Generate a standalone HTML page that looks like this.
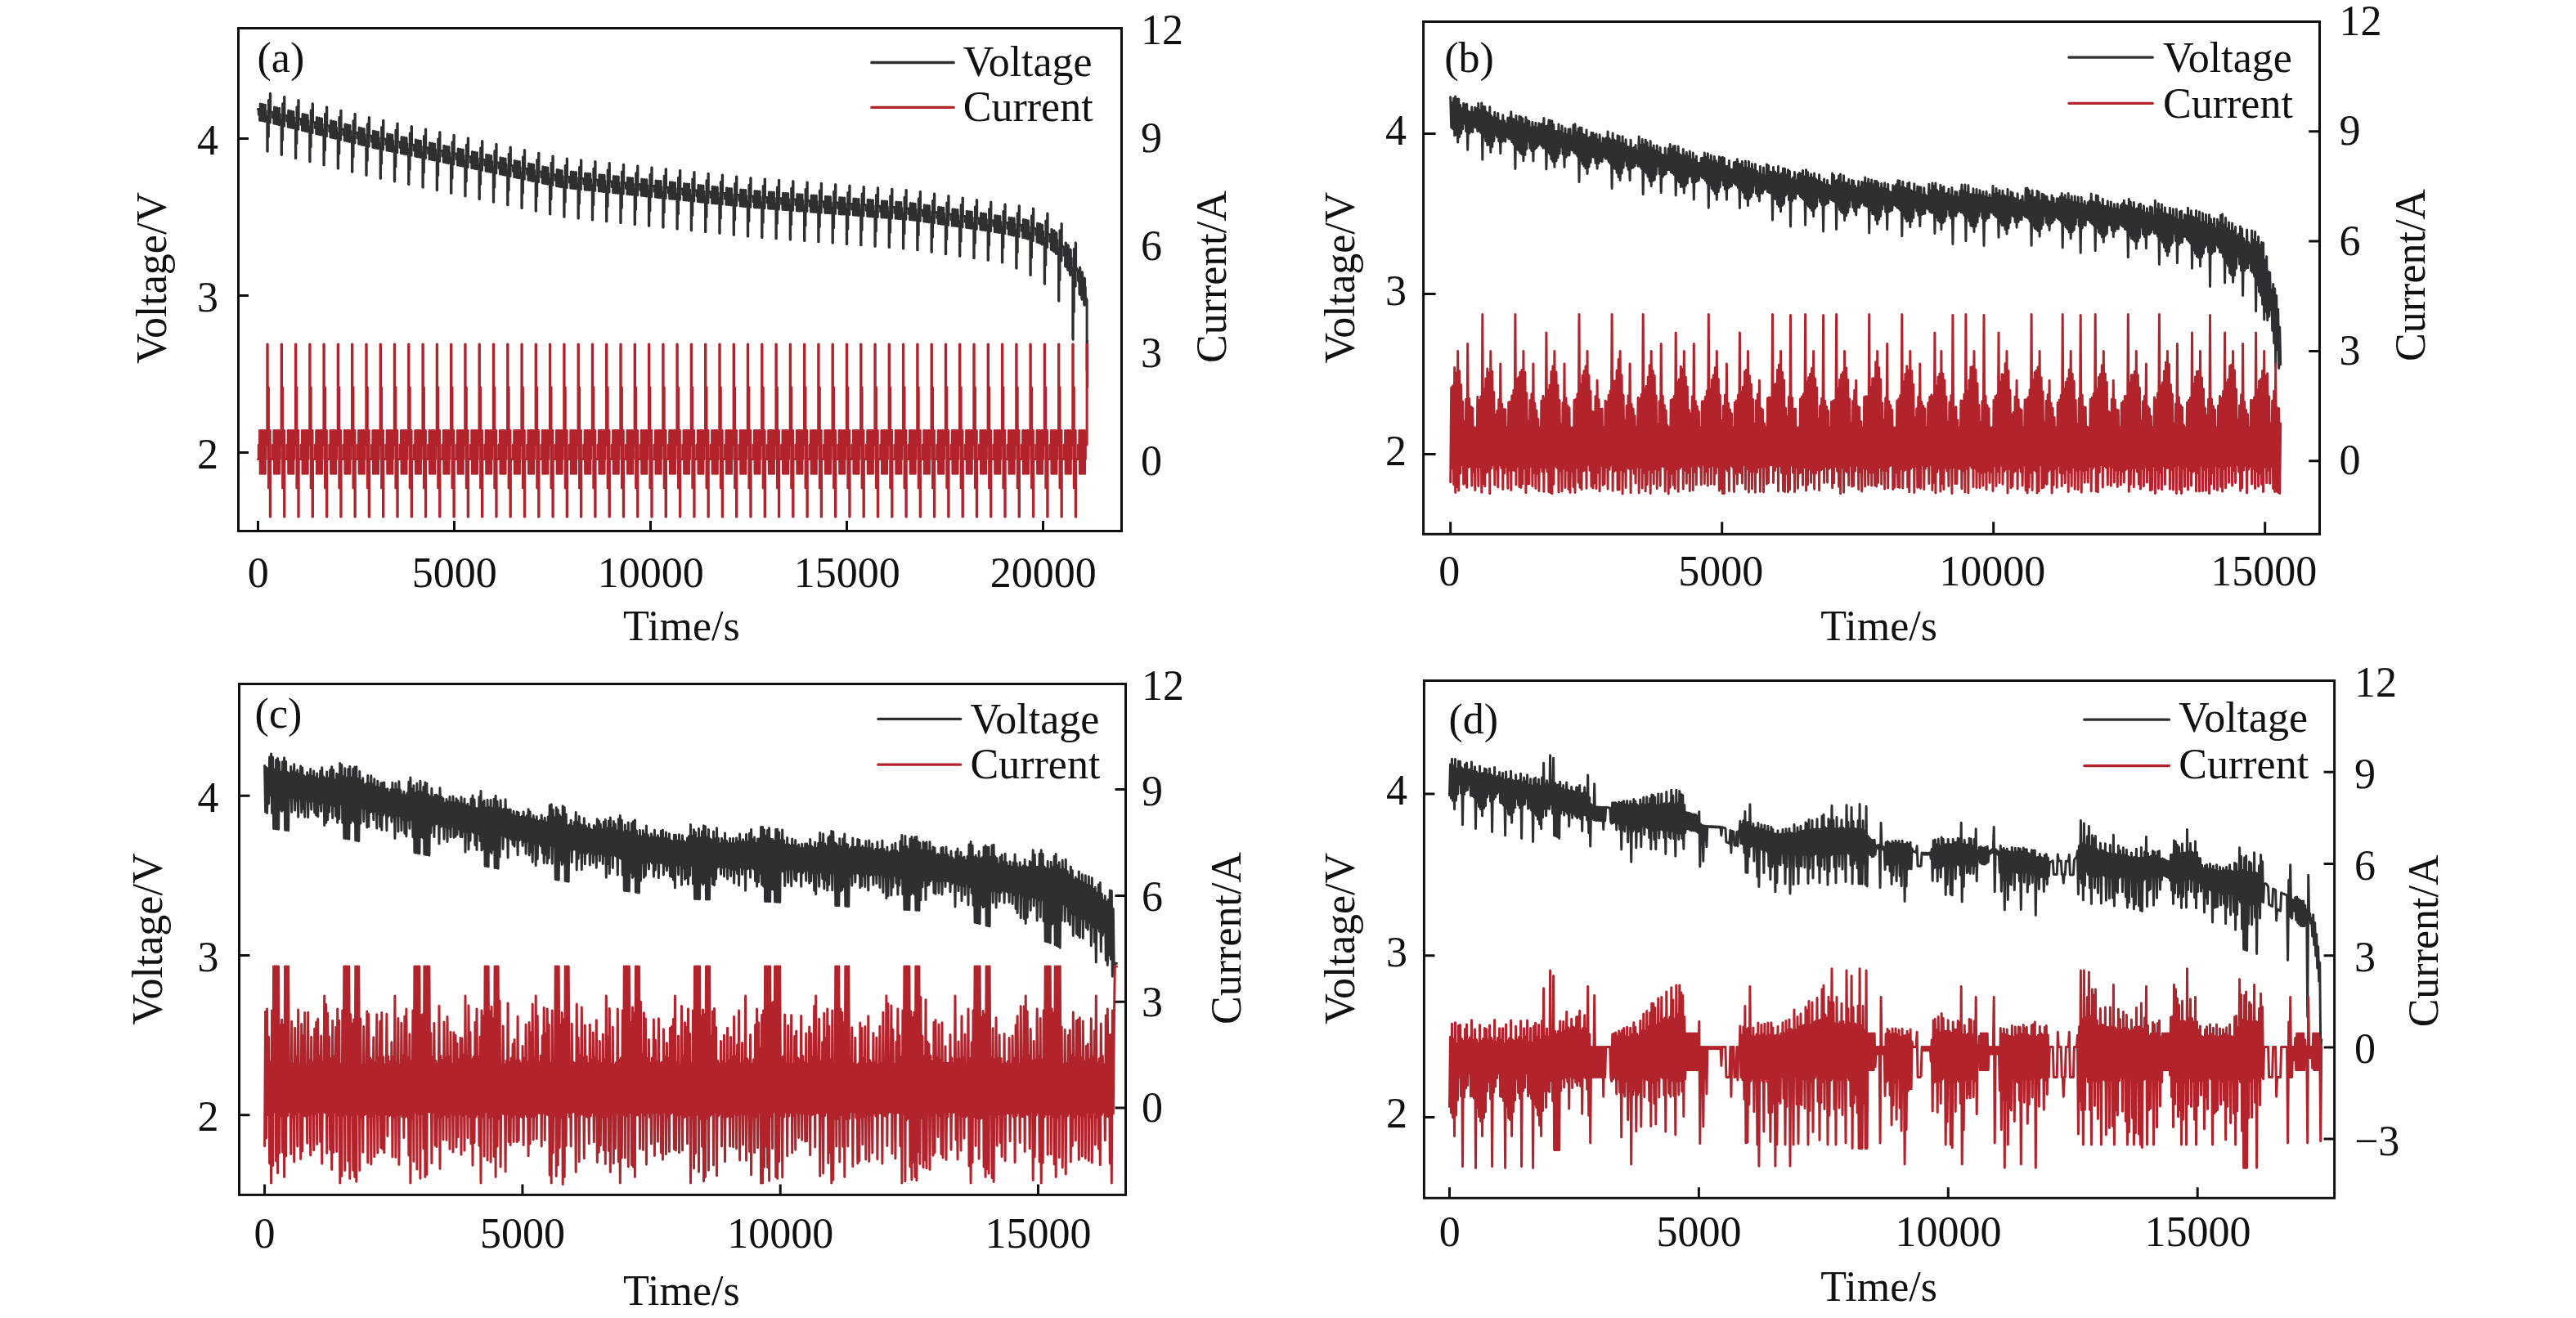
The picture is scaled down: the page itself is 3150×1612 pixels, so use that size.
<!DOCTYPE html>
<html><head><meta charset="utf-8"><title>Voltage and current profiles</title>
<style>html,body{margin:0;padding:0;background:#fff}svg{display:block}text{font-family:"Liberation Serif","Times New Roman",serif;font-size:52px;fill:#111}</style></head><body>
<svg width="3150" height="1612" viewBox="0 0 3150 1612">
<rect width="3150" height="1612" fill="#fff"/>
<g id="panel-a">
<path d="M315.5 133.5L316.3 133.6L316.3 140.3L317.6 140.5L317.6 147.2L318.2 147.3L318.2 127.1L318.6 127.1L318.6 133.9L319.3 134L319.3 140.7L320.5 140.8L320.5 147.6L321.1 147.7L321.1 127.5L321.5 127.6L321.5 134.4L322.2 134.5L322.2 141.3L323.4 141.5L323.4 148.3L323.9 148.4L323.9 128.2L324.3 128.3L324.3 135.1L325.1 135.2L325.1 142L326.8 142.4L326.8 185.1L327.2 185.2L327.2 166.8L328.4 167L328.4 122.6L328.7 122.7L328.7 149.6L330.3 149.9L330.3 114.3L330.7 114.4L330.7 136.6L332.8 137.1L332.8 137.1L333.5 137.3L333.5 144L334.9 144.3L334.9 151L335.5 151.2L335.5 131L335.9 131.1L335.9 137.8L336.6 138L336.6 144.7L337.8 145L337.8 151.7L338.3 151.9L338.3 131.7L338.7 131.8L338.7 138.5L339.5 138.7L339.5 145.4L340.7 145.7L340.7 152.4L341.2 152.6L341.2 132.4L341.6 132.5L341.6 139.2L342.4 139.4L342.4 146.1L344.1 146.6L344.1 189.3L344.5 189.4L344.5 170.9L345.6 171.2L345.6 126.8L346 126.9L346 153.7L347.6 154.1L347.6 118.5L347.9 118.5L347.9 140.8L350.1 141.3L350.1 141.3L350.8 141.5L350.8 148.2L352.2 148.5L352.2 155.2L352.7 155.4L352.7 135.2L353.1 135.3L353.1 142L353.9 142.2L353.9 148.9L355.1 149.2L355.1 155.9L355.6 156.1L355.6 135.9L356 136L356 142.7L356.8 142.9L356.8 149.6L357.9 149.9L357.9 156.6L358.5 156.8L358.5 136.6L358.9 136.7L358.9 143.4L359.7 143.6L359.7 150.3L361.4 150.7L361.4 193.5L361.8 193.5L361.8 175.1L362.9 175.4L362.9 130.9L363.3 131L363.3 157.9L364.8 158.3L364.8 122.6L365.2 122.7L365.2 144.9L367.3 145.5L367.3 145.5L368.1 145.6L368.1 152.4L369.5 152.7L369.5 159.4L370 159.5L370 139.4L370.4 139.5L370.4 146.2L371.2 146.4L371.2 153.1L372.3 153.4L372.3 160.1L372.9 160.2L372.9 140.1L373.3 140.2L373.3 146.9L374.1 147.1L374.1 153.8L375.2 154.1L375.2 160.8L375.8 160.9L375.8 140.8L376.2 140.9L376.2 147.6L376.9 147.8L376.9 154.5L378.7 154.9L378.7 197.6L379.1 197.7L379.1 179.3L380.2 179.6L380.2 135.1L380.6 135.2L380.6 162.1L382.1 162.5L382.1 126.8L382.5 126.9L382.5 149.1L384.6 149.6L384.6 149.6L385.4 149.8L385.4 156.5L386.7 156.9L386.7 163.6L387.3 163.7L387.3 143.6L387.7 143.7L387.7 150.4L388.5 150.6L388.5 157.3L389.6 157.6L389.6 164.3L390.2 164.4L390.2 144.3L390.6 144.3L390.6 151.1L391.3 151.3L391.3 158L392.5 158.3L392.5 165L393.1 165.1L393.1 145L393.5 145L393.5 151.8L394.2 152L394.2 158.7L395.9 159.1L395.9 201.8L396.3 201.9L396.3 183.5L397.5 183.7L397.5 139.3L397.9 139.4L397.9 166.3L399.4 166.6L399.4 131L399.8 131.1L399.8 153.3L401.9 153.8L401.9 153.8L402.7 154L402.7 160.7L404 161L404 167.8L404.6 167.9L404.6 147.7L405 147.8L405 154.6L405.7 154.7L405.7 161.5L406.9 161.7L406.9 168.5L407.5 168.6L407.5 148.4L407.9 148.5L407.9 155.2L408.6 155.4L408.6 162.2L409.8 162.4L409.8 169.2L410.3 169.3L410.3 149.1L410.7 149.2L410.7 155.9L411.5 156.1L411.5 162.9L413.2 163.3L413.2 206L413.6 206.1L413.6 187.6L414.8 187.9L414.8 143.5L415.1 143.6L415.1 170.5L416.7 170.8L416.7 135.2L417.1 135.3L417.1 157.5L419.2 158L419.2 158L419.9 158.2L419.9 164.9L421.3 165.2L421.3 171.9L421.9 172.1L421.9 151.9L422.3 152L422.3 158.7L423 158.9L423 165.6L424.2 165.9L424.2 172.6L424.7 172.8L424.7 152.6L425.1 152.7L425.1 159.4L425.9 159.6L425.9 166.3L427.1 166.6L427.1 173.3L427.6 173.5L427.6 153.3L428 153.4L428 160.1L428.8 160.3L428.8 167L430.5 167.4L430.5 210.2L430.9 210.3L430.9 191.8L432 192.1L432 147.7L432.4 147.8L432.4 174.6L434 175L434 139.3L434.3 139.4L434.3 161.7L436.5 162.2L436.5 162.2L437.2 162.4L437.2 169.1L438.6 169.4L438.6 176.1L439.1 176.3L439.1 156.1L439.5 156.2L439.5 162.9L440.3 163.1L440.3 169.8L441.5 170.1L441.5 176.8L442 177L442 156.8L442.4 156.9L442.4 163.6L443.2 163.8L443.2 170.5L444.3 170.8L444.3 177.5L444.9 177.6L444.9 157.5L445.3 157.6L445.3 164.3L446.1 164.5L446.1 171.2L447.8 171.6L447.8 214.3L448.2 214.4L448.2 196L449.3 196.3L449.3 151.8L449.7 151.9L449.7 178.8L451.2 179.2L451.2 143.5L451.6 143.6L451.6 165.8L453.7 166.3L453.7 166.3L454.5 166.5L454.5 173.3L455.9 173.6L455.9 180.3L456.4 180.4L456.4 160.2L456.8 160.3L456.8 167L457.6 167.2L457.6 173.9L458.7 174.2L458.7 180.9L459.3 181L459.3 160.8L459.7 160.9L459.7 167.6L460.5 167.8L460.5 174.5L461.6 174.8L461.6 181.5L462.2 181.6L462.2 161.4L462.6 161.5L462.6 168.2L463.3 168.4L463.3 175.1L465.1 175.5L465.1 218.2L465.5 218.3L465.5 199.8L466.6 200.1L466.6 155.6L467 155.7L467 182.6L468.5 182.9L468.5 147.3L468.9 147.3L468.9 169.6L471 170L471 170L471.8 170.2L471.8 176.9L473.1 177.2L473.1 183.9L473.7 184L473.7 163.8L474.1 163.9L474.1 170.6L474.9 170.8L474.9 177.5L476 177.8L476 184.5L476.6 184.6L476.6 164.4L477 164.5L477 171.2L477.7 171.4L477.7 178.1L478.9 178.4L478.9 185.1L479.5 185.2L479.5 165L479.9 165.1L479.9 171.8L480.6 172L480.6 178.7L482.3 179.1L482.3 221.8L482.7 221.9L482.7 203.5L483.9 203.7L483.9 159.2L484.3 159.3L484.3 186.2L485.8 186.5L485.8 150.9L486.2 151L486.2 173.2L488.3 173.6L488.3 173.6L489.1 173.8L489.1 180.5L490.4 180.8L490.4 187.5L491 187.6L491 167.4L491.4 167.5L491.4 174.2L492.1 174.4L492.1 181.1L493.3 181.4L493.3 188.1L493.9 188.2L493.9 168L494.3 168.1L494.3 174.8L495 175L495 181.7L496.2 182L496.2 188.7L496.7 188.8L496.7 168.6L497.1 168.7L497.1 175.4L497.9 175.6L497.9 182.3L499.6 182.7L499.6 225.4L500 225.5L500 207.1L501.2 207.3L501.2 162.9L501.5 162.9L501.5 189.8L503.1 190.1L503.1 154.5L503.5 154.6L503.5 176.8L505.6 177.2L505.6 177.2L506.3 177.4L506.3 184.1L507.7 184.4L507.7 191.1L508.3 191.2L508.3 171.1L508.7 171.1L508.7 177.9L509.4 178L509.4 184.7L510.6 185L510.6 191.7L511.1 191.8L511.1 171.7L511.5 171.7L511.5 178.5L512.3 178.6L512.3 185.3L513.5 185.6L513.5 192.3L514 192.4L514 172.3L514.4 172.3L514.4 179.1L515.2 179.2L515.2 185.9L516.9 186.3L516.9 229L517.3 229.1L517.3 210.7L518.4 210.9L518.4 166.5L518.8 166.5L518.8 193.4L520.4 193.7L520.4 158.1L520.7 158.2L520.7 180.4L522.9 180.8L522.9 180.8L523.6 181L523.6 187.7L525 188L525 194.7L525.5 194.8L525.5 174.7L525.9 174.7L525.9 181.5L526.7 181.6L526.7 188.3L527.9 188.6L527.9 195.3L528.4 195.4L528.4 175.3L528.8 175.3L528.8 182.1L529.6 182.2L529.6 188.9L530.7 189.2L530.7 195.9L531.3 196L531.3 175.9L531.7 175.9L531.7 182.7L532.5 182.8L532.5 189.5L534.2 189.9L534.2 232.6L534.6 232.7L534.6 214.3L535.7 214.5L535.7 170.1L536.1 170.1L536.1 197L537.6 197.3L537.6 161.7L538 161.8L538 184L540.1 184.4L540.1 184.4L540.9 184.6L540.9 191.3L542.3 191.6L542.3 198.3L542.8 198.4L542.8 178.3L543.2 178.3L543.2 185.1L544 185.2L544 191.9L545.1 192.2L545.1 198.9L545.7 199L545.7 178.9L546.1 178.9L546.1 185.7L546.9 185.8L546.9 192.5L548 192.8L548 199.5L548.6 199.6L548.6 179.5L549 179.5L549 186.3L549.7 186.4L549.7 193.1L551.5 193.5L551.5 236.2L551.9 236.3L551.9 217.9L553 218.1L553 173.7L553.4 173.7L553.4 200.6L554.9 200.9L554.9 165.3L555.3 165.4L555.3 187.6L557.4 188L557.4 188L558.2 188.2L558.2 194.9L559.5 195.2L559.5 201.9L560.1 202L560.1 181.9L560.5 181.9L560.5 188.7L561.3 188.8L561.3 195.6L562.4 195.8L562.4 202.5L563 202.6L563 182.5L563.4 182.6L563.4 189.3L564.1 189.4L564.1 196.2L565.3 196.4L565.3 203.1L565.9 203.2L565.9 183.1L566.3 183.2L566.3 189.9L567 190L567 196.8L568.7 197.1L568.7 239.8L569.1 239.9L569.1 221.5L570.3 221.7L570.3 177.3L570.7 177.4L570.7 204.2L572.2 204.6L572.2 168.9L572.6 169L572.6 191.2L574.7 191.6L574.7 191.6L575.5 191.8L575.5 198.5L576.8 198.8L576.8 205.5L577.4 205.6L577.4 185.5L577.8 185.6L577.8 192.3L578.5 192.4L578.5 199.2L579.7 199.4L579.7 206.1L580.3 206.2L580.3 186.1L580.7 186.2L580.7 192.9L581.4 193L581.4 199.8L582.6 200L582.6 206.7L583.1 206.8L583.1 186.7L583.5 186.8L583.5 193.5L584.3 193.7L584.3 200.4L586 200.7L586 243.5L586.4 243.5L586.4 225.1L587.6 225.4L587.6 180.9L587.9 181L587.9 207.9L589.5 208.2L589.5 172.5L589.9 172.6L589.9 194.8L592 195.3L592 195.3L592.7 195.4L592.7 202.2L594.1 202.4L594.1 209.2L594.7 209.3L594.7 189.1L595.1 189.2L595.1 195.9L595.8 196.1L595.8 202.8L597 203.1L597 209.8L597.5 209.9L597.5 189.7L597.9 189.8L597.9 196.5L598.7 196.7L598.7 203.4L599.9 203.7L599.9 210.4L600.4 210.5L600.4 190.4L600.8 190.4L600.8 197.2L601.6 197.3L601.6 204L603.3 204.4L603.3 247.1L603.7 247.2L603.7 228.8L604.8 229L604.8 184.6L605.2 184.7L605.2 211.5L606.8 211.9L606.8 176.2L607.1 176.3L607.1 198.5L609.3 198.9L609.3 198.9L610 199.1L610 205.8L611.4 206.1L611.4 212.8L611.9 213L611.9 192.8L612.3 192.9L612.3 199.6L613.1 199.8L613.1 206.5L614.3 206.7L614.3 213.4L614.8 213.6L614.8 193.4L615.2 193.5L615.2 200.2L616 200.4L616 207.1L617.1 207.3L617.1 214.1L617.7 214.2L617.7 194L618.1 194.1L618.1 200.8L618.9 201L618.9 207.7L620.6 208.1L620.6 250.8L621 250.9L621 232.4L622.1 232.7L622.1 188.2L622.5 188.3L622.5 215.2L624 215.5L624 179.9L624.4 179.9L624.4 202.2L626.5 202.6L626.5 202.6L627.3 202.8L627.3 209.5L628.7 209.8L628.7 216.5L629.2 216.6L629.2 196.5L629.6 196.5L629.6 203.3L630.4 203.4L630.4 210.1L631.5 210.4L631.5 217.1L632.1 217.2L632.1 197.1L632.5 197.2L632.5 203.9L633.3 204L633.3 210.8L634.4 211L634.4 217.7L635 217.8L635 197.7L635.4 197.8L635.4 204.5L636.1 204.6L636.1 211.4L637.9 211.7L637.9 254.5L638.3 254.5L638.3 236.1L639.4 236.3L639.4 191.9L639.8 192L639.8 218.9L641.3 219.2L641.3 183.5L641.7 183.6L641.7 205.8L643.8 206.3L643.8 206.3L644.6 206.4L644.6 213.2L645.9 213.4L645.9 220.2L646.5 220.3L646.5 200.1L646.9 200.2L646.9 206.9L647.7 207.1L647.7 213.8L648.8 214.1L648.8 220.8L649.4 220.9L649.4 200.7L649.8 200.8L649.8 207.5L650.5 207.7L650.5 214.4L651.7 214.7L651.7 221.4L652.3 221.5L652.3 201.3L652.7 201.4L652.7 208.1L653.4 208.3L653.4 215L655.1 215.4L655.1 258.1L655.5 258.2L655.5 239.8L656.7 240L656.7 195.6L657.1 195.6L657.1 222.5L658.6 222.8L658.6 187.2L659 187.3L659 209.5L661.1 209.9L661.1 209.9L661.9 210.1L661.9 216.8L663.2 217.1L663.2 223.8L663.8 223.9L663.8 203.8L664.2 203.9L664.2 210.6L664.9 210.8L664.9 217.5L666.1 217.7L666.1 224.4L666.7 224.6L666.7 204.4L667.1 204.5L667.1 211.2L667.8 211.4L667.8 218.1L669 218.3L669 225L669.5 225.2L669.5 205L669.9 205.1L669.9 211.8L670.7 212L670.7 218.7L672.4 219.1L672.4 261.8L672.8 261.9L672.8 243.4L674 243.7L674 199.2L674.3 199.3L674.3 226.2L675.9 226.5L675.9 190.9L676.3 190.9L676.3 213.2L678.4 213.6L678.4 213.6L679.1 213.8L679.1 220.5L680.5 220.8L680.5 227.5L681.1 227.6L681.1 207.4L681.5 207.5L681.5 214.3L682.2 214.4L682.2 221.1L683.4 221.4L683.4 228.1L683.9 228.2L683.9 208.1L684.3 208.1L684.3 214.9L685.1 215L685.1 221.7L686.3 222L686.3 228.7L686.8 228.8L686.8 208.7L687.2 208.8L687.2 215.5L688 215.6L688 222.4L689.7 222.6L689.7 265.3L690.1 265.3L690.1 246.9L691.2 247L691.2 202.6L691.6 202.6L691.6 229.5L693.2 229.6L693.2 194L693.5 194L693.5 216.2L695.7 216.5L695.7 216.5L696.4 216.5L696.4 223.3L697.8 223.4L697.8 230.1L698.3 230.2L698.3 210L698.7 210.1L698.7 216.8L699.5 216.9L699.5 223.6L700.7 223.7L700.7 230.4L701.2 230.5L701.2 210.3L701.6 210.4L701.6 217.1L702.4 217.2L702.4 223.9L703.5 224L703.5 230.7L704.1 230.8L704.1 210.6L704.5 210.7L704.5 217.4L705.3 217.5L705.3 224.2L707 224.4L707 267.1L707.4 267.1L707.4 248.7L708.5 248.8L708.5 204.4L708.9 204.4L708.9 231.3L710.4 231.5L710.4 195.8L710.8 195.9L710.8 218.1L712.9 218.3L712.9 218.3L713.7 218.4L713.7 225.1L715.1 225.2L715.1 232L715.6 232L715.6 211.9L716 211.9L716 218.6L716.8 218.7L716.8 225.4L717.9 225.5L717.9 232.3L718.5 232.3L718.5 212.2L718.9 212.2L718.9 218.9L719.7 219L719.7 225.7L720.8 225.8L720.8 232.6L721.4 232.6L721.4 212.5L721.8 212.5L721.8 219.2L722.5 219.3L722.5 226L724.3 226.2L724.3 268.9L724.7 269L724.7 250.5L725.8 250.7L725.8 206.2L726.2 206.2L726.2 233.1L727.7 233.3L727.7 197.6L728.1 197.7L728.1 219.9L730.2 220.1L730.2 220.1L731 220.2L731 226.9L732.3 227.1L732.3 233.8L732.9 233.8L732.9 213.7L733.3 213.7L733.3 220.4L734.1 220.5L734.1 227.2L735.2 227.4L735.2 234.1L735.8 234.1L735.8 214L736.2 214L736.2 220.7L736.9 220.8L736.9 227.5L738.1 227.7L738.1 234.4L738.7 234.4L738.7 214.3L739.1 214.3L739.1 221L739.8 221.1L739.8 227.8L741.5 228L741.5 270.7L741.9 270.8L741.9 252.4L743.1 252.5L743.1 208L743.5 208.1L743.5 235L745 235.1L745 199.5L745.4 199.5L745.4 221.7L747.5 221.9L747.5 221.9L748.3 222L748.3 228.7L749.6 228.9L749.6 235.6L750.2 235.7L750.2 215.5L750.6 215.5L750.6 222.3L751.3 222.3L751.3 229.1L752.5 229.2L752.5 235.9L753.1 236L753.1 215.8L753.5 215.8L753.5 222.6L754.2 222.6L754.2 229.4L755.4 229.5L755.4 236.2L755.9 236.3L755.9 216.1L756.3 216.1L756.3 222.9L757.1 223L757.1 229.7L758.8 229.9L758.8 272.6L759.2 272.6L759.2 254.2L760.4 254.3L760.4 209.9L760.7 209.9L760.7 236.8L762.3 236.9L762.3 201.3L762.7 201.3L762.7 223.5L764.8 223.8L764.8 223.8L765.5 223.8L765.5 230.6L766.9 230.7L766.9 237.4L767.5 237.5L767.5 217.3L767.9 217.4L767.9 224.1L768.6 224.2L768.6 230.9L769.8 231L769.8 237.7L770.3 237.8L770.3 217.6L770.7 217.7L770.7 224.4L771.5 224.5L771.5 231.2L772.7 231.3L772.7 238L773.2 238.1L773.2 217.9L773.6 218L773.6 224.7L774.4 224.8L774.4 231.5L776.1 231.7L776.1 274.4L776.5 274.4L776.5 256L777.6 256.1L777.6 211.7L778 211.7L778 238.6L779.6 238.8L779.6 203.1L779.9 203.1L779.9 225.4L782.1 225.6L782.1 225.6L782.8 225.7L782.8 232.4L784.2 232.5L784.2 239.2L784.7 239.3L784.7 219.1L785.1 219.2L785.1 225.9L785.9 226L785.9 232.7L787.1 232.8L787.1 239.6L787.6 239.6L787.6 219.5L788 219.5L788 226.2L788.8 226.3L788.8 233L789.9 233.1L789.9 239.9L790.5 239.9L790.5 219.8L790.9 219.8L790.9 226.5L791.7 226.6L791.7 233.3L793.4 233.5L793.4 276.2L793.8 276.3L793.8 257.8L794.9 258L794.9 213.5L795.3 213.5L795.3 240.4L796.8 240.6L796.8 204.9L797.2 205L797.2 227.2L799.3 227.4L799.3 227.4L800.1 227.5L800.1 234.2L801.5 234.4L801.5 241.1L802 241.1L802 221L802.4 221L802.4 227.7L803.2 227.8L803.2 234.5L804.3 234.7L804.3 241.4L804.9 241.4L804.9 221.3L805.3 221.3L805.3 228L806.1 228.1L806.1 234.8L807.2 235L807.2 241.7L807.8 241.7L807.8 221.6L808.2 221.6L808.2 228.3L808.9 228.4L808.9 235.1L810.7 235.3L810.7 278L811.1 278.1L811.1 259.7L812.2 259.8L812.2 215.3L812.6 215.4L812.6 242.2L814.1 242.4L814.1 206.8L814.5 206.8L814.5 229L816.6 229.2L816.6 229.2L817.4 229.3L817.4 236L818.7 236.2L818.7 242.9L819.3 243L819.3 222.8L819.7 222.8L819.7 229.6L820.5 229.6L820.5 236.4L821.6 236.5L821.6 243.2L822.2 243.3L822.2 223.1L822.6 223.1L822.6 229.9L823.3 229.9L823.3 236.7L824.5 236.8L824.5 243.5L825.1 243.6L825.1 223.4L825.5 223.4L825.5 230.2L826.2 230.2L826.2 237L827.9 237.2L827.9 279.9L828.3 279.9L828.3 261.5L829.5 261.6L829.5 217.2L829.9 217.2L829.9 244.1L831.4 244.2L831.4 208.6L831.8 208.6L831.8 230.8L833.9 231.1L833.9 231.1L834.7 231.1L834.7 237.9L836 238L836 244.7L836.6 244.8L836.6 224.6L837 224.7L837 231.4L837.7 231.5L837.7 238.2L838.9 238.3L838.9 245L839.5 245.1L839.5 224.9L839.9 225L839.9 231.7L840.6 231.8L840.6 238.5L841.8 238.6L841.8 245.3L842.3 245.4L842.3 225.2L842.7 225.3L842.7 232L843.5 232.1L843.5 238.8L845.2 239L845.2 281.7L845.6 281.7L845.6 263.3L846.8 263.4L846.8 219L847.1 219L847.1 245.9L848.7 246.1L848.7 210.4L849.1 210.4L849.1 232.7L851.2 232.9L851.2 232.9L851.9 233L851.9 239.7L853.3 239.8L853.3 246.5L853.9 246.6L853.9 226.4L854.3 226.5L854.3 233.2L855 233.3L855 240L856.2 240.1L856.2 246.9L856.7 246.9L856.7 226.8L857.1 226.8L857.1 233.5L857.9 233.6L857.9 240.3L859.1 240.4L859.1 247.2L859.6 247.2L859.6 227.1L860 227.1L860 233.8L860.8 233.9L860.8 240.6L862.5 240.8L862.5 283.5L862.9 283.6L862.9 265.1L864 265.3L864 220.8L864.4 220.8L864.4 247.7L866 247.9L866 212.2L866.3 212.3L866.3 234.5L868.5 234.7L868.5 234.7L869.2 234.8L869.2 241.5L870.6 241.7L870.6 248.4L871.1 248.4L871.1 228.3L871.5 228.3L871.5 235L872.3 235.1L872.3 241.8L873.5 242L873.5 248.7L874 248.7L874 228.6L874.4 228.6L874.4 235.3L875.2 235.4L875.2 242.1L876.3 242.3L876.3 249L876.9 249L876.9 228.9L877.3 228.9L877.3 235.6L878.1 235.7L878.1 242.4L879.8 242.6L879.8 285.3L880.2 285.4L880.2 267L881.3 267.1L881.3 222.6L881.7 222.7L881.7 249.5L883.2 249.7L883.2 214.1L883.6 214.1L883.6 236.3L885.7 236.5L885.7 236.5L886.5 236.6L886.5 243.3L887.9 243.5L887.9 250.2L888.4 250.3L888.4 230.1L888.8 230.1L888.8 236.9L889.6 236.9L889.6 243.7L890.7 243.8L890.7 250.5L891.3 250.6L891.3 230.4L891.7 230.4L891.7 237.2L892.5 237.2L892.5 244L893.6 244.1L893.6 250.8L894.2 250.9L894.2 230.7L894.6 230.7L894.6 237.5L895.3 237.5L895.3 244.3L897.1 244.4L897.1 287.2L897.5 287.2L897.5 268.8L898.6 268.9L898.6 224.5L899 224.5L899 251.4L900.5 251.5L900.5 215.9L900.9 215.9L900.9 238.1L903 238.4L903 238.4L903.8 238.4L903.8 245.2L905.1 245.3L905.1 252L905.7 252.1L905.7 231.9L906.1 232L906.1 238.7L906.9 238.8L906.9 245.5L908 245.6L908 252.3L908.6 252.4L908.6 232.2L909 232.3L909 239L909.7 239.1L909.7 245.8L910.9 245.9L910.9 252.6L911.5 252.7L911.5 232.5L911.9 232.6L911.9 239.3L912.6 239.4L912.6 246.1L914.3 246.3L914.3 289L914.7 289L914.7 270.6L915.9 270.7L915.9 226.3L916.3 226.3L916.3 253.2L917.8 253.3L917.8 217.6L918.2 217.7L918.2 239.9L920.3 240L920.3 240L921.1 240.1L921.1 246.8L922.4 246.9L922.4 253.6L923 253.7L923 233.5L923.4 233.6L923.4 240.3L924.1 240.3L924.1 247.1L925.3 247.2L925.3 253.9L925.9 253.9L925.9 233.8L926.3 233.8L926.3 240.5L927 240.6L927 247.3L928.2 247.4L928.2 254.1L928.7 254.1L928.7 234L929.1 234L929.1 240.7L929.9 240.8L929.9 247.5L931.6 247.6L931.6 290.4L932 290.4L932 272L933.2 272L933.2 227.6L933.5 227.6L933.5 254.5L935.1 254.6L935.1 219L935.5 219L935.5 241.2L937.6 241.4L937.6 241.4L938.3 241.4L938.3 248.2L939.7 248.3L939.7 255L940.3 255L940.3 234.9L940.7 234.9L940.7 241.6L941.4 241.7L941.4 248.4L942.6 248.5L942.6 255.2L943.1 255.3L943.1 235.1L943.5 235.1L943.5 241.8L944.3 241.9L944.3 248.6L945.5 248.7L945.5 255.4L946 255.5L946 235.3L946.4 235.3L946.4 242.1L947.2 242.1L947.2 248.8L948.9 249L948.9 291.7L949.3 291.7L949.3 273.3L950.4 273.4L950.4 228.9L950.8 229L950.8 255.8L952.4 256L952.4 220.3L952.7 220.3L952.7 242.6L954.9 242.7L954.9 242.7L955.6 242.8L955.6 249.5L957 249.6L957 256.3L957.5 256.4L957.5 236.2L957.9 236.2L957.9 243L958.7 243L958.7 249.7L959.9 249.8L959.9 256.5L960.4 256.6L960.4 236.4L960.8 236.5L960.8 243.2L961.6 243.2L961.6 250L962.7 250L962.7 256.8L963.3 256.8L963.3 236.6L963.7 236.7L963.7 243.4L964.5 243.5L964.5 250.2L966.2 250.3L966.2 293L966.6 293.1L966.6 274.6L967.7 274.7L967.7 230.3L968.1 230.3L968.1 257.2L969.6 257.3L969.6 221.6L970 221.7L970 243.9L972.1 244L972.1 244L972.9 244.1L972.9 250.8L974.3 250.9L974.3 257.7L974.8 257.7L974.8 237.5L975.2 237.6L975.2 244.3L976 244.3L976 251.1L977.1 251.2L977.1 257.9L977.7 257.9L977.7 237.8L978.1 237.8L978.1 244.5L978.9 244.6L978.9 251.3L980 251.4L980 258.1L980.6 258.1L980.6 238L981 238L981 244.7L981.7 244.8L981.7 251.5L983.5 251.6L983.5 294.4L983.9 294.4L983.9 276L985 276.1L985 231.6L985.4 231.6L985.4 258.5L986.9 258.6L986.9 223L987.3 223L987.3 245.2L989.4 245.4L989.4 245.4L990.2 245.4L990.2 252.2L991.5 252.3L991.5 259L992.1 259L992.1 238.9L992.5 238.9L992.5 245.6L993.3 245.7L993.3 252.4L994.4 252.5L994.4 259.2L995 259.3L995 239.1L995.4 239.1L995.4 245.8L996.1 245.9L996.1 252.6L997.3 252.7L997.3 259.4L997.9 259.5L997.9 239.3L998.3 239.3L998.3 246.1L999 246.1L999 252.8L1000.7 253L1000.7 295.7L1001.1 295.7L1001.1 277.3L1002.3 277.4L1002.3 232.9L1002.7 233L1002.7 259.8L1004.2 260L1004.2 224.3L1004.6 224.3L1004.6 246.6L1006.7 246.7L1006.7 246.7L1007.5 246.8L1007.5 253.5L1008.8 253.6L1008.8 260.3L1009.4 260.4L1009.4 240.2L1009.8 240.2L1009.8 247L1010.5 247L1010.5 253.7L1011.7 253.8L1011.7 260.5L1012.3 260.6L1012.3 240.4L1012.7 240.5L1012.7 247.2L1013.4 247.2L1013.4 254L1014.6 254L1014.6 260.8L1015.1 260.8L1015.1 240.7L1015.5 240.7L1015.5 247.4L1016.3 247.5L1016.3 254.2L1018 254.3L1018 297L1018.4 297.1L1018.4 278.6L1019.6 278.7L1019.6 234.3L1019.9 234.3L1019.9 261.2L1021.5 261.3L1021.5 225.6L1021.9 225.7L1021.9 247.9L1024 248.1L1024 248.1L1024.7 248.1L1024.7 254.8L1026.1 254.9L1026.1 261.7L1026.7 261.7L1026.7 241.5L1027.1 241.6L1027.1 248.3L1027.8 248.3L1027.8 255.1L1029 255.2L1029 261.9L1029.5 261.9L1029.5 241.8L1029.9 241.8L1029.9 248.5L1030.7 248.6L1030.7 255.3L1031.9 255.4L1031.9 262.1L1032.4 262.1L1032.4 242L1032.8 242L1032.8 248.7L1033.6 248.8L1033.6 255.5L1035.3 255.6L1035.3 298.4L1035.7 298.4L1035.7 280L1036.8 280.1L1036.8 235.6L1037.2 235.6L1037.2 262.5L1038.8 262.6L1038.8 227L1039.1 227L1039.1 249.2L1041.3 249.4L1041.3 249.4L1042 249.5L1042 256.2L1043.4 256.3L1043.4 263L1043.9 263.1L1043.9 242.9L1044.3 242.9L1044.3 249.6L1045.1 249.7L1045.1 256.4L1046.3 256.5L1046.3 263.2L1046.8 263.3L1046.8 243.1L1047.2 243.2L1047.2 249.9L1048 249.9L1048 256.7L1049.1 256.8L1049.1 263.5L1049.7 263.5L1049.7 243.4L1050.1 243.4L1050.1 250.1L1050.9 250.2L1050.9 256.9L1052.6 257L1052.6 299.8L1053 299.8L1053 281.3L1054.1 281.4L1054.1 237L1054.5 237L1054.5 263.9L1056 264L1056 228.4L1056.4 228.4L1056.4 250.6L1058.5 250.8L1058.5 250.8L1059.3 250.9L1059.3 257.6L1060.7 257.7L1060.7 264.4L1061.2 264.5L1061.2 244.3L1061.6 244.3L1061.6 251L1062.4 251.1L1062.4 257.8L1063.5 257.9L1063.5 264.6L1064.1 264.7L1064.1 244.5L1064.5 244.6L1064.5 251.3L1065.3 251.3L1065.3 258.1L1066.4 258.2L1066.4 264.9L1067 264.9L1067 244.8L1067.4 244.8L1067.4 251.5L1068.1 251.6L1068.1 258.3L1069.9 258.4L1069.9 301.2L1070.3 301.2L1070.3 282.7L1071.4 282.8L1071.4 238.4L1071.8 238.4L1071.8 265.3L1073.3 265.4L1073.3 229.8L1073.7 229.8L1073.7 252L1075.8 252.2L1075.8 252.2L1076.6 252.3L1076.6 259L1077.9 259.1L1077.9 265.8L1078.5 265.9L1078.5 245.7L1078.9 245.7L1078.9 252.4L1079.7 252.5L1079.7 259.2L1080.8 259.3L1080.8 266L1081.4 266.1L1081.4 245.9L1081.8 246L1081.8 252.7L1082.5 252.7L1082.5 259.5L1083.7 259.6L1083.7 266.3L1084.3 266.3L1084.3 246.2L1084.7 246.2L1084.7 252.9L1085.4 253L1085.4 259.7L1087.1 259.8L1087.1 302.6L1087.5 302.6L1087.5 284.1L1088.7 284.2L1088.7 239.8L1089.1 239.8L1089.1 266.7L1090.6 266.8L1090.6 231.2L1091 231.2L1091 253.4L1093.1 253.6L1093.1 253.6L1093.9 253.7L1093.9 260.4L1095.2 260.5L1095.2 267.2L1095.8 267.3L1095.8 247.1L1096.2 247.1L1096.2 253.8L1096.9 253.9L1096.9 260.6L1098.1 260.7L1098.1 267.4L1098.7 267.5L1098.7 247.3L1099.1 247.4L1099.1 254.1L1099.8 254.1L1099.8 260.9L1101 261L1101 267.7L1101.5 267.7L1101.5 247.6L1101.9 247.6L1101.9 254.3L1102.7 254.4L1102.7 261.1L1104.4 261.2L1104.4 304L1104.8 304L1104.8 285.5L1106 285.6L1106 241.2L1106.3 241.2L1106.3 268.1L1107.9 268.2L1107.9 232.6L1108.3 232.6L1108.3 254.8L1110.4 255L1110.4 255L1111.1 255.1L1111.1 261.8L1112.5 261.9L1112.5 268.6L1113.1 268.7L1113.1 248.5L1113.5 248.5L1113.5 255.2L1114.2 255.3L1114.2 262L1115.4 262.1L1115.4 268.8L1115.9 268.9L1115.9 248.7L1116.3 248.8L1116.3 255.5L1117.1 255.6L1117.1 262.3L1118.3 262.5L1118.3 269.2L1118.8 269.3L1118.8 249.2L1119.2 249.2L1119.2 255.9L1120 256L1120 262.8L1121.7 263L1121.7 305.7L1122.1 305.8L1122.1 287.4L1123.2 287.5L1123.2 243.1L1123.6 243.1L1123.6 270L1125.2 270.2L1125.2 234.6L1125.5 234.6L1125.5 256.8L1127.7 257.1L1127.7 257.1L1128.4 257.3L1128.4 264L1129.8 264.2L1129.8 270.9L1130.3 271L1130.3 250.8L1130.7 250.9L1130.7 257.6L1131.5 257.7L1131.5 264.4L1132.7 264.6L1132.7 271.3L1133.2 271.4L1133.2 251.2L1133.6 251.3L1133.6 258L1134.4 258.1L1134.4 264.8L1135.5 265L1135.5 271.7L1136.1 271.8L1136.1 251.6L1136.5 251.7L1136.5 258.4L1137.3 258.5L1137.3 265.2L1139 265.5L1139 308.2L1139.4 308.3L1139.4 289.8L1140.5 290L1140.5 245.6L1140.9 245.6L1140.9 272.5L1142.4 272.7L1142.4 237.1L1142.8 237.1L1142.8 259.3L1144.9 259.6L1144.9 259.6L1145.7 259.7L1145.7 266.5L1147.1 266.6L1147.1 273.4L1147.6 273.5L1147.6 253.3L1148 253.3L1148 260.1L1148.8 260.2L1148.8 266.9L1149.9 267.1L1149.9 273.8L1150.5 273.9L1150.5 253.7L1150.9 253.8L1150.9 260.5L1151.7 260.6L1151.7 267.3L1152.8 267.5L1152.8 274.2L1153.4 274.3L1153.4 254.1L1153.8 254.2L1153.8 260.9L1154.5 261L1154.5 267.7L1156.3 268L1156.3 310.7L1156.7 310.7L1156.7 292.3L1157.8 292.5L1157.8 248L1158.2 248.1L1158.2 275L1159.7 275.2L1159.7 239.5L1160.1 239.6L1160.1 261.8L1162.2 262.1L1162.2 262.1L1163 262.2L1163 268.9L1164.3 269.1L1164.3 275.9L1164.9 275.9L1164.9 255.8L1165.3 255.8L1165.3 262.5L1166.1 262.7L1166.1 269.4L1167.2 269.5L1167.2 276.3L1167.8 276.3L1167.8 256.2L1168.2 256.2L1168.2 263L1168.9 263.1L1168.9 269.8L1170.1 270L1170.1 276.7L1170.7 276.8L1170.7 256.6L1171.1 256.7L1171.1 263.4L1171.8 263.5L1171.8 270.2L1173.5 270.5L1173.5 313.2L1173.9 313.2L1173.9 294.8L1175.1 295L1175.1 250.5L1175.5 250.6L1175.5 277.5L1177 277.7L1177 242L1177.4 242.1L1177.4 264.3L1179.5 264.6L1179.5 264.6L1180.3 264.7L1180.3 271.4L1181.6 271.6L1181.6 278.3L1182.2 278.4L1182.2 258.3L1182.6 258.3L1182.6 265L1183.3 265.1L1183.3 271.9L1184.5 272L1184.5 278.7L1185.1 278.8L1185.1 258.7L1185.5 258.7L1185.5 265.4L1186.2 265.6L1186.2 272.3L1187.4 272.4L1187.4 279.2L1187.9 279.2L1187.9 259.1L1188.3 259.1L1188.3 265.9L1189.1 266L1189.1 272.7L1190.8 272.9L1190.8 315.7L1191.2 315.7L1191.2 297.3L1192.4 297.4L1192.4 253L1192.7 253.1L1192.7 279.9L1194.3 280.2L1194.3 244.5L1194.7 244.6L1194.7 266.8L1196.8 267.1L1196.8 267.1L1197.5 267.2L1197.5 273.9L1198.9 274.1L1198.9 280.8L1199.5 280.9L1199.5 260.7L1199.9 260.8L1199.9 267.5L1200.6 267.6L1200.6 274.3L1201.8 274.5L1201.8 281.2L1202.3 281.3L1202.3 261.2L1202.7 261.2L1202.7 267.9L1203.5 268.1L1203.5 274.8L1204.7 275L1204.7 281.7L1205.2 281.8L1205.2 261.6L1205.6 261.7L1205.6 268.4L1206.4 268.5L1206.4 275.2L1208.1 275.5L1208.1 318.2L1208.5 318.3L1208.5 299.9L1209.6 300L1209.6 255.6L1210 255.7L1210 282.5L1211.6 282.8L1211.6 247.1L1211.9 247.2L1211.9 269.4L1214.1 269.8L1214.1 269.8L1214.8 269.9L1214.8 276.6L1216.2 276.8L1216.2 283.5L1216.7 283.6L1216.7 263.5L1217.1 263.5L1217.1 270.2L1217.9 270.4L1217.9 277.1L1219.1 277.3L1219.1 284L1219.6 284.1L1219.6 263.9L1220 264L1220 270.7L1220.8 270.8L1220.8 277.6L1221.9 277.7L1221.9 284.5L1222.5 284.5L1222.5 264.4L1222.9 264.5L1222.9 271.2L1223.7 271.3L1223.7 278L1225.4 278.3L1225.4 321L1225.8 321.1L1225.8 302.6L1226.9 302.8L1226.9 258.4L1227.3 258.4L1227.3 285.3L1228.8 285.6L1228.8 249.9L1229.2 249.9L1229.2 272.2L1231.3 272.5L1231.3 272.5L1232.1 272.6L1232.1 279.5L1233.5 279.7L1233.5 286.7L1234 286.8L1234 266.1L1234.4 266.2L1234.4 273L1235.2 273.1L1235.2 280L1236.3 280.2L1236.3 287.3L1236.9 287.4L1236.9 266.5L1237.3 266.6L1237.3 273.4L1238.1 273.5L1238.1 280.5L1239.2 280.7L1239.2 287.9L1239.8 288.1L1239.8 266.9L1240.2 267L1240.2 273.9L1240.9 274L1240.9 281.1L1242.7 281.4L1242.7 328L1243.1 328.1L1243.1 308L1244.2 308.4L1244.2 260.7L1244.6 260.7L1244.6 289.1L1246.1 289.5L1246.1 251.8L1246.5 251.9L1246.5 274.9L1248.6 275.2L1248.6 275.2L1249.4 275.3L1249.4 282.6L1250.7 282.8L1250.7 290.5L1251.3 290.6L1251.3 268.6L1251.7 268.6L1251.7 275.7L1252.5 275.8L1252.5 283.1L1253.6 283.4L1253.6 291.1L1254.2 291.3L1254.2 269L1254.6 269.1L1254.6 276.2L1255.3 276.4L1255.3 283.9L1256.5 284.2L1256.5 292.1L1257.1 292.3L1257.1 269.8L1257.5 269.9L1257.5 277L1258.2 277.2L1258.2 284.8L1259.9 285.3L1259.9 336.3L1260.3 336.5L1260.3 314.4L1261.5 315L1261.5 263.9L1261.9 264L1261.9 294L1263.4 294.5L1263.4 255.1L1263.8 255.2L1263.8 278.8L1265.9 279.4L1265.9 279.4L1266.7 279.6L1266.7 287.4L1268 287.8L1268 296.1L1268.6 296.3L1268.6 273L1269 273.1L1269 280.3L1269.7 280.5L1269.7 288.3L1270.9 288.7L1270.9 297.1L1271.5 297.3L1271.5 273.8L1271.9 273.9L1271.9 281.2L1272.6 281.6L1272.6 289.4L1273.8 290L1273.8 298.6L1274.3 298.9L1274.3 275.1L1274.7 275.3L1274.7 282.6L1275.5 283L1275.5 290.9L1277.2 291.8L1277.2 346.9L1277.6 347.2L1277.6 323.4L1278.8 324.2L1278.8 269.9L1279.1 270.1L1279.1 301.6L1280.7 302.5L1280.7 261.1L1281.1 261.3L1281.1 285.7L1283.2 286.7L1283.2 286.7L1283.9 287.1L1283.9 295.4L1285.3 296.1L1285.3 305.3L1285.9 305.7L1285.9 280.5L1286.3 280.7L1286.3 288.2L1287 288.6L1287 297L1288.2 297.6L1288.2 307.1L1288.7 307.5L1288.7 281.9L1289.1 282L1289.1 289.6L1289.9 290.3L1289.9 298.9L1291.1 300.2L1291.1 309.9L1291.6 310.6L1291.6 284.6L1292 285L1292 292.6L1292.8 293.5L1292.8 302.2L1294.5 304.3L1294.5 367.5L1294.9 368.2L1294.9 340.8L1296 342.5L1296 281.7L1296.4 282.1L1296.4 316.7L1298 318.9L1298 273.4L1298.3 273.7L1298.3 299.7L1300.5 302L1300.5 302L1301.2 302.9L1301.2 312.4L1302.6 314.1L1302.6 325.5L1303.1 326.3L1303.1 296.8L1303.5 297.2L1303.5 305.4L1304.3 306.3L1304.3 316.2L1305.5 317.6L1305.5 329.6L1306 330.4L1306 299.8L1306.4 300.4L1306.4 308.7L1307.2 310.2L1307.2 320.5L1308.3 322.9L1308.3 335.4L1308.9 336.7L1308.9 305L1309.3 305.7L1309.3 314.2L1310.1 315.7L1310.1 326.4L1311.8 330L1311.8 413.9L1312.2 415.2L1312.2 378.8L1313.3 381.6L1313.3 304.5L1313.7 305.2L1313.7 347.2L1315.2 350.2L1315.2 296.8L1315.6 297.6L1315.6 326.5L1317.7 330.6L1317.7 330.6L1318.5 332L1318.5 343.1L1319.9 345.7L1319.9 359.2L1320.4 360.3L1320.4 327L1320.8 327.8L1320.8 336.5L1321.6 338L1321.6 349.1L1322.7 351.3L1322.7 364.8L1323.3 366.1L1323.3 332.8L1323.7 333.8L1323.7 342.5L1324.5 344.4L1324.5 355.5L1325.6 358.4L1325.6 371.9L1326.2 373.3L1326.2 340.1L1326.6 341L1326.6 349.8L1327.3 351.7L1327.3 362.8L1329.1 367.1L1329.1 452.6L1329.5 453.5L1329.5 416.7L1329.5 419.1" fill="none" stroke="#2f2f33" stroke-width="3" stroke-linejoin="round" stroke-linecap="round"/>
<path d="M315.5 561.6L316.3 561.6L316.3 544L317.6 544L317.6 526.5L318.2 526.5L318.2 579.2L318.6 579.2L318.6 561.6L319.3 561.6L319.3 544L320.5 544L320.5 526.5L321.1 526.5L321.1 579.2L321.5 579.2L321.5 561.6L322.2 561.6L322.2 544L323.4 544L323.4 526.5L323.9 526.5L323.9 579.2L324.3 579.2L324.3 561.6L325.1 561.6L325.1 544L326.8 544L326.8 421L327.2 421L327.2 473.7L328.4 473.7L328.4 596.7L328.7 596.7L328.7 526.5L330.3 526.5L330.3 631.9L330.7 631.9L330.7 561.6L332.8 561.6L332.8 561.6L333.5 561.6L333.5 544L334.9 544L334.9 526.5L335.5 526.5L335.5 579.2L335.9 579.2L335.9 561.6L336.6 561.6L336.6 544L337.8 544L337.8 526.5L338.3 526.5L338.3 579.2L338.7 579.2L338.7 561.6L339.5 561.6L339.5 544L340.7 544L340.7 526.5L341.2 526.5L341.2 579.2L341.6 579.2L341.6 561.6L342.4 561.6L342.4 544L344.1 544L344.1 421L344.5 421L344.5 473.7L345.6 473.7L345.6 596.7L346 596.7L346 526.5L347.6 526.5L347.6 631.9L347.9 631.9L347.9 561.6L350.1 561.6L350.1 561.6L350.8 561.6L350.8 544L352.2 544L352.2 526.5L352.7 526.5L352.7 579.2L353.1 579.2L353.1 561.6L353.9 561.6L353.9 544L355.1 544L355.1 526.5L355.6 526.5L355.6 579.2L356 579.2L356 561.6L356.8 561.6L356.8 544L357.9 544L357.9 526.5L358.5 526.5L358.5 579.2L358.9 579.2L358.9 561.6L359.7 561.6L359.7 544L361.4 544L361.4 421L361.8 421L361.8 473.7L362.9 473.7L362.9 596.7L363.3 596.7L363.3 526.5L364.8 526.5L364.8 631.9L365.2 631.9L365.2 561.6L367.3 561.6L367.3 561.6L368.1 561.6L368.1 544L369.5 544L369.5 526.5L370 526.5L370 579.2L370.4 579.2L370.4 561.6L371.2 561.6L371.2 544L372.3 544L372.3 526.5L372.9 526.5L372.9 579.2L373.3 579.2L373.3 561.6L374.1 561.6L374.1 544L375.2 544L375.2 526.5L375.8 526.5L375.8 579.2L376.2 579.2L376.2 561.6L376.9 561.6L376.9 544L378.7 544L378.7 421L379.1 421L379.1 473.7L380.2 473.7L380.2 596.7L380.6 596.7L380.6 526.5L382.1 526.5L382.1 631.9L382.5 631.9L382.5 561.6L384.6 561.6L384.6 561.6L385.4 561.6L385.4 544L386.7 544L386.7 526.5L387.3 526.5L387.3 579.2L387.7 579.2L387.7 561.6L388.5 561.6L388.5 544L389.6 544L389.6 526.5L390.2 526.5L390.2 579.2L390.6 579.2L390.6 561.6L391.3 561.6L391.3 544L392.5 544L392.5 526.5L393.1 526.5L393.1 579.2L393.5 579.2L393.5 561.6L394.2 561.6L394.2 544L395.9 544L395.9 421L396.3 421L396.3 473.7L397.5 473.7L397.5 596.7L397.9 596.7L397.9 526.5L399.4 526.5L399.4 631.9L399.8 631.9L399.8 561.6L401.9 561.6L401.9 561.6L402.7 561.6L402.7 544L404 544L404 526.5L404.6 526.5L404.6 579.2L405 579.2L405 561.6L405.7 561.6L405.7 544L406.9 544L406.9 526.5L407.5 526.5L407.5 579.2L407.9 579.2L407.9 561.6L408.6 561.6L408.6 544L409.8 544L409.8 526.5L410.3 526.5L410.3 579.2L410.7 579.2L410.7 561.6L411.5 561.6L411.5 544L413.2 544L413.2 421L413.6 421L413.6 473.7L414.8 473.7L414.8 596.7L415.1 596.7L415.1 526.5L416.7 526.5L416.7 631.9L417.1 631.9L417.1 561.6L419.2 561.6L419.2 561.6L419.9 561.6L419.9 544L421.3 544L421.3 526.5L421.9 526.5L421.9 579.2L422.3 579.2L422.3 561.6L423 561.6L423 544L424.2 544L424.2 526.5L424.7 526.5L424.7 579.2L425.1 579.2L425.1 561.6L425.9 561.6L425.9 544L427.1 544L427.1 526.5L427.6 526.5L427.6 579.2L428 579.2L428 561.6L428.8 561.6L428.8 544L430.5 544L430.5 421L430.9 421L430.9 473.7L432 473.7L432 596.7L432.4 596.7L432.4 526.5L434 526.5L434 631.9L434.3 631.9L434.3 561.6L436.5 561.6L436.5 561.6L437.2 561.6L437.2 544L438.6 544L438.6 526.5L439.1 526.5L439.1 579.2L439.5 579.2L439.5 561.6L440.3 561.6L440.3 544L441.5 544L441.5 526.5L442 526.5L442 579.2L442.4 579.2L442.4 561.6L443.2 561.6L443.2 544L444.3 544L444.3 526.5L444.9 526.5L444.9 579.2L445.3 579.2L445.3 561.6L446.1 561.6L446.1 544L447.8 544L447.8 421L448.2 421L448.2 473.7L449.3 473.7L449.3 596.7L449.7 596.7L449.7 526.5L451.2 526.5L451.2 631.9L451.6 631.9L451.6 561.6L453.7 561.6L453.7 561.6L454.5 561.6L454.5 544L455.9 544L455.9 526.5L456.4 526.5L456.4 579.2L456.8 579.2L456.8 561.6L457.6 561.6L457.6 544L458.7 544L458.7 526.5L459.3 526.5L459.3 579.2L459.7 579.2L459.7 561.6L460.5 561.6L460.5 544L461.6 544L461.6 526.5L462.2 526.5L462.2 579.2L462.6 579.2L462.6 561.6L463.3 561.6L463.3 544L465.1 544L465.1 421L465.5 421L465.5 473.7L466.6 473.7L466.6 596.7L467 596.7L467 526.5L468.5 526.5L468.5 631.9L468.9 631.9L468.9 561.6L471 561.6L471 561.6L471.8 561.6L471.8 544L473.1 544L473.1 526.5L473.7 526.5L473.7 579.2L474.1 579.2L474.1 561.6L474.9 561.6L474.9 544L476 544L476 526.5L476.6 526.5L476.6 579.2L477 579.2L477 561.6L477.7 561.6L477.7 544L478.9 544L478.9 526.5L479.5 526.5L479.5 579.2L479.9 579.2L479.9 561.6L480.6 561.6L480.6 544L482.3 544L482.3 421L482.7 421L482.7 473.7L483.9 473.7L483.9 596.7L484.3 596.7L484.3 526.5L485.8 526.5L485.8 631.9L486.2 631.9L486.2 561.6L488.3 561.6L488.3 561.6L489.1 561.6L489.1 544L490.4 544L490.4 526.5L491 526.5L491 579.2L491.4 579.2L491.4 561.6L492.1 561.6L492.1 544L493.3 544L493.3 526.5L493.9 526.5L493.9 579.2L494.3 579.2L494.3 561.6L495 561.6L495 544L496.2 544L496.2 526.5L496.7 526.5L496.7 579.2L497.1 579.2L497.1 561.6L497.9 561.6L497.9 544L499.6 544L499.6 421L500 421L500 473.7L501.2 473.7L501.2 596.7L501.5 596.7L501.5 526.5L503.1 526.5L503.1 631.9L503.5 631.9L503.5 561.6L505.6 561.6L505.6 561.6L506.3 561.6L506.3 544L507.7 544L507.7 526.5L508.3 526.5L508.3 579.2L508.7 579.2L508.7 561.6L509.4 561.6L509.4 544L510.6 544L510.6 526.5L511.1 526.5L511.1 579.2L511.5 579.2L511.5 561.6L512.3 561.6L512.3 544L513.5 544L513.5 526.5L514 526.5L514 579.2L514.4 579.2L514.4 561.6L515.2 561.6L515.2 544L516.9 544L516.9 421L517.3 421L517.3 473.7L518.4 473.7L518.4 596.7L518.8 596.7L518.8 526.5L520.4 526.5L520.4 631.9L520.7 631.9L520.7 561.6L522.9 561.6L522.9 561.6L523.6 561.6L523.6 544L525 544L525 526.5L525.5 526.5L525.5 579.2L525.9 579.2L525.9 561.6L526.7 561.6L526.7 544L527.9 544L527.9 526.5L528.4 526.5L528.4 579.2L528.8 579.2L528.8 561.6L529.6 561.6L529.6 544L530.7 544L530.7 526.5L531.3 526.5L531.3 579.2L531.7 579.2L531.7 561.6L532.5 561.6L532.5 544L534.2 544L534.2 421L534.6 421L534.6 473.7L535.7 473.7L535.7 596.7L536.1 596.7L536.1 526.5L537.6 526.5L537.6 631.9L538 631.9L538 561.6L540.1 561.6L540.1 561.6L540.9 561.6L540.9 544L542.3 544L542.3 526.5L542.8 526.5L542.8 579.2L543.2 579.2L543.2 561.6L544 561.6L544 544L545.1 544L545.1 526.5L545.7 526.5L545.7 579.2L546.1 579.2L546.1 561.6L546.9 561.6L546.9 544L548 544L548 526.5L548.6 526.5L548.6 579.2L549 579.2L549 561.6L549.7 561.6L549.7 544L551.5 544L551.5 421L551.9 421L551.9 473.7L553 473.7L553 596.7L553.4 596.7L553.4 526.5L554.9 526.5L554.9 631.9L555.3 631.9L555.3 561.6L557.4 561.6L557.4 561.6L558.2 561.6L558.2 544L559.5 544L559.5 526.5L560.1 526.5L560.1 579.2L560.5 579.2L560.5 561.6L561.3 561.6L561.3 544L562.4 544L562.4 526.5L563 526.5L563 579.2L563.4 579.2L563.4 561.6L564.1 561.6L564.1 544L565.3 544L565.3 526.5L565.9 526.5L565.9 579.2L566.3 579.2L566.3 561.6L567 561.6L567 544L568.7 544L568.7 421L569.1 421L569.1 473.7L570.3 473.7L570.3 596.7L570.7 596.7L570.7 526.5L572.2 526.5L572.2 631.9L572.6 631.9L572.6 561.6L574.7 561.6L574.7 561.6L575.5 561.6L575.5 544L576.8 544L576.8 526.5L577.4 526.5L577.4 579.2L577.8 579.2L577.8 561.6L578.5 561.6L578.5 544L579.7 544L579.7 526.5L580.3 526.5L580.3 579.2L580.7 579.2L580.7 561.6L581.4 561.6L581.4 544L582.6 544L582.6 526.5L583.1 526.5L583.1 579.2L583.5 579.2L583.5 561.6L584.3 561.6L584.3 544L586 544L586 421L586.4 421L586.4 473.7L587.6 473.7L587.6 596.7L587.9 596.7L587.9 526.5L589.5 526.5L589.5 631.9L589.9 631.9L589.9 561.6L592 561.6L592 561.6L592.7 561.6L592.7 544L594.1 544L594.1 526.5L594.7 526.5L594.7 579.2L595.1 579.2L595.1 561.6L595.8 561.6L595.8 544L597 544L597 526.5L597.5 526.5L597.5 579.2L597.9 579.2L597.9 561.6L598.7 561.6L598.7 544L599.9 544L599.9 526.5L600.4 526.5L600.4 579.2L600.8 579.2L600.8 561.6L601.6 561.6L601.6 544L603.3 544L603.3 421L603.7 421L603.7 473.7L604.8 473.7L604.8 596.7L605.2 596.7L605.2 526.5L606.8 526.5L606.8 631.9L607.1 631.9L607.1 561.6L609.3 561.6L609.3 561.6L610 561.6L610 544L611.4 544L611.4 526.5L611.9 526.5L611.9 579.2L612.3 579.2L612.3 561.6L613.1 561.6L613.1 544L614.3 544L614.3 526.5L614.8 526.5L614.8 579.2L615.2 579.2L615.2 561.6L616 561.6L616 544L617.1 544L617.1 526.5L617.7 526.5L617.7 579.2L618.1 579.2L618.1 561.6L618.9 561.6L618.9 544L620.6 544L620.6 421L621 421L621 473.7L622.1 473.7L622.1 596.7L622.5 596.7L622.5 526.5L624 526.5L624 631.9L624.4 631.9L624.4 561.6L626.5 561.6L626.5 561.6L627.3 561.6L627.3 544L628.7 544L628.7 526.5L629.2 526.5L629.2 579.2L629.6 579.2L629.6 561.6L630.4 561.6L630.4 544L631.5 544L631.5 526.5L632.1 526.5L632.1 579.2L632.5 579.2L632.5 561.6L633.3 561.6L633.3 544L634.4 544L634.4 526.5L635 526.5L635 579.2L635.4 579.2L635.4 561.6L636.1 561.6L636.1 544L637.9 544L637.9 421L638.3 421L638.3 473.7L639.4 473.7L639.4 596.7L639.8 596.7L639.8 526.5L641.3 526.5L641.3 631.9L641.7 631.9L641.7 561.6L643.8 561.6L643.8 561.6L644.6 561.6L644.6 544L645.9 544L645.9 526.5L646.5 526.5L646.5 579.2L646.9 579.2L646.9 561.6L647.7 561.6L647.7 544L648.8 544L648.8 526.5L649.4 526.5L649.4 579.2L649.8 579.2L649.8 561.6L650.5 561.6L650.5 544L651.7 544L651.7 526.5L652.3 526.5L652.3 579.2L652.7 579.2L652.7 561.6L653.4 561.6L653.4 544L655.1 544L655.1 421L655.5 421L655.5 473.7L656.7 473.7L656.7 596.7L657.1 596.7L657.1 526.5L658.6 526.5L658.6 631.9L659 631.9L659 561.6L661.1 561.6L661.1 561.6L661.9 561.6L661.9 544L663.2 544L663.2 526.5L663.8 526.5L663.8 579.2L664.2 579.2L664.2 561.6L664.9 561.6L664.9 544L666.1 544L666.1 526.5L666.7 526.5L666.7 579.2L667.1 579.2L667.1 561.6L667.8 561.6L667.8 544L669 544L669 526.5L669.5 526.5L669.5 579.2L669.9 579.2L669.9 561.6L670.7 561.6L670.7 544L672.4 544L672.4 421L672.8 421L672.8 473.7L674 473.7L674 596.7L674.3 596.7L674.3 526.5L675.9 526.5L675.9 631.9L676.3 631.9L676.3 561.6L678.4 561.6L678.4 561.6L679.1 561.6L679.1 544L680.5 544L680.5 526.5L681.1 526.5L681.1 579.2L681.5 579.2L681.5 561.6L682.2 561.6L682.2 544L683.4 544L683.4 526.5L683.9 526.5L683.9 579.2L684.3 579.2L684.3 561.6L685.1 561.6L685.1 544L686.3 544L686.3 526.5L686.8 526.5L686.8 579.2L687.2 579.2L687.2 561.6L688 561.6L688 544L689.7 544L689.7 421L690.1 421L690.1 473.7L691.2 473.7L691.2 596.7L691.6 596.7L691.6 526.5L693.2 526.5L693.2 631.9L693.5 631.9L693.5 561.6L695.7 561.6L695.7 561.6L696.4 561.6L696.4 544L697.8 544L697.8 526.5L698.3 526.5L698.3 579.2L698.7 579.2L698.7 561.6L699.5 561.6L699.5 544L700.7 544L700.7 526.5L701.2 526.5L701.2 579.2L701.6 579.2L701.6 561.6L702.4 561.6L702.4 544L703.5 544L703.5 526.5L704.1 526.5L704.1 579.2L704.5 579.2L704.5 561.6L705.3 561.6L705.3 544L707 544L707 421L707.4 421L707.4 473.7L708.5 473.7L708.5 596.7L708.9 596.7L708.9 526.5L710.4 526.5L710.4 631.9L710.8 631.9L710.8 561.6L712.9 561.6L712.9 561.6L713.7 561.6L713.7 544L715.1 544L715.1 526.5L715.6 526.5L715.6 579.2L716 579.2L716 561.6L716.8 561.6L716.8 544L717.9 544L717.9 526.5L718.5 526.5L718.5 579.2L718.9 579.2L718.9 561.6L719.7 561.6L719.7 544L720.8 544L720.8 526.5L721.4 526.5L721.4 579.2L721.8 579.2L721.8 561.6L722.5 561.6L722.5 544L724.3 544L724.3 421L724.7 421L724.7 473.7L725.8 473.7L725.8 596.7L726.2 596.7L726.2 526.5L727.7 526.5L727.7 631.9L728.1 631.9L728.1 561.6L730.2 561.6L730.2 561.6L731 561.6L731 544L732.3 544L732.3 526.5L732.9 526.5L732.9 579.2L733.3 579.2L733.3 561.6L734.1 561.6L734.1 544L735.2 544L735.2 526.5L735.8 526.5L735.8 579.2L736.2 579.2L736.2 561.6L736.9 561.6L736.9 544L738.1 544L738.1 526.5L738.7 526.5L738.7 579.2L739.1 579.2L739.1 561.6L739.8 561.6L739.8 544L741.5 544L741.5 421L741.9 421L741.9 473.7L743.1 473.7L743.1 596.7L743.5 596.7L743.5 526.5L745 526.5L745 631.9L745.4 631.9L745.4 561.6L747.5 561.6L747.5 561.6L748.3 561.6L748.3 544L749.6 544L749.6 526.5L750.2 526.5L750.2 579.2L750.6 579.2L750.6 561.6L751.3 561.6L751.3 544L752.5 544L752.5 526.5L753.1 526.5L753.1 579.2L753.5 579.2L753.5 561.6L754.2 561.6L754.2 544L755.4 544L755.4 526.5L755.9 526.5L755.9 579.2L756.3 579.2L756.3 561.6L757.1 561.6L757.1 544L758.8 544L758.8 421L759.2 421L759.2 473.7L760.4 473.7L760.4 596.7L760.7 596.7L760.7 526.5L762.3 526.5L762.3 631.9L762.7 631.9L762.7 561.6L764.8 561.6L764.8 561.6L765.5 561.6L765.5 544L766.9 544L766.9 526.5L767.5 526.5L767.5 579.2L767.9 579.2L767.9 561.6L768.6 561.6L768.6 544L769.8 544L769.8 526.5L770.3 526.5L770.3 579.2L770.7 579.2L770.7 561.6L771.5 561.6L771.5 544L772.7 544L772.7 526.5L773.2 526.5L773.2 579.2L773.6 579.2L773.6 561.6L774.4 561.6L774.4 544L776.1 544L776.1 421L776.5 421L776.5 473.7L777.6 473.7L777.6 596.7L778 596.7L778 526.5L779.6 526.5L779.6 631.9L779.9 631.9L779.9 561.6L782.1 561.6L782.1 561.6L782.8 561.6L782.8 544L784.2 544L784.2 526.5L784.7 526.5L784.7 579.2L785.1 579.2L785.1 561.6L785.9 561.6L785.9 544L787.1 544L787.1 526.5L787.6 526.5L787.6 579.2L788 579.2L788 561.6L788.8 561.6L788.8 544L789.9 544L789.9 526.5L790.5 526.5L790.5 579.2L790.9 579.2L790.9 561.6L791.7 561.6L791.7 544L793.4 544L793.4 421L793.8 421L793.8 473.7L794.9 473.7L794.9 596.7L795.3 596.7L795.3 526.5L796.8 526.5L796.8 631.9L797.2 631.9L797.2 561.6L799.3 561.6L799.3 561.6L800.1 561.6L800.1 544L801.5 544L801.5 526.5L802 526.5L802 579.2L802.4 579.2L802.4 561.6L803.2 561.6L803.2 544L804.3 544L804.3 526.5L804.9 526.5L804.9 579.2L805.3 579.2L805.3 561.6L806.1 561.6L806.1 544L807.2 544L807.2 526.5L807.8 526.5L807.8 579.2L808.2 579.2L808.2 561.6L808.9 561.6L808.9 544L810.7 544L810.7 421L811.1 421L811.1 473.7L812.2 473.7L812.2 596.7L812.6 596.7L812.6 526.5L814.1 526.5L814.1 631.9L814.5 631.9L814.5 561.6L816.6 561.6L816.6 561.6L817.4 561.6L817.4 544L818.7 544L818.7 526.5L819.3 526.5L819.3 579.2L819.7 579.2L819.7 561.6L820.5 561.6L820.5 544L821.6 544L821.6 526.5L822.2 526.5L822.2 579.2L822.6 579.2L822.6 561.6L823.3 561.6L823.3 544L824.5 544L824.5 526.5L825.1 526.5L825.1 579.2L825.5 579.2L825.5 561.6L826.2 561.6L826.2 544L827.9 544L827.9 421L828.3 421L828.3 473.7L829.5 473.7L829.5 596.7L829.9 596.7L829.9 526.5L831.4 526.5L831.4 631.9L831.8 631.9L831.8 561.6L833.9 561.6L833.9 561.6L834.7 561.6L834.7 544L836 544L836 526.5L836.6 526.5L836.6 579.2L837 579.2L837 561.6L837.7 561.6L837.7 544L838.9 544L838.9 526.5L839.5 526.5L839.5 579.2L839.9 579.2L839.9 561.6L840.6 561.6L840.6 544L841.8 544L841.8 526.5L842.3 526.5L842.3 579.2L842.7 579.2L842.7 561.6L843.5 561.6L843.5 544L845.2 544L845.2 421L845.6 421L845.6 473.7L846.8 473.7L846.8 596.7L847.1 596.7L847.1 526.5L848.7 526.5L848.7 631.9L849.1 631.9L849.1 561.6L851.2 561.6L851.2 561.6L851.9 561.6L851.9 544L853.3 544L853.3 526.5L853.9 526.5L853.9 579.2L854.3 579.2L854.3 561.6L855 561.6L855 544L856.2 544L856.2 526.5L856.7 526.5L856.7 579.2L857.1 579.2L857.1 561.6L857.9 561.6L857.9 544L859.1 544L859.1 526.5L859.6 526.5L859.6 579.2L860 579.2L860 561.6L860.8 561.6L860.8 544L862.5 544L862.5 421L862.9 421L862.9 473.7L864 473.7L864 596.7L864.4 596.7L864.4 526.5L866 526.5L866 631.9L866.3 631.9L866.3 561.6L868.5 561.6L868.5 561.6L869.2 561.6L869.2 544L870.6 544L870.6 526.5L871.1 526.5L871.1 579.2L871.5 579.2L871.5 561.6L872.3 561.6L872.3 544L873.5 544L873.5 526.5L874 526.5L874 579.2L874.4 579.2L874.4 561.6L875.2 561.6L875.2 544L876.3 544L876.3 526.5L876.9 526.5L876.9 579.2L877.3 579.2L877.3 561.6L878.1 561.6L878.1 544L879.8 544L879.8 421L880.2 421L880.2 473.7L881.3 473.7L881.3 596.7L881.7 596.7L881.7 526.5L883.2 526.5L883.2 631.9L883.6 631.9L883.6 561.6L885.7 561.6L885.7 561.6L886.5 561.6L886.5 544L887.9 544L887.9 526.5L888.4 526.5L888.4 579.2L888.8 579.2L888.8 561.6L889.6 561.6L889.6 544L890.7 544L890.7 526.5L891.3 526.5L891.3 579.2L891.7 579.2L891.7 561.6L892.5 561.6L892.5 544L893.6 544L893.6 526.5L894.2 526.5L894.2 579.2L894.6 579.2L894.6 561.6L895.3 561.6L895.3 544L897.1 544L897.1 421L897.5 421L897.5 473.7L898.6 473.7L898.6 596.7L899 596.7L899 526.5L900.5 526.5L900.5 631.9L900.9 631.9L900.9 561.6L903 561.6L903 561.6L903.8 561.6L903.8 544L905.1 544L905.1 526.5L905.7 526.5L905.7 579.2L906.1 579.2L906.1 561.6L906.9 561.6L906.9 544L908 544L908 526.5L908.6 526.5L908.6 579.2L909 579.2L909 561.6L909.7 561.6L909.7 544L910.9 544L910.9 526.5L911.5 526.5L911.5 579.2L911.9 579.2L911.9 561.6L912.6 561.6L912.6 544L914.3 544L914.3 421L914.7 421L914.7 473.7L915.9 473.7L915.9 596.7L916.3 596.7L916.3 526.5L917.8 526.5L917.8 631.9L918.2 631.9L918.2 561.6L920.3 561.6L920.3 561.6L921.1 561.6L921.1 544L922.4 544L922.4 526.5L923 526.5L923 579.2L923.4 579.2L923.4 561.6L924.1 561.6L924.1 544L925.3 544L925.3 526.5L925.9 526.5L925.9 579.2L926.3 579.2L926.3 561.6L927 561.6L927 544L928.2 544L928.2 526.5L928.7 526.5L928.7 579.2L929.1 579.2L929.1 561.6L929.9 561.6L929.9 544L931.6 544L931.6 421L932 421L932 473.7L933.2 473.7L933.2 596.7L933.5 596.7L933.5 526.5L935.1 526.5L935.1 631.9L935.5 631.9L935.5 561.6L937.6 561.6L937.6 561.6L938.3 561.6L938.3 544L939.7 544L939.7 526.5L940.3 526.5L940.3 579.2L940.7 579.2L940.7 561.6L941.4 561.6L941.4 544L942.6 544L942.6 526.5L943.1 526.5L943.1 579.2L943.5 579.2L943.5 561.6L944.3 561.6L944.3 544L945.5 544L945.5 526.5L946 526.5L946 579.2L946.4 579.2L946.4 561.6L947.2 561.6L947.2 544L948.9 544L948.9 421L949.3 421L949.3 473.7L950.4 473.7L950.4 596.7L950.8 596.7L950.8 526.5L952.4 526.5L952.4 631.9L952.7 631.9L952.7 561.6L954.9 561.6L954.9 561.6L955.6 561.6L955.6 544L957 544L957 526.5L957.5 526.5L957.5 579.2L957.9 579.2L957.9 561.6L958.7 561.6L958.7 544L959.9 544L959.9 526.5L960.4 526.5L960.4 579.2L960.8 579.2L960.8 561.6L961.6 561.6L961.6 544L962.7 544L962.7 526.5L963.3 526.5L963.3 579.2L963.7 579.2L963.7 561.6L964.5 561.6L964.5 544L966.2 544L966.2 421L966.6 421L966.6 473.7L967.7 473.7L967.7 596.7L968.1 596.7L968.1 526.5L969.6 526.5L969.6 631.9L970 631.9L970 561.6L972.1 561.6L972.1 561.6L972.9 561.6L972.9 544L974.3 544L974.3 526.5L974.8 526.5L974.8 579.2L975.2 579.2L975.2 561.6L976 561.6L976 544L977.1 544L977.1 526.5L977.7 526.5L977.7 579.2L978.1 579.2L978.1 561.6L978.9 561.6L978.9 544L980 544L980 526.5L980.6 526.5L980.6 579.2L981 579.2L981 561.6L981.7 561.6L981.7 544L983.5 544L983.5 421L983.9 421L983.9 473.7L985 473.7L985 596.7L985.4 596.7L985.4 526.5L986.9 526.5L986.9 631.9L987.3 631.9L987.3 561.6L989.4 561.6L989.4 561.6L990.2 561.6L990.2 544L991.5 544L991.5 526.5L992.1 526.5L992.1 579.2L992.5 579.2L992.5 561.6L993.3 561.6L993.3 544L994.4 544L994.4 526.5L995 526.5L995 579.2L995.4 579.2L995.4 561.6L996.1 561.6L996.1 544L997.3 544L997.3 526.5L997.9 526.5L997.9 579.2L998.3 579.2L998.3 561.6L999 561.6L999 544L1000.7 544L1000.7 421L1001.1 421L1001.1 473.7L1002.3 473.7L1002.3 596.7L1002.7 596.7L1002.7 526.5L1004.2 526.5L1004.2 631.9L1004.6 631.9L1004.6 561.6L1006.7 561.6L1006.7 561.6L1007.5 561.6L1007.5 544L1008.8 544L1008.8 526.5L1009.4 526.5L1009.4 579.2L1009.8 579.2L1009.8 561.6L1010.5 561.6L1010.5 544L1011.7 544L1011.7 526.5L1012.3 526.5L1012.3 579.2L1012.7 579.2L1012.7 561.6L1013.4 561.6L1013.4 544L1014.6 544L1014.6 526.5L1015.1 526.5L1015.1 579.2L1015.5 579.2L1015.5 561.6L1016.3 561.6L1016.3 544L1018 544L1018 421L1018.4 421L1018.4 473.7L1019.6 473.7L1019.6 596.7L1019.9 596.7L1019.9 526.5L1021.5 526.5L1021.5 631.9L1021.9 631.9L1021.9 561.6L1024 561.6L1024 561.6L1024.7 561.6L1024.7 544L1026.1 544L1026.1 526.5L1026.7 526.5L1026.7 579.2L1027.1 579.2L1027.1 561.6L1027.8 561.6L1027.8 544L1029 544L1029 526.5L1029.5 526.5L1029.5 579.2L1029.9 579.2L1029.9 561.6L1030.7 561.6L1030.7 544L1031.9 544L1031.9 526.5L1032.4 526.5L1032.4 579.2L1032.8 579.2L1032.8 561.6L1033.6 561.6L1033.6 544L1035.3 544L1035.3 421L1035.7 421L1035.7 473.7L1036.8 473.7L1036.8 596.7L1037.2 596.7L1037.2 526.5L1038.8 526.5L1038.8 631.9L1039.1 631.9L1039.1 561.6L1041.3 561.6L1041.3 561.6L1042 561.6L1042 544L1043.4 544L1043.4 526.5L1043.9 526.5L1043.9 579.2L1044.3 579.2L1044.3 561.6L1045.1 561.6L1045.1 544L1046.3 544L1046.3 526.5L1046.8 526.5L1046.8 579.2L1047.2 579.2L1047.2 561.6L1048 561.6L1048 544L1049.1 544L1049.1 526.5L1049.7 526.5L1049.7 579.2L1050.1 579.2L1050.1 561.6L1050.9 561.6L1050.9 544L1052.6 544L1052.6 421L1053 421L1053 473.7L1054.1 473.7L1054.1 596.7L1054.5 596.7L1054.5 526.5L1056 526.5L1056 631.9L1056.4 631.9L1056.4 561.6L1058.5 561.6L1058.5 561.6L1059.3 561.6L1059.3 544L1060.7 544L1060.7 526.5L1061.2 526.5L1061.2 579.2L1061.6 579.2L1061.6 561.6L1062.4 561.6L1062.4 544L1063.5 544L1063.5 526.5L1064.1 526.5L1064.1 579.2L1064.5 579.2L1064.5 561.6L1065.3 561.6L1065.3 544L1066.4 544L1066.4 526.5L1067 526.5L1067 579.2L1067.4 579.2L1067.4 561.6L1068.1 561.6L1068.1 544L1069.9 544L1069.9 421L1070.3 421L1070.3 473.7L1071.4 473.7L1071.4 596.7L1071.8 596.7L1071.8 526.5L1073.3 526.5L1073.3 631.9L1073.7 631.9L1073.7 561.6L1075.8 561.6L1075.8 561.6L1076.6 561.6L1076.6 544L1077.9 544L1077.9 526.5L1078.5 526.5L1078.5 579.2L1078.9 579.2L1078.9 561.6L1079.7 561.6L1079.7 544L1080.8 544L1080.8 526.5L1081.4 526.5L1081.4 579.2L1081.8 579.2L1081.8 561.6L1082.5 561.6L1082.5 544L1083.7 544L1083.7 526.5L1084.3 526.5L1084.3 579.2L1084.7 579.2L1084.7 561.6L1085.4 561.6L1085.4 544L1087.1 544L1087.1 421L1087.5 421L1087.5 473.7L1088.7 473.7L1088.7 596.7L1089.1 596.7L1089.1 526.5L1090.6 526.5L1090.6 631.9L1091 631.9L1091 561.6L1093.1 561.6L1093.1 561.6L1093.9 561.6L1093.9 544L1095.2 544L1095.2 526.5L1095.8 526.5L1095.8 579.2L1096.2 579.2L1096.2 561.6L1096.9 561.6L1096.9 544L1098.1 544L1098.1 526.5L1098.7 526.5L1098.7 579.2L1099.1 579.2L1099.1 561.6L1099.8 561.6L1099.8 544L1101 544L1101 526.5L1101.5 526.5L1101.5 579.2L1101.9 579.2L1101.9 561.6L1102.7 561.6L1102.7 544L1104.4 544L1104.4 421L1104.8 421L1104.8 473.7L1106 473.7L1106 596.7L1106.3 596.7L1106.3 526.5L1107.9 526.5L1107.9 631.9L1108.3 631.9L1108.3 561.6L1110.4 561.6L1110.4 561.6L1111.1 561.6L1111.1 544L1112.5 544L1112.5 526.5L1113.1 526.5L1113.1 579.2L1113.5 579.2L1113.5 561.6L1114.2 561.6L1114.2 544L1115.4 544L1115.4 526.5L1115.9 526.5L1115.9 579.2L1116.3 579.2L1116.3 561.6L1117.1 561.6L1117.1 544L1118.3 544L1118.3 526.5L1118.8 526.5L1118.8 579.2L1119.2 579.2L1119.2 561.6L1120 561.6L1120 544L1121.7 544L1121.7 421L1122.1 421L1122.1 473.7L1123.2 473.7L1123.2 596.7L1123.6 596.7L1123.6 526.5L1125.2 526.5L1125.2 631.9L1125.5 631.9L1125.5 561.6L1127.7 561.6L1127.7 561.6L1128.4 561.6L1128.4 544L1129.8 544L1129.8 526.5L1130.3 526.5L1130.3 579.2L1130.7 579.2L1130.7 561.6L1131.5 561.6L1131.5 544L1132.7 544L1132.7 526.5L1133.2 526.5L1133.2 579.2L1133.6 579.2L1133.6 561.6L1134.4 561.6L1134.4 544L1135.5 544L1135.5 526.5L1136.1 526.5L1136.1 579.2L1136.5 579.2L1136.5 561.6L1137.3 561.6L1137.3 544L1139 544L1139 421L1139.4 421L1139.4 473.7L1140.5 473.7L1140.5 596.7L1140.9 596.7L1140.9 526.5L1142.4 526.5L1142.4 631.9L1142.8 631.9L1142.8 561.6L1144.9 561.6L1144.9 561.6L1145.7 561.6L1145.7 544L1147.1 544L1147.1 526.5L1147.6 526.5L1147.6 579.2L1148 579.2L1148 561.6L1148.8 561.6L1148.8 544L1149.9 544L1149.9 526.5L1150.5 526.5L1150.5 579.2L1150.9 579.2L1150.9 561.6L1151.7 561.6L1151.7 544L1152.8 544L1152.8 526.5L1153.4 526.5L1153.4 579.2L1153.8 579.2L1153.8 561.6L1154.5 561.6L1154.5 544L1156.3 544L1156.3 421L1156.7 421L1156.7 473.7L1157.8 473.7L1157.8 596.7L1158.2 596.7L1158.2 526.5L1159.7 526.5L1159.7 631.9L1160.1 631.9L1160.1 561.6L1162.2 561.6L1162.2 561.6L1163 561.6L1163 544L1164.3 544L1164.3 526.5L1164.9 526.5L1164.9 579.2L1165.3 579.2L1165.3 561.6L1166.1 561.6L1166.1 544L1167.2 544L1167.2 526.5L1167.8 526.5L1167.8 579.2L1168.2 579.2L1168.2 561.6L1168.9 561.6L1168.9 544L1170.1 544L1170.1 526.5L1170.7 526.5L1170.7 579.2L1171.1 579.2L1171.1 561.6L1171.8 561.6L1171.8 544L1173.5 544L1173.5 421L1173.9 421L1173.9 473.7L1175.1 473.7L1175.1 596.7L1175.5 596.7L1175.5 526.5L1177 526.5L1177 631.9L1177.4 631.9L1177.4 561.6L1179.5 561.6L1179.5 561.6L1180.3 561.6L1180.3 544L1181.6 544L1181.6 526.5L1182.2 526.5L1182.2 579.2L1182.6 579.2L1182.6 561.6L1183.3 561.6L1183.3 544L1184.5 544L1184.5 526.5L1185.1 526.5L1185.1 579.2L1185.5 579.2L1185.5 561.6L1186.2 561.6L1186.2 544L1187.4 544L1187.4 526.5L1187.9 526.5L1187.9 579.2L1188.3 579.2L1188.3 561.6L1189.1 561.6L1189.1 544L1190.8 544L1190.8 421L1191.2 421L1191.2 473.7L1192.4 473.7L1192.4 596.7L1192.7 596.7L1192.7 526.5L1194.3 526.5L1194.3 631.9L1194.7 631.9L1194.7 561.6L1196.8 561.6L1196.8 561.6L1197.5 561.6L1197.5 544L1198.9 544L1198.9 526.5L1199.5 526.5L1199.5 579.2L1199.9 579.2L1199.9 561.6L1200.6 561.6L1200.6 544L1201.8 544L1201.8 526.5L1202.3 526.5L1202.3 579.2L1202.7 579.2L1202.7 561.6L1203.5 561.6L1203.5 544L1204.7 544L1204.7 526.5L1205.2 526.5L1205.2 579.2L1205.6 579.2L1205.6 561.6L1206.4 561.6L1206.4 544L1208.1 544L1208.1 421L1208.5 421L1208.5 473.7L1209.6 473.7L1209.6 596.7L1210 596.7L1210 526.5L1211.6 526.5L1211.6 631.9L1211.9 631.9L1211.9 561.6L1214.1 561.6L1214.1 561.6L1214.8 561.6L1214.8 544L1216.2 544L1216.2 526.5L1216.7 526.5L1216.7 579.2L1217.1 579.2L1217.1 561.6L1217.9 561.6L1217.9 544L1219.1 544L1219.1 526.5L1219.6 526.5L1219.6 579.2L1220 579.2L1220 561.6L1220.8 561.6L1220.8 544L1221.9 544L1221.9 526.5L1222.5 526.5L1222.5 579.2L1222.9 579.2L1222.9 561.6L1223.7 561.6L1223.7 544L1225.4 544L1225.4 421L1225.8 421L1225.8 473.7L1226.9 473.7L1226.9 596.7L1227.3 596.7L1227.3 526.5L1228.8 526.5L1228.8 631.9L1229.2 631.9L1229.2 561.6L1231.3 561.6L1231.3 561.6L1232.1 561.6L1232.1 544L1233.5 544L1233.5 526.5L1234 526.5L1234 579.2L1234.4 579.2L1234.4 561.6L1235.2 561.6L1235.2 544L1236.3 544L1236.3 526.5L1236.9 526.5L1236.9 579.2L1237.3 579.2L1237.3 561.6L1238.1 561.6L1238.1 544L1239.2 544L1239.2 526.5L1239.8 526.5L1239.8 579.2L1240.2 579.2L1240.2 561.6L1240.9 561.6L1240.9 544L1242.7 544L1242.7 421L1243.1 421L1243.1 473.7L1244.2 473.7L1244.2 596.7L1244.6 596.7L1244.6 526.5L1246.1 526.5L1246.1 631.9L1246.5 631.9L1246.5 561.6L1248.6 561.6L1248.6 561.6L1249.4 561.6L1249.4 544L1250.7 544L1250.7 526.5L1251.3 526.5L1251.3 579.2L1251.7 579.2L1251.7 561.6L1252.5 561.6L1252.5 544L1253.6 544L1253.6 526.5L1254.2 526.5L1254.2 579.2L1254.6 579.2L1254.6 561.6L1255.3 561.6L1255.3 544L1256.5 544L1256.5 526.5L1257.1 526.5L1257.1 579.2L1257.5 579.2L1257.5 561.6L1258.2 561.6L1258.2 544L1259.9 544L1259.9 421L1260.3 421L1260.3 473.7L1261.5 473.7L1261.5 596.7L1261.9 596.7L1261.9 526.5L1263.4 526.5L1263.4 631.9L1263.8 631.9L1263.8 561.6L1265.9 561.6L1265.9 561.6L1266.7 561.6L1266.7 544L1268 544L1268 526.5L1268.6 526.5L1268.6 579.2L1269 579.2L1269 561.6L1269.7 561.6L1269.7 544L1270.9 544L1270.9 526.5L1271.5 526.5L1271.5 579.2L1271.9 579.2L1271.9 561.6L1272.6 561.6L1272.6 544L1273.8 544L1273.8 526.5L1274.3 526.5L1274.3 579.2L1274.7 579.2L1274.7 561.6L1275.5 561.6L1275.5 544L1277.2 544L1277.2 421L1277.6 421L1277.6 473.7L1278.8 473.7L1278.8 596.7L1279.1 596.7L1279.1 526.5L1280.7 526.5L1280.7 631.9L1281.1 631.9L1281.1 561.6L1283.2 561.6L1283.2 561.6L1283.9 561.6L1283.9 544L1285.3 544L1285.3 526.5L1285.9 526.5L1285.9 579.2L1286.3 579.2L1286.3 561.6L1287 561.6L1287 544L1288.2 544L1288.2 526.5L1288.7 526.5L1288.7 579.2L1289.1 579.2L1289.1 561.6L1289.9 561.6L1289.9 544L1291.1 544L1291.1 526.5L1291.6 526.5L1291.6 579.2L1292 579.2L1292 561.6L1292.8 561.6L1292.8 544L1294.5 544L1294.5 421L1294.9 421L1294.9 473.7L1296 473.7L1296 596.7L1296.4 596.7L1296.4 526.5L1298 526.5L1298 631.9L1298.3 631.9L1298.3 561.6L1300.5 561.6L1300.5 561.6L1301.2 561.6L1301.2 544L1302.6 544L1302.6 526.5L1303.1 526.5L1303.1 579.2L1303.5 579.2L1303.5 561.6L1304.3 561.6L1304.3 544L1305.5 544L1305.5 526.5L1306 526.5L1306 579.2L1306.4 579.2L1306.4 561.6L1307.2 561.6L1307.2 544L1308.3 544L1308.3 526.5L1308.9 526.5L1308.9 579.2L1309.3 579.2L1309.3 561.6L1310.1 561.6L1310.1 544L1311.8 544L1311.8 421L1312.2 421L1312.2 473.7L1313.3 473.7L1313.3 596.7L1313.7 596.7L1313.7 526.5L1315.2 526.5L1315.2 631.9L1315.6 631.9L1315.6 561.6L1317.7 561.6L1317.7 561.6L1318.5 561.6L1318.5 544L1319.9 544L1319.9 526.5L1320.4 526.5L1320.4 579.2L1320.8 579.2L1320.8 561.6L1321.6 561.6L1321.6 544L1322.7 544L1322.7 526.5L1323.3 526.5L1323.3 579.2L1323.7 579.2L1323.7 561.6L1324.5 561.6L1324.5 544L1325.6 544L1325.6 526.5L1326.2 526.5L1326.2 579.2L1326.6 579.2L1326.6 561.6L1327.3 561.6L1327.3 544L1329.1 544L1329.1 421L1329.5 421L1329.5 473.7L1329.5 473.7" fill="none" stroke="#b2232c" stroke-width="3" stroke-linejoin="round" stroke-linecap="round"/>
<path d="M315.5 649.5V637M555.5 649.5V637M795.5 649.5V637M1035.5 649.5V637M1275.5 649.5V637M291.5 553.5H304M291.5 361.5H304M291.5 169.5H304" stroke="#111" stroke-width="3" fill="none"/>
<rect x="291.5" y="34.5" width="1080" height="615" fill="none" stroke="#111" stroke-width="3"/>
<text x="315.8" y="718.3" text-anchor="middle">0</text>
<text x="555.8" y="718.3" text-anchor="middle">5000</text>
<text x="795.8" y="718.3" text-anchor="middle">10000</text>
<text x="1035.8" y="718.3" text-anchor="middle">15000</text>
<text x="1275.8" y="718.3" text-anchor="middle">20000</text>
<text x="267" y="573" text-anchor="end">2</text>
<text x="267" y="381" text-anchor="end">3</text>
<text x="267" y="189" text-anchor="end">4</text>
<text x="1395" y="53.9">12</text>
<text x="1395" y="185.7">9</text>
<text x="1395" y="317.5">6</text>
<text x="1395" y="449.3">3</text>
<text x="1395" y="581.1">0</text>
<text transform="translate(202.5 340) rotate(-90)" text-anchor="middle">Voltage/V</text>
<text transform="translate(1499 338.6) rotate(-90)" text-anchor="middle">Current/A</text>
<text x="833.4" y="783.2" text-anchor="middle">Time/s</text>
<path d="M1065.8 76.5H1166.2" stroke="#2f2f33" stroke-width="3.3" stroke-linecap="round"/>
<path d="M1065.8 131.4H1166.2" stroke="#b2232c" stroke-width="3.3" stroke-linecap="round"/>
<text x="1177.8" y="93.1">Voltage</text>
<text x="1177.8" y="147.5">Current</text>
<text x="314.5" y="87.5">(a)</text>
</g>
<g id="panel-b">
<path d="M1773.7 118.8L1774.7 155.9L1775.7 125.4L1776.7 157.7L1777.7 120.2L1778.7 165.7L1779.7 118L1780.7 164.7L1781.7 121.3L1782.7 174.1L1783.7 121L1784.7 167.5L1785.7 128.6L1786.7 163.3L1787.7 132.9L1788.7 157.8L1789.7 126.4L1790.7 151L1791.7 127.9L1792.7 160.7L1793.7 127.3L1794.7 183.2L1795.7 136.2L1796.7 163.1L1797.7 137.5L1798.7 161L1799.8 131.1L1800.8 161.6L1801.8 137.6L1802.8 155L1803.8 131.5L1804.8 156.1L1805.8 132.8L1806.8 160.4L1807.8 126.5L1808.8 160.2L1809.8 134.9L1810.8 162.5L1811.8 126.1L1812.8 195.2L1813.8 130.6L1814.8 167.5L1815.8 130.6L1816.8 172.6L1817.8 137L1818.8 177.4L1819.8 138.5L1820.8 176.9L1821.8 130.8L1822.8 186.3L1823.8 141.7L1824.8 179.5L1825.8 144L1826.8 172.6L1827.8 137.3L1828.8 164.9L1829.8 144.4L1830.8 167.5L1831.8 138.5L1832.8 172.8L1833.8 148.1L1834.8 187.6L1835.8 148L1836.8 173.2L1837.8 140.8L1838.8 172.2L1839.8 148.1L1840.8 173.2L1841.8 151.6L1842.8 167.2L1843.8 144.3L1844.8 169.4L1845.8 143.7L1846.8 170.3L1847.8 136.8L1848.8 173.6L1849.8 145.3L1850.9 176.5L1851.9 146L1852.9 206.6L1853.9 141.4L1854.9 182.5L1855.9 149.2L1856.9 184L1857.9 142.2L1858.9 186.9L1859.9 142.9L1860.9 188.6L1861.9 145.1L1862.9 196.7L1863.9 152L1864.9 189.4L1865.9 143.4L1866.9 182.3L1867.9 147.6L1868.9 172.2L1869.9 148.6L1870.9 181.2L1871.9 156.2L1872.9 184.5L1873.9 149.4L1874.9 196.9L1875.9 155.3L1876.9 182.5L1877.9 150.2L1878.9 180.6L1879.9 156.8L1880.9 178.2L1881.9 150.8L1882.9 175.7L1883.9 152.3L1884.9 178.3L1885.9 151.5L1886.9 181L1887.9 144.6L1888.9 180.9L1889.9 154.7L1890.9 207L1891.9 154L1892.9 185.8L1893.9 147L1894.9 188.5L1895.9 147.6L1896.9 194.7L1897.9 148L1898.9 197.5L1899.9 152.5L1900.9 204.2L1902 160.4L1903 197L1904 160.5L1905 192.7L1906 151.9L1907 187.8L1908 161.1L1909 179.5L1910 154L1911 188.5L1912 163.8L1913 204.4L1914 157.1L1915 192.1L1916 164.7L1917 189.9L1918 158.2L1919 190L1920 157.7L1921 183.2L1922 166.8L1923 184.1L1924 153L1925 186.9L1926 151.7L1927 188L1928 162.2L1929 191L1930 157.3L1931 222.4L1932 156.1L1933 196.3L1934 156.2L1935 200.5L1936 164.2L1937 203.1L1938 165.3L1939 205.7L1940 159.1L1941 212.5L1942 169.1L1943 204L1944 167.8L1945 198.7L1946 162.3L1947 191.7L1948 162.6L1949 192.3L1950 165.4L1951 199.2L1952 164.1L1953.1 206.2L1954.1 171L1955.1 199.6L1956.1 164.7L1957.1 196.7L1958.1 175.5L1959.1 197.7L1960.1 168.7L1961.1 191.3L1962.1 170.1L1963.1 193.9L1964.1 168.7L1965.1 194.3L1966.1 161.1L1967.1 197.7L1968.1 169.5L1969.1 200.1L1970.1 172L1971.1 230.5L1972.1 162.9L1973.1 205.8L1974.1 171.3L1975.1 206.5L1976.1 172.6L1977.1 211.3L1978.1 165.8L1979.1 216.5L1980.1 166.7L1981.1 220.5L1982.1 175.2L1983.1 212L1984.1 166.8L1985.1 205.2L1986.1 176.2L1987.1 196.3L1988.1 170.8L1989.1 202.8L1990.1 179.4L1991.1 207.5L1992.1 179.8L1993.1 220.6L1994.1 171.3L1995.1 205.8L1996.1 181.6L1997.1 205L1998.1 180.4L1999.1 203.1L2000.1 177.6L2001.1 199.4L2002.1 184.7L2003.1 203.1L2004.2 166.9L2005.2 203.5L2006.2 177.6L2007.2 206.1L2008.2 170.4L2009.2 237.7L2010.2 177.1L2011.2 209.8L2012.2 170.9L2013.2 211.8L2014.2 174.3L2015.2 216.1L2016.2 180.9L2017.2 221.5L2018.2 172.6L2019.2 227.8L2020.2 181.6L2021.2 221.1L2022.2 178L2023.2 220L2024.2 184.6L2025.2 213.2L2026.2 177.9L2027.2 203.1L2028.2 185.9L2029.2 212.6L2030.2 180.6L2031.2 235.7L2032.2 188.9L2033.2 216.5L2034.2 189.7L2035.2 213.8L2036.2 181L2037.2 212.5L2038.2 190.4L2039.2 207.6L2040.2 181.7L2041.2 207.6L2042.2 176.4L2043.2 210.4L2044.2 182.6L2045.2 211.6L2046.2 179L2047.2 213.6L2048.2 178.5L2049.2 238.9L2050.2 186.9L2051.2 220.6L2052.2 179L2053.2 222.6L2054.3 188.7L2055.3 228.4L2056.3 190.4L2057.3 228.2L2058.3 182.5L2059.3 236.1L2060.3 190.6L2061.3 226.9L2062.3 186.3L2063.3 224.1L2064.3 191.3L2065.3 215.9L2066.3 185.1L2067.3 215.3L2068.3 195.6L2069.3 222.8L2070.3 187.1L2071.3 244L2072.3 195L2073.3 222.7L2074.3 190.9L2075.3 221.5L2076.3 199.2L2077.3 220.4L2078.3 199.5L2079.3 215L2080.3 193.5L2081.3 217.3L2082.3 193.2L2083.3 218.3L2084.3 186.9L2085.3 220.8L2086.3 192.4L2087.3 223.9L2088.3 187.8L2089.3 254.2L2090.3 196L2091.3 226.1L2092.3 190.1L2093.3 230.6L2094.3 198L2095.3 233.3L2096.3 191.6L2097.3 237L2098.3 196.6L2099.3 244.2L2100.3 200L2101.3 234.4L2102.3 191.7L2103.3 228.9L2104.3 193.3L2105.4 220L2106.4 192.3L2107.4 226.4L2108.4 193.2L2109.4 231.5L2110.4 203.6L2111.4 244.3L2112.4 203.5L2113.4 230.1L2114.4 196.6L2115.4 228.4L2116.4 207.3L2117.4 227.7L2118.4 207.6L2119.4 223.1L2120.4 198.8L2121.4 225L2122.4 198.2L2123.4 226.6L2124.4 194.8L2125.4 229.5L2126.4 200.4L2127.4 254.4L2128.4 200.8L2129.4 232.3L2130.4 197.6L2131.4 235.2L2132.4 205.6L2133.4 241.9L2134.4 197L2135.4 243.3L2136.4 205.7L2137.4 251.5L2138.4 197.5L2139.4 242.9L2140.4 206.4L2141.4 240.4L2142.4 200.6L2143.4 235.4L2144.4 208.1L2145.4 226.8L2146.4 200.8L2147.4 236.5L2148.4 209.3L2149.4 239.9L2150.4 212.2L2151.4 246L2152.4 203.6L2153.4 236.1L2154.4 214L2155.4 236.4L2156.5 205.1L2157.5 231.9L2158.5 215.8L2159.5 231.1L2160.5 201.1L2161.5 234.6L2162.5 202.4L2163.5 235.7L2164.5 209.9L2165.5 236.3L2166.5 210.8L2167.5 269.1L2168.5 204.6L2169.5 242.8L2170.5 210.1L2171.5 243.8L2172.5 212.3L2173.5 249.9L2174.5 203.6L2175.5 252.6L2176.5 214.1L2177.5 258.7L2178.5 212.1L2179.5 251.2L2180.5 205.9L2181.5 248.9L2182.5 206.3L2183.5 238.9L2184.5 214L2185.5 236.4L2186.5 207.7L2187.5 244.6L2188.5 209.4L2189.5 276.9L2190.5 219.5L2191.5 245.8L2192.5 217.3L2193.5 242.2L2194.5 210.6L2195.5 243L2196.5 221L2197.5 236.6L2198.5 213.5L2199.5 237.3L2200.5 211.5L2201.5 240.5L2202.5 212.7L2203.5 242.1L2204.5 208.4L2205.5 243.9L2206.5 216L2207.6 275.2L2208.6 207.8L2209.6 250L2210.6 210.8L2211.6 252.4L2212.6 217.6L2213.6 254.6L2214.6 213L2215.6 257.5L2216.6 217.6L2217.6 264.8L2218.6 212L2219.6 255L2220.6 218.9L2221.6 252.2L2222.6 221L2223.6 240.9L2224.6 213.7L2225.6 246.7L2226.6 222.3L2227.6 250.3L2228.6 223.5L2229.6 283.1L2230.6 218.9L2231.6 250.8L2232.6 225.9L2233.6 249.3L2234.6 220.6L2235.6 248.4L2236.6 226.5L2237.6 242.7L2238.6 227.8L2239.6 244.7L2240.6 211.9L2241.6 245.6L2242.6 214.4L2243.6 246.7L2244.6 221.5L2245.6 280.4L2246.6 220.2L2247.6 252.3L2248.6 215L2249.6 256.5L2250.6 212.9L2251.6 259.2L2252.6 223.7L2253.6 260.8L2254.6 214.8L2255.6 269.5L2256.6 223.7L2257.6 263.7L2258.7 223.8L2259.7 259.8L2260.7 219.5L2261.7 253.1L2262.7 227.8L2263.7 244.4L2264.7 220.4L2265.7 253.6L2266.7 221.2L2267.7 258.3L2268.7 227.6L2269.7 262.9L2270.7 230.5L2271.7 253.5L2272.7 221.8L2273.7 253.8L2274.7 229.2L2275.7 248.9L2276.7 222.4L2277.7 247.3L2278.7 223.4L2279.7 251.1L2280.7 217L2281.7 252.1L2282.7 224.5L2283.7 252.6L2284.7 219L2285.7 284.9L2286.7 224.3L2287.7 257.6L2288.7 219.9L2289.7 261.6L2290.7 225.8L2291.7 262.3L2292.7 221.3L2293.7 269.2L2294.7 221.5L2295.7 274.1L2296.7 223.8L2297.7 268.3L2298.7 230.3L2299.7 264.4L2300.7 224.4L2301.7 255.9L2302.7 230.4L2303.7 250.1L2304.7 223.8L2305.7 259.1L2306.7 231.5L2307.7 280.6L2308.7 225.3L2309.8 259L2310.8 234.5L2311.8 258.1L2312.8 235.4L2313.8 256.9L2314.8 226.7L2315.8 250.8L2316.8 228L2317.8 251.4L2318.8 225.7L2319.8 253.8L2320.8 220.8L2321.8 255L2322.8 221.1L2323.8 257.1L2324.8 229.1L2325.8 288.8L2326.8 222.3L2327.8 263.4L2328.8 229.6L2329.8 267.1L2330.8 230.7L2331.8 270.8L2332.8 224.4L2333.8 269.7L2334.8 223.2L2335.8 277.8L2336.8 232.8L2337.8 270.7L2338.8 234.2L2339.8 266.2L2340.8 224.8L2341.8 254L2342.8 235.6L2343.8 258.1L2344.8 228L2345.8 263.2L2346.8 228.8L2347.8 276.6L2348.8 228.9L2349.8 262.6L2350.8 238.6L2351.8 261.6L2352.8 229.8L2353.8 261.2L2354.8 238.5L2355.8 254.5L2356.8 240.2L2357.8 256L2358.8 225.2L2359.8 258.9L2360.9 233.2L2361.9 260.3L2362.9 223.9L2363.9 260.2L2364.9 227.5L2365.9 285.5L2366.9 224L2367.9 265.6L2368.9 232.7L2369.9 269.6L2370.9 234.7L2371.9 271.4L2372.9 226.4L2373.9 280.7L2374.9 230L2375.9 272.6L2376.9 228.3L2377.9 270.6L2378.9 237.2L2379.9 264.8L2380.9 236.5L2381.9 255.5L2382.9 231.2L2383.9 263.8L2384.9 238.9L2385.9 267L2386.9 229.5L2387.9 298.5L2388.9 240.2L2389.9 263.5L2390.9 234.4L2391.9 264.3L2392.9 235L2393.9 259.7L2394.9 241.4L2395.9 257.4L2396.9 233.2L2397.9 259.8L2398.9 226.1L2399.9 260.2L2400.9 233.6L2401.9 263.3L2402.9 225.9L2403.9 294.7L2404.9 235.5L2405.9 265.7L2406.9 226.8L2407.9 270.4L2408.9 237.9L2409.9 276.1L2410.9 237.5L2412 276.8L2413 230.7L2414 283.4L2415 238.5L2416 276.8L2417 231.6L2418 272L2419 238.5L2420 264.2L2421 232.7L2422 258.2L2423 239L2424 266.9L2425 234.6L2426 300.6L2427 240.5L2428 270L2429 234.2L2430 267L2431 242.2L2432 266.4L2433 238L2434 259.5L2435 242.7L2436 260.1L2437 227.4L2438 262.6L2439 237.6L2440 264.6L2441 230.4L2442 265.7L2443 236.6L2444 290.3L2445 232.7L2446 271.9L2447 240.1L2448 275.4L2449 233.3L2450 275.7L2451 238.9L2452 280.6L2453 240.3L2454 286.1L2455 231.6L2456 279.1L2457 241.6L2458 272.2L2459 234.8L2460 263.3L2461 235.9L2462 264.8L2463.1 242.1L2464.1 271.4L2465.1 243.3L2466.1 278.3L2467.1 236.8L2468.1 271.4L2469.1 245.5L2470.1 268.5L2471.1 244.6L2472.1 268.6L2473.1 239.7L2474.1 262.4L2475.1 248.4L2476.1 265.1L2477.1 230.5L2478.1 265.8L2479.1 230.1L2480.1 267.3L2481.1 232.9L2482.1 270.6L2483.1 239.1L2484.1 300.3L2485.1 232.9L2486.1 275.7L2487.1 241.4L2488.1 279.2L2489.1 241.4L2490.1 280.4L2491.1 233.6L2492.1 282.4L2493.1 234.9L2494.1 289.2L2495.1 245.6L2496.1 279.6L2497.1 237.2L2498.1 274.7L2499.1 238.1L2500.1 263.6L2501.1 240.2L2502.1 272.2L2503.1 240.5L2504.1 275.3L2505.1 246.1L2506.1 281.4L2507.1 247.4L2508.1 273.3L2509.1 238.9L2510.1 271.9L2511.1 242.5L2512.1 268.8L2513.2 249.4L2514.2 265.5L2515.2 242.8L2516.2 267.1L2517.2 243.1L2518.2 268.7L2519.2 241L2520.2 271.1L2521.2 236.4L2522.2 302.9L2523.2 242L2524.2 274.8L2525.2 238.8L2526.2 277.9L2527.2 244.6L2528.2 279.9L2529.2 236.6L2530.2 283.9L2531.2 244.7L2532.2 291.7L2533.2 240L2534.2 283.5L2535.2 247.8L2536.2 281.2L2537.2 240L2538.2 274.5L2539.2 247.9L2540.2 265.8L2541.2 241L2542.2 276.4L2543.2 249.4L2544.2 309.2L2545.2 241.2L2546.2 279.1L2547.2 250.2L2548.2 275.1L2549.2 246.3L2550.2 275.7L2551.2 251.9L2552.2 268.8L2553.2 247.7L2554.2 269.2L2555.2 246L2556.2 272.1L2557.2 237.1L2558.2 273.5L2559.2 246.5L2560.2 275.6L2561.2 248L2562.2 306.8L2563.2 239L2564.3 278.7L2565.3 239.4L2566.3 284L2567.3 247.6L2568.3 285.7L2569.3 251.2L2570.3 289.8L2571.3 243.2L2572.3 296.2L2573.3 252.2L2574.3 288.3L2575.3 252.2L2576.3 285.7L2577.3 246.1L2578.3 275.1L2579.3 254.1L2580.3 275.3L2581.3 247.1L2582.3 281.4L2583.3 255.1L2584.3 289.6L2585.3 249.8L2586.3 282.7L2587.3 255.3L2588.3 279.6L2589.3 249.3L2590.3 280.1L2591.3 256.8L2592.3 274L2593.3 251.5L2594.3 275.9L2595.3 248.9L2596.3 277.3L2597.3 245.2L2598.3 280.2L2599.3 250.9L2600.3 281L2601.3 252.3L2602.3 314.7L2603.3 243.6L2604.3 287.9L2605.3 247.1L2606.3 291.8L2607.3 254.3L2608.3 292.7L2609.3 247.4L2610.3 294.9L2611.3 255.9L2612.3 304.1L2613.3 255L2614.3 295.1L2615.4 250.5L2616.4 290.5L2617.4 249.3L2618.4 277.7L2619.4 258.3L2620.4 286.5L2621.4 251.8L2622.4 289.5L2623.4 260.5L2624.4 303.7L2625.4 254.7L2626.4 286.8L2627.4 260.6L2628.4 286.7L2629.4 252.8L2630.4 284.3L2631.4 253.8L2632.4 280.4L2633.4 264.7L2634.4 285.5L2635.4 245.3L2636.4 285.2L2637.4 256.1L2638.4 289L2639.4 249L2640.4 323.5L2641.4 256.7L2642.4 294L2643.4 250.1L2644.4 296.3L2645.4 261.2L2646.4 302.2L2647.4 253.9L2648.4 306.9L2649.4 261.8L2650.4 312.7L2651.4 262.7L2652.4 308L2653.4 254.3L2654.4 300.1L2655.4 263.7L2656.4 296.9L2657.4 255.7L2658.4 284.9L2659.4 266.8L2660.4 294.4L2661.4 255.7L2662.4 321.7L2663.4 269L2664.4 299.1L2665.4 259L2666.5 296.6L2667.5 258L2668.5 296.5L2669.5 269.8L2670.5 289.5L2671.5 262.6L2672.5 289.4L2673.5 263.8L2674.5 293L2675.5 254.2L2676.5 295.2L2677.5 263.9L2678.5 297.4L2679.5 257.7L2680.5 328.2L2681.5 264.9L2682.5 305.8L2683.5 266.2L2684.5 310.2L2685.5 257.6L2686.5 313.8L2687.5 266.9L2688.5 315L2689.5 259.1L2690.5 325.8L2691.5 272.2L2692.5 314.2L2693.5 260.7L2694.5 309.9L2695.5 271.7L2696.5 301.8L2697.5 262.6L2698.5 299.4L2699.5 274.8L2700.5 308.1L2701.5 262.7L2702.5 350.4L2703.5 268.1L2704.5 310.4L2705.5 274.4L2706.5 307.9L2707.5 267.2L2708.5 307.3L2709.5 279.8L2710.5 299.2L2711.5 268.2L2712.5 302.6L2713.5 272.2L2714.5 308.4L2715.5 263.2L2716.5 309L2717.6 262.1L2718.6 314.2L2719.6 275L2720.6 346L2721.6 266.6L2722.6 321.8L2723.6 279.6L2724.6 325.1L2725.6 272.1L2726.6 333.9L2727.6 282.4L2728.6 336.3L2729.6 273.1L2730.6 345.3L2731.6 282.6L2732.6 336.7L2733.6 277.4L2734.6 328.3L2735.6 288.5L2736.6 313.4L2737.6 286.2L2738.6 323.1L2739.6 277.1L2740.6 330.9L2741.6 280.1L2742.6 361.6L2743.6 291.5L2744.6 330.9L2745.6 295.8L2746.6 328.2L2747.6 281.1L2748.6 327.6L2749.6 296.4L2750.6 321.6L2751.6 299.7L2752.6 331.2L2753.6 281.9L2754.6 333.2L2755.6 293.4L2756.6 338L2757.6 283.5L2758.6 380.7L2759.6 296.5L2760.6 348.6L2761.6 289.4L2762.6 357L2763.6 299.9L2764.6 361.2L2765.6 296.6L2766.6 372.2L2767.6 296.9L2768.7 391L2769.7 318.1L2770.7 381L2771.7 313.7L2772.7 391.7L2773.7 332.3L2774.7 386.9L2775.7 333.2L2776.7 379L2777.7 354.5L2778.7 404.3L2779.7 347.6L2780.7 419.8L2781.7 353.1L2782.7 447.6L2783.7 361.4L2784.7 427.7L2785.7 378.3L2786.7 450.4L2787.7 399.9L2788.7 445.7" fill="none" stroke="#2f2f33" stroke-width="3" stroke-linejoin="round" stroke-linecap="round"/>
<path d="M1773.7 589.8L1774.7 474L1775.7 572.7L1776.7 471.8L1777.7 592.5L1778.7 449.6L1779.7 602.5L1780.7 455.9L1781.7 595.5L1782.7 429.4L1783.7 599.9L1784.7 453.8L1785.7 578.9L1786.7 470.6L1787.7 568.7L1788.7 491.2L1789.7 592.3L1790.7 515.9L1791.7 591.1L1792.7 488.6L1793.7 596.3L1794.7 420.4L1795.7 571.4L1796.7 487.5L1797.7 570.6L1798.7 497.6L1799.8 594.1L1800.8 498.9L1801.8 576.9L1802.8 523L1803.8 599.5L1804.8 523L1805.8 571.1L1806.8 485.3L1807.8 594.5L1808.8 489.4L1809.8 571.3L1810.8 485.1L1811.8 602.3L1812.8 384.6L1813.8 591.5L1814.8 475.8L1815.8 594.8L1816.8 463L1817.8 577.8L1818.8 451.1L1819.8 576.3L1820.8 456.1L1821.8 603.8L1822.8 429.4L1823.8 572.7L1824.8 454.2L1825.8 568.5L1826.8 479.6L1827.8 593.1L1828.8 507.3L1829.8 574L1830.8 502.3L1831.8 595.9L1832.8 488.8L1833.8 568.8L1834.8 445.1L1835.8 572.5L1836.8 494.2L1837.8 598.5L1838.8 500.5L1839.8 578.7L1840.8 500.7L1841.8 571.1L1842.8 523L1843.8 597.3L1844.8 492L1845.8 574.9L1846.8 491.6L1847.8 599.4L1848.8 483.9L1849.8 575.1L1850.9 477.5L1851.9 575.5L1852.9 384.6L1853.9 593L1854.9 463.8L1855.9 570.8L1856.9 461.8L1857.9 595.6L1858.9 455.2L1859.9 596.4L1860.9 452.4L1861.9 591.8L1862.9 429.4L1863.9 572.8L1864.9 455.3L1865.9 602.8L1866.9 480.7L1867.9 592L1868.9 515.3L1869.9 591.7L1870.9 489.4L1871.9 570.3L1872.9 481.8L1873.9 594.6L1874.9 445.1L1875.9 578.4L1876.9 493.3L1877.9 597.2L1878.9 502L1879.9 579.1L1880.9 512.5L1881.9 600.6L1882.9 523L1883.9 571.4L1884.9 490.2L1885.9 576.7L1886.9 484.2L1887.9 601.2L1888.9 487.2L1889.9 571.8L1890.9 407L1891.9 576.8L1892.9 477.2L1893.9 601.5L1894.9 471.3L1895.9 602.4L1896.9 454.4L1897.9 603.8L1898.9 448L1899.9 592.3L1900.9 429.4L1902 569.9L1903 454.9L1904 572.3L1905 471.2L1906 602.1L1907 489.6L1908 575.8L1909 518.7L1910 600.8L1911 492.8L1912 572.6L1913 445.1L1914 596.5L1915 486.8L1916 575.1L1917 496.3L1918 598.3L1919 498.7L1920 602.5L1921 523L1922 576.5L1923 523L1924 595.6L1925 489.4L1926 602.4L1927 488.3L1928 571.6L1929 481.8L1930 590L1931 384.6L1932 596.2L1933 470.1L1934 598.7L1935 459.3L1936 575.9L1937 453.7L1938 575.2L1939 448.1L1940 597.3L1941 429.4L1942 568.3L1943 459L1944 575.2L1945 478.3L1946 595.1L1947 503.3L1948 597L1949 503.9L1950 590.7L1951 484.7L1952 597.6L1953.1 465.2L1954.1 578.1L1955.1 488.8L1956.1 600.8L1957.1 500.6L1958.1 569.3L1959.1 500.1L1960.1 593.6L1961.1 523L1962.1 591.7L1963.1 490.2L1964.1 571.4L1965.1 491.4L1966.1 598L1967.1 483.4L1968.1 574.2L1969.1 478.3L1970.1 568.9L1971.1 384.6L1972.1 600.3L1973.1 465.7L1974.1 576.5L1975.1 465.9L1976.1 574.9L1977.1 453.3L1978.1 599.1L1979.1 439.6L1980.1 598.9L1981.1 429.4L1982.1 574.6L1983.1 459.1L1984.1 603.9L1985.1 483.3L1986.1 576.8L1987.1 514.1L1988.1 596.5L1989.1 496.2L1990.1 572L1991.1 483.9L1992.1 573.2L1993.1 445.1L1994.1 602.8L1995.1 494.6L1996.1 572.8L1997.1 499.9L1998.1 579.3L1999.1 508.5L2000.1 590.9L2001.1 523L2002.1 571L2003.1 486.4L2004.2 602.9L2005.2 487.8L2006.2 571.4L2007.2 482.5L2008.2 597.1L2009.2 384.6L2010.2 578.4L2011.2 476.1L2012.2 600.8L2013.2 472.4L2014.2 592.5L2015.2 461.2L2016.2 574.2L2017.2 446.8L2018.2 603.5L2019.2 429.4L2020.2 577.5L2021.2 453.4L2022.2 591.7L2023.2 459.6L2024.2 573.4L2025.2 483.9L2026.2 597.4L2027.2 518.7L2028.2 574.7L2029.2 491.1L2030.2 594L2031.2 420.4L2032.2 570.3L2033.2 484.2L2034.2 570.7L2035.2 495.5L2036.2 600.9L2037.2 502.1L2038.2 573.7L2039.2 520.4L2040.2 604L2041.2 523L2042.2 596.2L2043.2 489.6L2044.2 579.2L2045.2 488.4L2046.2 593.1L2047.2 484.6L2048.2 597.4L2049.2 407L2050.2 573.6L2051.2 467.8L2052.2 601.3L2053.2 464.1L2054.3 573.1L2055.3 448.3L2056.3 570.4L2057.3 451.6L2058.3 598.1L2059.3 429.4L2060.3 575.2L2061.3 461.3L2062.3 591.3L2063.3 472.9L2064.3 578.1L2065.3 501.4L2066.3 600.5L2067.3 506.1L2068.3 570L2069.3 485L2070.3 599.5L2071.3 420.4L2072.3 577L2073.3 490.5L2074.3 592.7L2075.3 496.9L2076.3 569.1L2077.3 503.2L2078.3 571.1L2079.3 523L2080.3 592.8L2081.3 491L2082.3 568.8L2083.3 490.7L2084.3 591.4L2085.3 485.4L2086.3 576.7L2087.3 478.1L2088.3 594.1L2089.3 384.6L2090.3 570.7L2091.3 476.3L2092.3 592L2093.3 464.6L2094.3 569.5L2095.3 458.9L2096.3 592.4L2097.3 449.7L2098.3 579.1L2099.3 429.4L2100.3 571.1L2101.3 463.4L2102.3 600L2103.3 483.3L2104.3 597.6L2105.4 514.4L2106.4 603.5L2107.4 496.5L2108.4 603.4L2109.4 483.2L2110.4 573.1L2111.4 445.1L2112.4 575.8L2113.4 492.9L2114.4 600.6L2115.4 500.8L2116.4 569.1L2117.4 505.8L2118.4 571L2119.4 523L2120.4 601.4L2121.4 492.2L2122.4 578.7L2123.4 489.9L2124.4 592L2125.4 483.3L2126.4 577.1L2127.4 407L2128.4 578.4L2129.4 479.6L2130.4 591.1L2131.4 473.3L2132.4 568.5L2133.4 454.5L2134.4 598.3L2135.4 452.6L2136.4 573.5L2137.4 429.4L2138.4 602L2139.4 459.4L2140.4 576.5L2141.4 469.9L2142.4 597.7L2143.4 488.2L2144.4 576.5L2145.4 518.2L2146.4 602.2L2147.4 490.1L2148.4 577.7L2149.4 482.2L2150.4 571.4L2151.4 465.2L2152.4 601.2L2153.4 499.3L2154.4 571L2155.4 501.1L2156.5 601.7L2157.5 518L2158.5 570.4L2159.5 523L2160.5 592.1L2161.5 487.1L2162.5 590.5L2163.5 485.9L2164.5 569L2165.5 486.2L2166.5 568.5L2167.5 384.6L2168.5 590.4L2169.5 470.3L2170.5 575.4L2171.5 469.4L2172.5 570.7L2173.5 452.4L2174.5 600.7L2175.5 446.2L2176.5 569.5L2177.5 429.4L2178.5 578.3L2179.5 455.3L2180.5 600.3L2181.5 465.1L2182.5 601.6L2183.5 499L2184.5 579.2L2185.5 509.5L2186.5 601.7L2187.5 485.6L2188.5 598.8L2189.5 385.5L2190.5 569L2191.5 486.5L2192.5 578.3L2193.5 500.3L2194.5 601.8L2195.5 500.1L2196.5 571.2L2197.5 523L2198.5 597.2L2199.5 523L2200.5 578.7L2201.5 488L2202.5 577.4L2203.5 485.1L2204.5 593.2L2205.5 481.7L2206.5 571.4L2207.6 384.6L2208.6 600L2209.6 467L2210.6 592.7L2211.6 461.8L2212.6 573.4L2213.6 457.3L2214.6 590.3L2215.6 450.4L2216.6 578.2L2217.6 429.4L2218.6 598.3L2219.6 463L2220.6 578.7L2221.6 474.1L2222.6 574.5L2223.6 512.3L2224.6 599.7L2225.6 496.4L2226.6 574.9L2227.6 487.2L2228.6 573.4L2229.6 385.5L2230.6 590.5L2231.6 490.3L2232.6 570.5L2233.6 497.4L2234.6 589.9L2235.6 502.6L2236.6 573.3L2237.6 523L2238.6 571.5L2239.6 491.5L2240.6 596.7L2241.6 490.6L2242.6 590.7L2243.6 489.3L2244.6 570.5L2245.6 384.6L2246.6 576.5L2247.6 475.8L2248.6 595.2L2249.6 464.6L2250.6 603.8L2251.6 457.9L2252.6 571.9L2253.6 455L2254.6 602.2L2255.6 429.4L2256.6 576L2257.6 450.1L2258.7 577.8L2259.7 464.5L2260.7 593.5L2261.7 487.9L2262.7 569.3L2263.7 517.7L2264.7 594.9L2265.7 490.4L2266.7 594.2L2267.7 477.5L2268.7 576L2269.7 465.2L2270.7 569L2271.7 497.1L2272.7 598.6L2273.7 498.3L2274.7 577.3L2275.7 515.8L2276.7 601L2277.7 523L2278.7 572.5L2279.7 485.8L2280.7 594.9L2281.7 484.7L2282.7 573.2L2283.7 485.2L2284.7 592.7L2285.7 384.6L2286.7 577.9L2287.7 473.4L2288.7 594L2289.7 462.8L2290.7 577.6L2291.7 462.7L2292.7 593.8L2293.7 442.7L2294.7 595.1L2295.7 429.4L2296.7 590.2L2297.7 449.7L2298.7 571.4L2299.7 464L2300.7 592.2L2301.7 493L2302.7 575.1L2303.7 513.5L2304.7 597.9L2305.7 486.9L2306.7 575.5L2307.7 420.4L2308.7 596.9L2309.8 491.1L2310.8 569.9L2311.8 495.7L2312.8 568.8L2313.8 501.5L2314.8 598.6L2315.8 523L2316.8 596.2L2317.8 523L2318.8 578.1L2319.8 490.1L2320.8 595.8L2321.8 488.1L2322.8 596.6L2323.8 483.5L2324.8 573.4L2325.8 384.6L2326.8 596.9L2327.8 467.3L2328.8 575.6L2329.8 457.5L2330.8 574.2L2331.8 447.8L2332.8 596L2333.8 453.1L2334.8 601.8L2335.8 429.4L2336.8 573.1L2337.8 453.8L2338.8 570.7L2339.8 470.3L2340.8 602.5L2341.8 510.8L2342.8 570.4L2343.8 499.8L2344.8 596.2L2345.8 485.6L2346.8 595.8L2347.8 445.1L2348.8 597.2L2349.8 491.5L2350.8 568.4L2351.8 496.5L2352.8 598.5L2353.8 499.7L2354.8 572.7L2355.8 523L2356.8 569.4L2357.8 492.8L2358.8 591.5L2359.8 485.6L2360.9 568.2L2361.9 483.1L2362.9 599.6L2363.9 485.3L2364.9 590.2L2365.9 407L2366.9 603.1L2367.9 471.9L2368.9 577.3L2369.9 461.3L2370.9 572.7L2371.9 457.2L2372.9 600.9L2373.9 429.4L2374.9 591.3L2375.9 456.9L2376.9 598.5L2377.9 465L2378.9 572.1L2379.9 485.3L2380.9 576.1L2381.9 516.7L2382.9 594.6L2383.9 492L2384.9 572L2385.9 483.7L2386.9 603.6L2387.9 385.5L2388.9 571.4L2389.9 498.3L2390.9 591.6L2391.9 497.7L2392.9 591.4L2393.9 514L2394.9 573L2395.9 523L2396.9 573.4L2397.9 490.1L2398.9 597.8L2399.9 490.5L2400.9 575.9L2401.9 482.4L2402.9 601.9L2403.9 384.6L2404.9 573.2L2405.9 478.3L2406.9 602.7L2407.9 465.1L2408.9 569.2L2409.9 449L2410.9 572.3L2412 448.6L2413 595.6L2414 429.4L2415 572.7L2416 452.2L2417 596.4L2418 469.1L2419 576.2L2420 495.6L2421 596.4L2422 516.6L2423 578.4L2424 490.8L2425 594L2426 385.5L2427 577.1L2428 484.4L2429 598.8L2430 495.7L2431 575.3L2432 499.4L2433 590.6L2434 523L2435 577.3L2436 523L2437 600.4L2438 489.6L2439 569.6L2440 484.8L2441 594.5L2442 483.3L2443 576.5L2444 407L2445 590.6L2446 467.2L2447 568.9L2448 457.8L2449 592.2L2450 458.6L2451 576.2L2452 444.8L2453 573.8L2454 429.4L2455 603.1L2456 453.5L2457 573.3L2458 477.2L2459 596.7L2460 507.3L2461 595.1L2462 504.4L2463.1 577.2L2464.1 485.2L2465.1 575.4L2466.1 465.2L2467.1 597.9L2468.1 488.8L2469.1 572L2470.1 500.1L2471.1 576.9L2472.1 501.4L2473.1 594.1L2474.1 523L2475.1 568.4L2476.1 489.1L2477.1 599.7L2478.1 488.7L2479.1 603L2480.1 485.9L2481.1 596L2482.1 477L2483.1 578.1L2484.1 384.6L2485.1 599.5L2486.1 464.8L2487.1 574.6L2488.1 455.5L2489.1 576.3L2490.1 453.3L2491.1 602.9L2492.1 449.1L2493.1 600.8L2494.1 429.4L2495.1 568.6L2496.1 461.7L2497.1 597.1L2498.1 479.1L2499.1 596.2L2500.1 516.2L2501.1 591.3L2502.1 490.6L2503.1 592.2L2504.1 482.8L2505.1 576.3L2506.1 465.2L2507.1 573.9L2508.1 492.9L2509.1 602.9L2510.1 499.2L2511.1 593.2L2512.1 510.6L2513.2 573.2L2514.2 523L2515.2 596.2L2516.2 492.6L2517.2 569.6L2518.2 489.3L2519.2 578.3L2520.2 483.6L2521.2 594.6L2522.2 384.6L2523.2 578.8L2524.2 475.6L2525.2 590.7L2526.2 467.6L2527.2 574.1L2528.2 463L2529.2 601.4L2530.2 452.2L2531.2 577.7L2532.2 429.4L2533.2 594.5L2534.2 457.3L2535.2 571.5L2536.2 466.3L2537.2 598.3L2538.2 489.6L2539.2 574.9L2540.2 518.9L2541.2 598.7L2542.2 487.5L2543.2 574.1L2544.2 385.5L2545.2 602.2L2546.2 483.1L2547.2 575.7L2548.2 497.7L2549.2 590.3L2550.2 498.2L2551.2 574.5L2552.2 522.2L2553.2 590.1L2554.2 523L2555.2 570.3L2556.2 488.4L2557.2 600.7L2558.2 486.2L2559.2 573L2560.2 481.5L2561.2 570.2L2562.2 384.6L2563.2 601L2564.3 476.1L2565.3 601.7L2566.3 461.2L2567.3 577.8L2568.3 457.8L2569.3 568.4L2570.3 446.9L2571.3 596.1L2572.3 429.4L2573.3 569.7L2574.3 456.9L2575.3 571.8L2576.3 467.6L2577.3 593L2578.3 503.1L2579.3 570.1L2580.3 505L2581.3 594.2L2582.3 488.4L2583.3 571.4L2584.3 465.2L2585.3 589.9L2586.3 489L2587.3 575L2588.3 500.9L2589.3 595.6L2590.3 501.8L2591.3 574.6L2592.3 523L2593.3 593L2594.3 492.9L2595.3 576.7L2596.3 491L2597.3 590.1L2598.3 484.5L2599.3 574.7L2600.3 484.4L2601.3 572.8L2602.3 384.6L2603.3 601.2L2604.3 468.2L2605.3 592.4L2606.3 458.8L2607.3 572.8L2608.3 458.7L2609.3 595.8L2610.3 454.5L2611.3 572.3L2612.3 429.4L2613.3 577L2614.3 458.8L2615.4 592.3L2616.4 474.6L2617.4 598L2618.4 515L2619.4 573.4L2620.4 491.1L2621.4 594.4L2622.4 484.4L2623.4 571L2624.4 445.1L2625.4 590L2626.4 497L2627.4 574.6L2628.4 499.7L2629.4 599.8L2630.4 509.2L2631.4 599.1L2632.4 523L2633.4 569.8L2634.4 485.9L2635.4 603.6L2636.4 489.3L2637.4 574.6L2638.4 481.1L2639.4 597.5L2640.4 384.6L2641.4 577.7L2642.4 471.9L2643.4 598.7L2644.4 468.1L2645.4 569.5L2646.4 453.9L2647.4 592.5L2648.4 443.3L2649.4 572.5L2650.4 429.4L2651.4 572.2L2652.4 445.4L2653.4 598.3L2654.4 470.4L2655.4 574.2L2656.4 482L2657.4 598.9L2658.4 518.2L2659.4 570.1L2660.4 493.9L2661.4 603.5L2662.4 420.4L2663.4 568.7L2664.4 485.9L2665.4 598.6L2666.5 495.5L2667.5 603.5L2668.5 498.2L2669.5 573.1L2670.5 520L2671.5 595.2L2672.5 523L2673.5 570.6L2674.5 492.3L2675.5 599.1L2676.5 489.4L2677.5 575.3L2678.5 486.4L2679.5 594.1L2680.5 407L2681.5 577.2L2682.5 469.7L2683.5 575.8L2684.5 461L2685.5 600.7L2686.5 454.4L2687.5 578.4L2688.5 454.2L2689.5 600.9L2690.5 429.4L2691.5 569.1L2692.5 462.1L2693.5 600.6L2694.5 475.8L2695.5 574.6L2696.5 499.3L2697.5 599.9L2698.5 507.9L2699.5 571.2L2700.5 488.5L2701.5 603.4L2702.5 385.5L2703.5 592L2704.5 488L2705.5 578.4L2706.5 496.8L2707.5 598.1L2708.5 500.9L2709.5 569.3L2710.5 523L2711.5 599.4L2712.5 496.3L2713.5 570.9L2714.5 484.6L2715.5 595.2L2716.5 486.8L2717.6 600.9L2718.6 478.5L2719.6 573.5L2720.6 407L2721.6 596.7L2722.6 468.3L2723.6 569.4L2724.6 464.3L2725.6 590.2L2726.6 447.8L2727.6 569.3L2728.6 446.2L2729.6 594.1L2730.6 429.4L2731.6 575.4L2732.6 453.1L2733.6 590.5L2734.6 476L2735.6 568.5L2736.6 513.7L2737.6 576.9L2738.6 496L2739.6 600.3L2740.6 483L2741.6 596.8L2742.6 420.4L2743.6 574.9L2744.6 491.6L2745.6 568.9L2746.6 501.4L2747.6 603.1L2748.6 506.8L2749.6 574L2750.6 523L2751.6 570.2L2752.6 489.2L2753.6 592L2754.6 489.8L2755.6 573.2L2756.6 486.1L2757.6 597.6L2758.6 407L2759.6 576.5L2760.6 476.6L2761.6 595L2762.6 466.1L2763.6 579.1L2764.6 463.8L2765.6 592.2L2766.6 453.6L2767.6 601.4L2768.7 429.4L2769.7 571.2L2770.7 459.5L2771.7 590.7L2772.7 456.8L2773.7 574.9L2774.7 485.1L2775.7 591.3L2776.7 518.2L2777.7 571.1L2778.7 490.3L2779.7 597.6L2780.7 478.2L2781.7 601.6L2782.7 445.1L2783.7 600.7L2784.7 498.8L2785.7 602.3L2786.7 499.4L2787.7 603.6L2788.7 517.9" fill="none" stroke="#b2232c" stroke-width="3" stroke-linejoin="round" stroke-linecap="round"/>
<path d="M1773.7 653.3V638.3M2105.7 653.3V638.3M2437.7 653.3V638.3M2769.7 653.3V638.3M1740.6 555.4H1755.6M1740.6 359.5H1755.6M1740.6 163.6H1755.6M2836.5 160.8H2823.2M2836.5 295.1H2823.2M2836.5 429.4H2823.2M2836.5 563.7H2823.2" stroke="#111" stroke-width="3" fill="none"/>
<rect x="1740.6" y="26.5" width="1095.9" height="626.8" fill="none" stroke="#111" stroke-width="3"/>
<text x="1772.2" y="715.5" text-anchor="middle">0</text>
<text x="2104.2" y="715.5" text-anchor="middle">5000</text>
<text x="2436.2" y="715.5" text-anchor="middle">10000</text>
<text x="2768.2" y="715.5" text-anchor="middle">15000</text>
<text x="1720" y="569.1" text-anchor="end">2</text>
<text x="1720" y="373.2" text-anchor="end">3</text>
<text x="1720" y="177.3" text-anchor="end">4</text>
<text x="2860.5" y="43">12</text>
<text x="2860.5" y="177.3">9</text>
<text x="2860.5" y="311.6">6</text>
<text x="2860.5" y="445.9">3</text>
<text x="2860.5" y="580.2">0</text>
<text transform="translate(1655.5 339.6) rotate(-90)" text-anchor="middle">Voltage/V</text>
<text transform="translate(2965 336.5) rotate(-90)" text-anchor="middle">Current/A</text>
<text x="2297.6" y="783.2" text-anchor="middle">Time/s</text>
<path d="M2530 70.2H2632.2" stroke="#2f2f33" stroke-width="3.3" stroke-linecap="round"/>
<path d="M2530 126.4H2632.2" stroke="#b2232c" stroke-width="3.3" stroke-linecap="round"/>
<text x="2645" y="88.4">Voltage</text>
<text x="2645" y="144.3">Current</text>
<text x="1766.2" y="88.4">(b)</text>
</g>
<g id="panel-c">
<path d="M323.6 936.5L324.6 993L325.6 938.4L326.6 994.5L327.6 940L328.6 983L329.6 926L330.6 972.6L331.6 922.1L332.6 994.5L333.6 926.1L334.6 1013.4L335.6 941.3L336.6 1013.7L337.6 929.6L338.6 1013.9L339.6 927.4L340.6 1014.2L341.6 931.9L342.6 989.9L343.6 944.1L344.6 992.3L345.6 931.8L346.6 990.5L347.6 926.8L348.6 1015.3L349.6 931.5L350.6 1015.6L351.6 944.6L352.6 1015.8L353.7 946.1L354.7 975.6L355.7 937.5L356.7 993.3L357.7 944L358.7 975.7L359.7 934.8L360.7 991.1L361.7 945.1L362.7 979.2L363.7 941.9L364.7 999.3L365.7 946.8L366.7 976.5L367.7 937.1L368.7 993.8L369.7 939L370.7 989.2L371.7 948.4L372.7 999.2L373.7 950.2L374.7 977.7L375.7 944.8L376.7 999.8L377.7 948.5L378.7 979.9L379.7 940.4L380.7 990.1L381.7 949.5L382.7 979.7L383.7 943L384.7 994L385.7 950.9L386.7 997.1L387.7 946.1L388.7 998.7L389.7 953.1L390.7 983.5L391.7 943.1L392.7 992.2L393.7 938.7L394.7 981.8L395.7 949.9L396.7 1009.6L397.7 952.1L398.7 1006.2L399.7 943.9L400.7 1002.8L401.7 952.1L402.7 993.1L403.7 941.8L404.7 984.3L405.7 937.8L406.7 1000.4L407.7 941.7L408.7 985.8L409.7 954.1L410.7 998.3L411.7 946.2L412.7 1006.3L413.8 947.6L414.8 1001.6L415.8 933.6L416.8 983.6L417.8 935.4L418.8 1006.3L419.8 949.8L420.8 1025.2L421.8 939.7L422.8 1025.4L423.8 951.8L424.8 1025.8L425.8 940.7L426.8 1026.2L427.8 937.4L428.8 1006.5L429.8 951.2L430.8 1002.9L431.8 940.4L432.8 1005.1L433.8 938.3L434.8 1027.9L435.8 937.8L436.8 1028.3L437.8 952.4L438.8 1028.7L439.8 943.4L440.8 1007.1L441.8 954.9L442.8 987.9L443.8 951.8L444.8 1004.7L445.8 960.1L446.8 988.8L447.8 958.5L448.8 1011.9L449.8 948.6L450.8 1011.1L451.8 958.5L452.8 993.2L453.8 948.8L454.8 992.6L455.8 959.3L456.8 1002.7L457.8 952.8L458.8 992.3L459.8 962.4L460.8 1013.1L461.8 955.3L462.8 995.3L463.8 963.6L464.8 1011L465.8 958L466.8 1015.1L467.8 957.4L468.8 996.9L469.8 957L470.8 994L471.8 965.5L472.9 1015.8L473.9 964.7L474.9 998.4L475.9 969.4L476.9 996.5L477.9 965.7L478.9 1005.2L479.9 957.2L480.9 999.5L481.9 966L482.9 1025.5L483.9 957.9L484.9 997.6L485.9 965.8L486.9 1016.9L487.9 955.7L488.9 997.6L489.9 966.7L490.9 1015.7L491.9 972.2L492.9 1002.2L493.9 968.3L494.9 1019.3L495.9 973.1L496.9 1022.9L497.9 970L498.9 1002.9L499.9 956.3L500.9 1013.2L501.9 950.9L502.9 1002.1L503.9 964.9L504.9 1023.8L505.9 960.8L506.9 1042.8L507.9 969.9L508.9 1043.2L509.9 958.3L510.9 1043.6L511.9 968.3L512.9 1043.9L513.9 955.2L514.9 1023.8L515.9 969.2L516.9 1024.5L517.9 962.5L518.9 1045.1L519.9 957L520.9 1045.5L521.9 957.9L522.9 1045.8L523.9 971.9L524.9 1046.2L525.9 974.6L526.9 1018.6L527.9 964.2L528.9 1008.9L529.9 975.3L530.9 1023.6L532 972.2L533 1008.1L534 972.3L535 1007.3L536 974.3L537 1032L538 963.8L539 1011.3L540 975.1L541 1010L542 976.8L543 1026.3L544 982.4L545 1011.8L546 977.4L547 1029.4L548 980.9L549 1012.9L550 974.4L551 1023.7L552 981.7L553 1010.5L554 973.9L555 1024.2L556 982.1L557 1023.3L558 976.7L559 1020.4L560 979.2L561 1013.9L562 982.9L563 1023.4L564 974.7L565 1023.7L566 983.3L567 1017L568 977.1L569 1042.3L570 985.2L571 1017.4L572 983.3L573 1039L574 986.9L575 1028.1L576 977L577 1017.1L578 972.9L579 1018.5L580 978L581 1033.4L582 988.5L583 1039.5L584 988.9L585 1019.7L586 974.8L587 1028.4L588 967.4L589 1039.9L590 981.6L591 1037.9L592.1 979.3L593.1 1059.2L594.1 988.2L595.1 1059.5L596.1 978.4L597.1 1059.9L598.1 987.4L599.1 1041.4L600.1 978.4L601.1 1043.8L602.1 988.4L603.1 1039.1L604.1 977.2L605.1 1061.4L606.1 973.3L607.1 1061.8L608.1 980.2L609.1 1062.2L610.1 988.3L611.1 1048.1L612.1 978.7L613.1 1021.4L614.1 990.2L615.1 1038.4L616.1 989.5L617.1 1022.6L618.1 977.8L619.1 1024.5L620.1 990.3L621.1 1049L622.1 990.4L623.1 1024.7L624.1 990.1L625.1 1026.7L626.1 996.5L627.1 1033L628.1 992.3L629.1 1035.3L630.1 998.3L631.1 1026.7L632.1 993L633.1 1045.7L634.1 993.7L635.1 1027.7L636.1 999.4L637.1 1026.8L638.1 998.6L639.1 1034.5L640.1 993.1L641.1 1029.8L642.1 1000L643.1 1044.3L644.1 997.7L645.1 1028.7L646.1 989.8L647.1 1045.9L648.1 992.7L649.1 1042.1L650.1 1001.4L651.2 1054.4L652.2 997.6L653.2 1031.8L654.2 1003L655.2 1058.6L656.2 998.8L657.2 1050.6L658.2 1004.6L659.2 1031.4L660.2 1003.4L661.2 1034.6L662.2 996.9L663.2 1043.3L664.2 1004.3L665.2 1055.5L666.2 1000.2L667.2 1045L668.2 1006L669.2 1055.8L670.2 998.9L671.2 1049.6L672.2 985L673.2 1033.7L674.2 983.7L675.2 1056.2L676.2 990.4L677.2 1035.2L678.2 1000L679.2 1075.5L680.2 987.8L681.2 1075.9L682.2 990.5L683.2 1076.3L684.2 996.8L685.2 1052.1L686.2 999.4L687.2 1057.5L688.2 985.7L689.2 1055L690.2 987.5L691.2 1077.6L692.2 996L693.2 1077.9L694.2 1009.9L695.2 1078.2L696.2 1009.1L697.2 1038.8L698.2 1003.2L699.2 1054.8L700.2 1010.8L701.2 1039.1L702.2 1005.7L703.2 1038.9L704.2 993.4L705.2 1064L706.2 1005.5L707.2 1050.3L708.2 998.4L709.2 1043L710.2 1008.5L711.3 1063.6L712.3 1009.8L713.3 1042.6L714.3 1000.7L715.3 1056.7L716.3 1010L717.3 1044.1L718.3 1013.2L719.3 1041.4L720.3 1007.9L721.3 1057.9L722.3 1014L723.3 1043.4L724.3 1015.5L725.3 1055.2L726.3 1009.6L727.3 1044.9L728.3 1011.3L729.3 1061.2L730.3 1001.7L731.3 1044.2L732.3 1004.1L733.3 1053L734.3 1008L735.3 1044.1L736.3 1014.8L737.3 1056.5L738.3 1005.2L739.3 1046.2L740.3 1002.6L741.3 1073.3L742.3 1012.9L743.3 1056.4L744.3 1004.3L745.3 1068.6L746.3 1000.1L747.3 1045.7L748.3 1012.7L749.3 1061.4L750.3 1004.4L751.3 1046L752.3 1007.9L753.3 1047.2L754.3 1016L755.3 1070.1L756.3 1001.7L757.3 1048.9L758.3 997.5L759.3 1050.2L760.3 1003.2L761.3 1070.3L762.3 1017.8L763.3 1089.2L764.3 1009.1L765.3 1089.5L766.3 1016.3L767.3 1089.8L768.3 1006L769.3 1090.1L770.4 1017.7L771.4 1067L772.4 1006.9L773.4 1073.5L774.4 1004.7L775.4 1071.4L776.4 1002.9L777.4 1091.3L778.4 1016.1L779.4 1091.6L780.4 1022.4L781.4 1091.9L782.4 1015.6L783.4 1077.3L784.4 1023.3L785.4 1055.5L786.4 1015.7L787.4 1073.3L788.4 1020.2L789.4 1071.1L790.4 1010.1L791.4 1054.7L792.4 1021.3L793.4 1063L794.4 1025L795.4 1053.5L796.4 1019.7L797.4 1055.8L798.4 1024L799.4 1072.3L800.4 1015.3L801.4 1064L802.4 1024.7L803.4 1055.1L804.4 1021.8L805.4 1073.6L806.4 1025.6L807.4 1054.9L808.4 1016.3L809.4 1055.8L810.4 1015.2L811.4 1070L812.4 1025.4L813.4 1058.8L814.4 1018L815.4 1064.8L816.4 1026.1L817.4 1058.7L818.4 1019.7L819.4 1071.6L820.4 1027.9L821.4 1072.5L822.4 1029L823.4 1076L824.4 1021.3L825.4 1086.1L826.4 1021.3L827.4 1058.2L828.4 1028.6L829.5 1069.7L830.5 1020.7L831.5 1057.4L832.5 1028.9L833.5 1082.3L834.5 1021.8L835.5 1061.4L836.5 1028.8L837.5 1075.5L838.5 1030.5L839.5 1073.6L840.5 1024.9L841.5 1081.4L842.5 1022.7L843.5 1071.1L844.5 1008.5L845.5 1058.5L846.5 1022.4L847.5 1080.9L848.5 1014.8L849.5 1099.5L850.5 1018L851.5 1099.6L852.5 1025.5L853.5 1099.7L854.5 1013.5L855.5 1099.7L856.5 1024.7L857.5 1079L858.5 1017L859.5 1081.7L860.5 1009.8L861.5 1079.8L862.5 1010.7L863.5 1100L864.5 1024L865.5 1100.1L866.5 1014.6L867.5 1100.1L868.5 1026.1L869.5 1071L870.5 1027.6L871.5 1081.4L872.5 1017L873.5 1082.7L874.5 1025.9L875.5 1074.9L876.5 1012.7L877.5 1060.9L878.5 1025.3L879.5 1059.8L880.5 1032L881.5 1069.2L882.5 1025.2L883.5 1060.8L884.5 1028.3L885.5 1071.9L886.5 1018.9L887.5 1060L888.5 1028.4L889.6 1075.1L890.6 1031.8L891.6 1061.6L892.6 1025.6L893.6 1071.4L894.6 1031.7L895.6 1063.1L896.6 1025.4L897.6 1080.1L898.6 1032.1L899.6 1063.5L900.6 1024.9L901.6 1068.4L902.6 1029.6L903.6 1082.9L904.6 1020.1L905.6 1060.5L906.6 1030L907.6 1069.5L908.6 1026.7L909.6 1061.9L910.6 1030L911.6 1089.3L912.6 1020.4L913.6 1063L914.6 1030.1L915.6 1062.1L916.6 1019.3L917.6 1073.2L918.6 1014.4L919.6 1061L920.6 1026.8L921.6 1062.9L922.6 1023.9L923.6 1077.5L924.6 1031.5L925.6 1084.3L926.6 1026.1L927.6 1078.7L928.6 1026.1L929.6 1068L930.6 1011.5L931.6 1081.9L932.6 1011.5L933.6 1083.9L934.6 1014.9L935.6 1102.5L936.6 1022.6L937.6 1102.6L938.6 1015.4L939.6 1102.6L940.6 1012.7L941.6 1102.7L942.6 1026.3L943.6 1087.4L944.6 1026.6L945.6 1088L946.6 1028.4L947.6 1103.1L948.7 1014.5L949.7 1103.2L950.7 1014.2L951.7 1103.3L952.7 1018L953.7 1103.4L954.7 1028L955.7 1065.3L956.7 1015.1L957.7 1065.9L958.7 1027.9L959.7 1083.6L960.7 1033.5L961.7 1063.1L962.7 1024.5L963.7 1079.3L964.7 1033L965.7 1062.8L966.7 1034.5L967.7 1083.8L968.7 1026.1L969.7 1063.1L970.7 1034.1L971.7 1075.2L972.7 1027.6L973.7 1077.6L974.7 1035.5L975.7 1066.4L976.7 1032.9L977.7 1065.7L978.7 1037.8L979.7 1084.2L980.7 1032.3L981.7 1067.5L982.7 1037.7L983.7 1065L984.7 1031.9L985.7 1077.3L986.7 1032.1L987.7 1064.3L988.7 1035.1L989.7 1080.2L990.7 1026.5L991.7 1077.5L992.7 1035L993.7 1067.8L994.7 1037L995.7 1089.3L996.7 1030.2L997.7 1093.8L998.7 1037.5L999.7 1067.8L1000.7 1031.5L1001.7 1084.3L1002.7 1018.4L1003.7 1066.6L1004.7 1031.1L1005.7 1074.7L1006.7 1019.9L1007.8 1087.1L1008.8 1032.1L1009.8 1076.8L1010.8 1035L1011.8 1089.1L1012.8 1024.5L1013.8 1081.9L1014.8 1022.7L1015.8 1068L1016.8 1016.4L1017.8 1088.7L1018.8 1017.2L1019.8 1067.2L1020.8 1030.8L1021.8 1107.5L1022.8 1032.1L1023.8 1107.7L1024.8 1034.7L1025.8 1107.8L1026.8 1025.8L1027.8 1090L1028.8 1035.9L1029.8 1088.6L1030.8 1026.1L1031.8 1084.5L1032.8 1019.9L1033.8 1108.3L1034.8 1032.2L1035.8 1108.4L1036.8 1032.9L1037.8 1108.5L1038.8 1038.9L1039.8 1071.3L1040.8 1036.2L1041.8 1083.1L1042.8 1024.9L1043.8 1068L1044.8 1036.4L1045.8 1079.1L1046.8 1036L1047.8 1067.7L1048.8 1026.5L1049.8 1068.4L1050.8 1027.2L1051.8 1085.6L1052.8 1037L1053.8 1083.5L1054.8 1034.8L1055.8 1071L1056.8 1037.6L1057.8 1084.5L1058.8 1028.7L1059.8 1068.6L1060.8 1037.9L1061.8 1089L1062.8 1028.1L1063.8 1070.5L1064.8 1038.1L1065.8 1069.6L1066.8 1032L1067.9 1082.2L1068.9 1040.4L1069.9 1069.8L1070.9 1038.6L1071.9 1080.5L1072.9 1029.7L1073.9 1069.2L1074.9 1039.4L1075.9 1085.5L1076.9 1038.6L1077.9 1070L1078.9 1028.1L1079.9 1091.6L1080.9 1038.4L1081.9 1072.2L1082.9 1042L1083.9 1098.8L1084.9 1036L1085.9 1095.6L1086.9 1043.1L1087.9 1073.2L1088.9 1041.6L1089.9 1095L1090.9 1033L1091.9 1085.1L1092.9 1040.6L1093.9 1070.8L1094.9 1031.2L1095.9 1080.2L1096.9 1040.9L1097.9 1094.1L1098.9 1043.6L1099.9 1083L1100.9 1029L1101.9 1074.1L1102.9 1021.4L1103.9 1093.7L1104.9 1036.1L1105.9 1112.4L1106.9 1022.4L1107.9 1112.5L1108.9 1035.4L1109.9 1112.6L1110.9 1038.9L1111.9 1112.8L1112.9 1026.1L1113.9 1094L1114.9 1023.5L1115.9 1091.6L1116.9 1027.3L1117.9 1093.8L1118.9 1024.1L1119.9 1113.2L1120.9 1023.5L1121.9 1113.3L1122.9 1029.7L1123.9 1113.5L1124.9 1030.7L1125.9 1100.8L1127 1039.9L1128 1084.7L1129 1029.8L1130 1076.5L1131 1031.4L1132 1100.4L1133 1029.9L1134 1083L1135 1041.3L1136 1082.2L1137 1029.7L1138 1077.6L1139 1041.3L1140 1075.4L1141 1036.1L1142 1092.1L1143 1036.9L1144 1093.3L1145 1046.1L1146 1077.6L1147 1044.6L1148 1092.3L1149 1045.7L1150 1077.6L1151 1037.1L1152 1093.9L1153 1036.6L1154 1076.7L1155 1046L1156 1084.5L1157 1036.1L1158 1077.5L1159 1045.4L1160 1078L1161 1049L1162 1090.7L1163 1041.1L1164 1080.9L1165 1049.2L1166 1078.9L1167 1051.7L1168 1109.1L1169 1041.9L1170 1081.3L1171 1038L1172 1089.6L1173 1047.8L1174 1082.2L1175 1042.2L1176 1101.8L1177 1049.8L1178 1083.5L1179 1047.9L1180 1094.4L1181 1052.8L1182 1080.7L1183 1047.4L1184 1106.8L1185 1033.1L1186 1084.5L1187.1 1029.6L1188.1 1092.2L1189.1 1034.2L1190.1 1107.3L1191.1 1048.8L1192.1 1128.3L1193.1 1046.3L1194.1 1128.8L1195.1 1049.8L1196.1 1129.3L1197.1 1041.2L1198.1 1129.8L1199.1 1050.2L1200.1 1106.3L1201.1 1048.7L1202.1 1109.7L1203.1 1036.2L1204.1 1108.5L1205.1 1034.2L1206.1 1131.9L1207.1 1036.2L1208.1 1132.4L1209.1 1036.2L1210.1 1132.9L1211.1 1048.5L1212.1 1089.6L1213.1 1033.9L1214.1 1104.1L1215.1 1033.2L1216.1 1089.2L1217.1 1047.8L1218.1 1110.1L1219.1 1049.7L1220.1 1090.6L1221.1 1056.9L1222.1 1102.4L1223.1 1048.4L1224.1 1091.4L1225.1 1045.6L1226.1 1088.8L1227.1 1054.5L1228.1 1104.2L1229.1 1044.3L1230.1 1089.8L1231.1 1055.1L1232.1 1091.2L1233.1 1059.6L1234.1 1103.5L1235.1 1053.8L1236.1 1090.6L1237.1 1060.3L1238.1 1105.4L1239.1 1055L1240.1 1094.4L1241.1 1045.1L1242.1 1111.6L1243.1 1055.7L1244.1 1116.7L1245.1 1061.1L1246.2 1092.3L1247.2 1054.7L1248.2 1122.7L1249.2 1060.8L1250.2 1095.5L1251.2 1059L1252.2 1123.5L1253.2 1051.4L1254.2 1129.5L1255.2 1060.1L1256.2 1121.9L1257.2 1060.9L1258.2 1099.2L1259.2 1053.6L1260.2 1113.5L1261.2 1055L1262.2 1097.1L1263.2 1039.8L1264.2 1107.9L1265.2 1045.3L1266.2 1098.1L1267.2 1060.3L1268.2 1125.9L1269.2 1060.2L1270.2 1101L1271.2 1044.3L1272.2 1121.7L1273.2 1039.8L1274.2 1099.9L1275.2 1044.6L1276.2 1126.8L1277.2 1059.9L1278.2 1151.3L1279.2 1062.6L1280.2 1151.8L1281.2 1053.6L1282.2 1152.3L1283.2 1063.2L1284.2 1153.2L1285.2 1054.3L1286.2 1130.4L1287.2 1060.9L1288.2 1128.9L1289.2 1047.3L1290.2 1155.6L1291.2 1044.6L1292.2 1156.5L1293.2 1058.7L1294.2 1157.6L1295.2 1054.8L1296.2 1159.2L1297.2 1063.7L1298.2 1126L1299.2 1052.2L1300.2 1105.6L1301.2 1063.5L1302.2 1127L1303.2 1051.2L1304.2 1108.8L1305.3 1065.8L1306.3 1126.4L1307.3 1070.3L1308.3 1130.9L1309.3 1059.9L1310.3 1117.2L1311.3 1064.7L1312.3 1144.5L1313.3 1076.3L1314.3 1118.2L1315.3 1073.1L1316.3 1142L1317.3 1075.8L1318.3 1144.1L1319.3 1066L1320.3 1146.7L1321.3 1077.7L1322.3 1123.2L1323.3 1069.8L1324.3 1147.4L1325.3 1080L1326.3 1123.7L1327.3 1070.8L1328.3 1134.4L1329.3 1082.4L1330.3 1137.1L1331.3 1072L1332.3 1128.7L1333.3 1083.4L1334.3 1156.8L1335.3 1073.7L1336.3 1134L1337.3 1087.4L1338.3 1152.3L1339.3 1085.3L1340.3 1176.9L1341.3 1092.3L1342.3 1134.9L1343.3 1082L1344.3 1139.2L1345.3 1079.5L1346.3 1164L1347.3 1093.2L1348.3 1144.2L1349.3 1101.3L1350.3 1139.9L1351.3 1095.7L1352.3 1174.4L1353.3 1103L1354.3 1180.4L1355.3 1100.5L1356.3 1168L1357.3 1089.1L1358.3 1173.1L1359.3 1089.4L1360.3 1194.3L1361.3 1111.6L1362.3 1189.9L1363.3 1178.3L1364.3 1178.3L1365.4 1178.3" fill="none" stroke="#2f2f33" stroke-width="3" stroke-linejoin="round" stroke-linecap="round"/>
<path d="M323.6 1401.8L324.6 1237.3L325.6 1392.1L326.6 1233.9L327.6 1363.5L328.6 1268.2L329.6 1422.9L330.6 1299.3L331.6 1446.9L332.6 1236.1L333.6 1425.4L334.6 1182L335.6 1359.7L336.6 1182L337.6 1420L338.6 1182L339.6 1434.8L340.6 1182L341.6 1410.2L342.6 1253.7L343.6 1364.9L344.6 1247.3L345.6 1409.2L346.6 1253.6L347.6 1439.5L348.6 1182L349.6 1413.9L350.6 1182L351.6 1364.7L352.6 1182L353.7 1359.9L354.7 1300L355.7 1411.5L356.7 1249.2L357.7 1366L358.7 1301.5L359.7 1421L360.7 1257.3L361.7 1362.5L362.7 1292.9L363.7 1401.9L364.7 1234.9L365.7 1359.5L366.7 1302.2L367.7 1417.6L368.7 1252.6L369.7 1407.9L370.7 1266.9L371.7 1364.4L372.7 1238.5L373.7 1365.2L374.7 1302L375.7 1398.3L376.7 1238.2L377.7 1363.8L378.7 1297.2L379.7 1412.9L380.7 1268.2L381.7 1361.4L382.7 1299.5L383.7 1406.7L384.7 1258.3L385.7 1362.3L386.7 1250.2L387.7 1399.4L388.7 1246.3L389.7 1360L390.7 1291.3L391.7 1396.4L392.7 1267L393.7 1423.2L394.7 1298.2L395.7 1359.7L396.7 1217.9L397.7 1361L398.7 1228.6L399.7 1410.5L400.7 1239.3L401.7 1364.4L402.7 1268.3L403.7 1406L404.7 1294.8L405.7 1430.6L406.7 1248.5L407.7 1409.4L408.7 1292L409.7 1360L410.7 1256.4L411.7 1408.6L412.7 1233.9L413.8 1364L414.8 1248.2L415.8 1446.9L416.8 1301.5L417.8 1438.2L418.8 1236.1L419.8 1364.6L420.8 1182L421.8 1431.5L422.8 1182L423.8 1362.7L424.8 1182L425.8 1419.9L426.8 1182L427.8 1441.5L428.8 1240.7L429.8 1363.7L430.8 1252.3L431.8 1431.2L432.8 1247.1L433.8 1439.5L434.8 1182L435.8 1445.3L436.8 1182L437.8 1362.5L438.8 1182L439.8 1431.4L440.8 1246.1L441.8 1366.7L442.8 1303.3L443.8 1409.2L444.8 1255.6L445.8 1363.4L446.8 1303.1L447.8 1362.2L448.8 1236.9L449.8 1422.1L450.8 1240.6L451.8 1365.1L452.8 1294.1L453.8 1424L454.8 1296.7L455.8 1365.2L456.8 1268.8L457.8 1414.8L458.8 1300.3L459.8 1361.5L460.8 1240.8L461.8 1410L462.8 1293.9L463.8 1363.5L464.8 1249.2L465.8 1403.7L466.8 1238.6L467.8 1405.2L468.8 1292.7L469.8 1409.8L470.8 1302.4L471.8 1362.4L472.9 1240.3L473.9 1389.6L474.9 1292L475.9 1364.8L476.9 1298.7L477.9 1363.4L478.9 1274.8L479.9 1415.1L480.9 1292.5L481.9 1366L482.9 1217.9L483.9 1415.5L484.9 1300.4L485.9 1362.8L486.9 1245.4L487.9 1424.4L488.9 1302.9L489.9 1362.8L490.9 1251.2L491.9 1365.9L492.9 1292L493.9 1391.4L494.9 1243.3L495.9 1365.9L496.9 1233.9L497.9 1364.8L498.9 1293.4L499.9 1412.9L500.9 1264.7L501.9 1446.9L502.9 1298.1L503.9 1367.4L504.9 1236.1L505.9 1420.5L506.9 1182L507.9 1360.2L508.9 1182L509.9 1429.9L510.9 1182L511.9 1362.6L512.9 1182L513.9 1441.2L514.9 1241.8L515.9 1362.2L516.9 1240.8L517.9 1404.7L518.9 1182L519.9 1439.5L520.9 1182L521.9 1436.4L522.9 1182L523.9 1359.8L524.9 1182L525.9 1360.2L526.9 1263.6L527.9 1422.8L528.9 1293L529.9 1360.2L530.9 1251.4L532 1400.8L533 1297.6L534 1402.4L535 1300.9L536 1365.9L537 1230.2L538 1429.5L539 1291.5L540 1365.7L541 1296.6L542 1393.8L543 1250L544 1362.9L545 1293.5L546 1394.4L547 1243.4L548 1365.4L549 1292.4L550 1405.3L551 1262.2L552 1361.3L553 1301.8L554 1409.1L555 1262.8L556 1363.3L557 1266.5L558 1402.9L559 1276.2L560 1390.8L561 1296.1L562 1362.3L563 1269.6L564 1412.3L565 1269.9L566 1364.4L567 1290.6L568 1407.3L569 1217.9L570 1362.4L571 1291.7L572 1391.7L573 1229.8L574 1365.2L575 1262.6L576 1399L577 1295.8L578 1425.3L579 1292.7L580 1397.5L581 1250.4L582 1366.1L583 1233.9L584 1362.7L585 1292.6L586 1401.2L587 1268.2L588 1446.9L589 1236.1L590 1365.9L591 1242.8L592.1 1414.2L593.1 1182L594.1 1359.7L595.1 1182L596.1 1419.1L597.1 1182L598.1 1366.7L599.1 1237.2L600.1 1421.3L601.1 1231.2L602.1 1365.3L603.1 1246L604.1 1414.5L605.1 1182L606.1 1439.5L607.1 1182L608.1 1401.9L609.1 1182L610.1 1368.7L611.1 1224.2L612.1 1427.2L613.1 1303.3L614.1 1362.1L615.1 1254.9L616.1 1362.4L617.1 1302L618.1 1433.1L619.1 1297.4L620.1 1362.3L621.1 1227L622.1 1396.4L623.1 1299.2L624.1 1400.5L625.1 1294.3L626.1 1365.5L627.1 1277L628.1 1396.4L629.1 1271.5L630.1 1363.1L631.1 1297.7L632.1 1396.7L633.1 1243.3L634.1 1394.8L635.1 1296.9L636.1 1365.5L637.1 1300.8L638.1 1366.3L639.1 1279.4L640.1 1400.6L641.1 1294.2L642.1 1362.4L643.1 1253.1L644.1 1365.4L645.1 1299.7L646.1 1413.7L647.1 1250.6L648.1 1398.9L649.1 1262.9L650.1 1365.2L651.2 1227.9L652.2 1394.1L653.2 1294.9L654.2 1364.9L655.2 1217.9L656.2 1392.8L657.2 1242.5L658.2 1361.2L659.2 1299.6L660.2 1361.5L661.2 1291.3L662.2 1401.9L663.2 1267L664.2 1361L665.2 1232.6L666.2 1394.4L667.2 1264.2L668.2 1362.9L669.2 1233.9L670.2 1363.8L671.2 1253.2L672.2 1437.3L673.2 1300.4L674.2 1446.9L675.2 1236.1L676.2 1409.9L677.2 1298.6L678.2 1364.8L679.2 1182L680.2 1438.4L681.2 1182L682.2 1425L683.2 1182L684.2 1403.6L685.2 1253.4L686.2 1366.7L687.2 1238.6L688.2 1448.6L689.2 1246.8L690.2 1439.5L691.2 1182L692.2 1401.2L693.2 1182L694.2 1360.4L695.2 1182L696.2 1366.1L697.2 1297.9L698.2 1402L699.2 1252.2L700.2 1360L701.2 1298.9L702.2 1360.2L703.2 1300.4L704.2 1433.4L705.2 1228.1L706.2 1364.9L707.2 1269.1L708.2 1420.8L709.2 1291.1L710.2 1363.6L711.3 1232.1L712.3 1362.2L713.3 1294.2L714.3 1416.8L715.3 1254.1L716.3 1364.9L717.3 1291.9L718.3 1366.2L719.3 1300.7L720.3 1398.7L721.3 1253.3L722.3 1365.1L723.3 1296.7L724.3 1360.4L725.3 1263.1L726.3 1396.7L727.3 1294.1L728.3 1363.9L729.3 1247.7L730.3 1421.6L731.3 1298.1L732.3 1409.3L733.3 1273.5L734.3 1400.7L735.3 1300.4L736.3 1365.9L737.3 1265L738.3 1406.5L739.3 1296.1L740.3 1423.6L741.3 1217.9L742.3 1365.6L743.3 1268.3L744.3 1407.4L745.3 1233.6L746.3 1433.6L747.3 1301.3L748.3 1362.5L749.3 1256.3L750.3 1423.1L751.3 1302.3L752.3 1404.6L753.3 1299.8L754.3 1361.8L755.3 1233.9L756.3 1420.7L757.3 1296.5L758.3 1446.9L759.3 1293.9L760.3 1415.9L761.3 1236.1L762.3 1363.2L763.3 1182L764.3 1416.1L765.3 1182L766.3 1365L767.3 1182L768.3 1426.9L769.3 1182L770.4 1360.5L771.4 1250.4L772.4 1424.7L773.4 1232.1L774.4 1427.2L775.4 1239.1L776.4 1439.5L777.4 1182L778.4 1364.1L779.4 1182L780.4 1363.7L781.4 1182L782.4 1405L783.4 1225.3L784.4 1360.2L785.4 1289.9L786.4 1406.4L787.4 1238.8L788.4 1363.9L789.4 1246L790.4 1424.2L791.4 1294.6L792.4 1361L793.4 1271.5L794.4 1366.4L795.4 1299.9L796.4 1399L797.4 1294.1L798.4 1360.8L799.4 1246.9L800.4 1413.6L801.4 1272L802.4 1360.6L803.4 1298.9L804.4 1396.2L805.4 1245.8L806.4 1362.2L807.4 1301L808.4 1409.7L809.4 1299.3L810.4 1418.2L811.4 1258.7L812.4 1360.1L813.4 1292.2L814.4 1411.8L815.4 1275.7L816.4 1366.1L817.4 1294.2L818.4 1408.5L819.4 1257.6L820.4 1362.1L821.4 1255.6L822.4 1360.5L823.4 1246.5L824.4 1405.6L825.4 1217.9L826.4 1407.1L827.4 1300.1L828.4 1363.8L829.5 1267L830.5 1409.8L831.5 1303L832.5 1362.8L833.5 1230.6L834.5 1407.1L835.5 1291.8L836.5 1366.7L837.5 1250.7L838.5 1365.4L839.5 1256.6L840.5 1398.7L841.5 1233.9L842.5 1363.6L843.5 1264.3L844.5 1446.9L845.5 1301.1L846.5 1366.3L847.5 1236.1L848.5 1429L849.5 1182L850.5 1410.5L851.5 1182L852.5 1362.9L853.5 1182L854.5 1433.3L855.5 1182L856.5 1368.7L857.5 1242.7L858.5 1402.3L859.5 1235L860.5 1444.8L861.5 1240.7L862.5 1439.5L863.5 1182L864.5 1368L865.5 1182L866.5 1431.2L867.5 1182L868.5 1364.8L869.5 1267.2L870.5 1362.6L871.5 1237L872.5 1424.9L873.5 1233.4L874.5 1360.3L875.5 1256.4L876.5 1438L877.5 1297.3L878.5 1364.7L879.5 1300.7L880.5 1361.9L881.5 1273.6L882.5 1402.1L883.5 1298.3L884.5 1365.8L885.5 1266.2L886.5 1420.8L887.5 1301.2L888.5 1366L889.6 1257.3L890.6 1365.1L891.6 1296.9L892.6 1401.9L893.6 1268.5L894.6 1365.7L895.6 1292.8L896.6 1402.7L897.6 1243.5L898.6 1362.6L899.6 1292L900.6 1404.7L901.6 1278L902.6 1363.3L903.6 1236L904.6 1419.1L905.6 1301.3L906.6 1361.4L907.6 1275.5L908.6 1400.1L909.6 1297.8L910.6 1362.6L911.6 1217.9L912.6 1419.2L913.6 1294.9L914.6 1363L915.6 1297.8L916.6 1408.4L917.6 1265.5L918.6 1437.1L919.6 1301.2L920.6 1365.3L921.6 1296L922.6 1409.7L923.6 1253.6L924.6 1366.3L925.6 1233.9L926.6 1403.8L927.6 1250.7L928.6 1361L929.6 1281.9L930.6 1446.9L931.6 1241.5L932.6 1446.9L933.6 1236.1L934.6 1427.4L935.6 1182L936.6 1402.1L937.6 1182L938.6 1427.8L939.6 1182L940.6 1444.3L941.6 1182L942.6 1365.6L943.6 1226.9L944.6 1404.4L945.6 1225.6L946.6 1359.8L947.6 1182L948.7 1439.5L949.7 1182L950.7 1441.5L951.7 1182L952.7 1420.4L953.7 1182L954.7 1364.2L955.7 1293.5L956.7 1440.1L957.7 1292L958.7 1365.9L959.7 1240.9L960.7 1360.2L961.7 1300.9L962.7 1413.7L963.7 1254.2L964.7 1365L965.7 1302.5L966.7 1360.8L967.7 1241.8L968.7 1410L969.7 1302.3L970.7 1364.4L971.7 1267.4L972.7 1406.3L973.7 1260.9L974.7 1361.1L975.7 1293.9L976.7 1391.6L977.7 1296.3L978.7 1361.4L979.7 1242.5L980.7 1394.2L981.7 1291.5L982.7 1361.6L983.7 1299.4L984.7 1395.9L985.7 1263.9L986.7 1395.6L987.7 1302.1L988.7 1362.1L989.7 1256L990.7 1412.8L991.7 1264.1L992.7 1363.7L993.7 1292.9L994.7 1362.8L995.7 1230.4L996.7 1403L997.7 1217.9L998.7 1361.1L999.7 1294L1000.7 1361.5L1001.7 1246.3L1002.7 1438.5L1003.7 1298.3L1004.7 1365.4L1005.7 1274.8L1006.7 1435L1007.8 1239.2L1008.8 1364.4L1009.8 1269.4L1010.8 1360.3L1011.8 1233.9L1012.8 1422.6L1013.8 1255.3L1014.8 1409.4L1015.8 1296.1L1016.8 1446.9L1017.8 1236.1L1018.8 1443L1019.8 1299.3L1020.8 1368.2L1021.8 1182L1022.8 1402L1023.8 1182L1024.8 1368.6L1025.8 1182L1026.8 1421.1L1027.8 1234.3L1028.8 1363.2L1029.8 1238.6L1030.8 1402.2L1031.8 1250.8L1032.8 1439.5L1033.8 1182L1034.8 1368.2L1035.8 1182L1036.8 1402.1L1037.8 1182L1038.8 1367.9L1039.8 1290.7L1040.8 1359.7L1041.8 1256.7L1042.8 1426.7L1043.8 1301L1044.8 1360.3L1045.8 1269.2L1046.8 1367L1047.8 1302.6L1048.8 1422.9L1049.8 1300.8L1050.8 1419.9L1051.8 1251.1L1052.8 1366.2L1053.8 1257.6L1054.8 1399.8L1055.8 1294.2L1056.8 1365.5L1057.8 1255.4L1058.8 1418.1L1059.8 1302L1060.8 1363L1061.8 1242.7L1062.8 1420.5L1063.8 1297L1064.8 1363L1065.8 1300.2L1066.8 1410L1067.9 1263.6L1068.9 1361.8L1069.9 1300.1L1070.9 1365L1071.9 1269.2L1072.9 1417.7L1073.9 1302.5L1074.9 1361.4L1075.9 1255.3L1076.9 1361.4L1077.9 1300.8L1078.9 1423.2L1079.9 1238.3L1080.9 1364.2L1081.9 1295.2L1082.9 1365.2L1083.9 1217.9L1084.9 1401.4L1085.9 1227.5L1086.9 1360.5L1087.9 1293.2L1088.9 1360.2L1089.9 1230L1090.9 1411L1091.9 1259.2L1092.9 1361.6L1093.9 1301.4L1094.9 1417L1095.9 1274.4L1096.9 1361.2L1097.9 1233.9L1098.9 1361.1L1099.9 1266.8L1100.9 1401.8L1101.9 1292.9L1102.9 1446.9L1103.9 1236.1L1104.9 1361.9L1105.9 1182L1106.9 1444.7L1107.9 1182L1108.9 1369.2L1109.9 1182L1110.9 1367.7L1111.9 1182L1112.9 1426.9L1113.9 1236.9L1114.9 1442.9L1115.9 1244.4L1116.9 1421.2L1117.9 1238.3L1118.9 1439.5L1119.9 1182L1120.9 1443.7L1121.9 1182L1122.9 1408.5L1123.9 1182L1124.9 1423.6L1125.9 1219.7L1127 1367.5L1128 1267.3L1129 1427.8L1130 1291.7L1131 1418.7L1132 1222.7L1133 1428.8L1134 1274.3L1135 1361.5L1136 1277L1137 1430.6L1138 1291.3L1139 1364.4L1140 1298.2L1141 1413.2L1142 1250.4L1143 1410L1144 1247.6L1145 1360.8L1146 1294.3L1147 1390.4L1148 1253L1149 1364.6L1150 1296.4L1151 1411.4L1152 1250.7L1153 1416L1154 1301.1L1155 1360L1156 1279.8L1157 1418.6L1158 1300.6L1159 1366.1L1160 1300.3L1161 1359.6L1162 1265.6L1163 1406.2L1164 1294L1165 1361L1166 1300.5L1167 1360.1L1168 1217.9L1169 1394.1L1170 1295.8L1171 1418L1172 1273.9L1173 1362.9L1174 1295.2L1175 1407.2L1176 1242.8L1177 1365L1178 1293.5L1179 1392.2L1180 1265L1181 1366.1L1182 1303L1183 1364L1184 1233.9L1185 1425.9L1186 1294.5L1187.1 1446.9L1188.1 1275.1L1189.1 1422.1L1190.1 1236.1L1191.1 1365.5L1192.1 1182L1193.1 1401.5L1194.1 1182L1195.1 1367.5L1196.1 1182L1197.1 1417.3L1198.1 1182L1199.1 1368.1L1200.1 1244.3L1201.1 1367.6L1202.1 1236.6L1203.1 1427.2L1204.1 1240.9L1205.1 1439.5L1206.1 1182L1207.1 1429.4L1208.1 1182L1209.1 1435.3L1210.1 1182L1211.1 1362.3L1212.1 1293.2L1213.1 1440.6L1214.1 1257.7L1215.1 1445.6L1216.1 1296.3L1217.1 1365.9L1218.1 1244.8L1219.1 1401.2L1220.1 1294.5L1221.1 1362.5L1222.1 1266.1L1223.1 1397.4L1224.1 1294.4L1225.1 1414.7L1226.1 1301.7L1227.1 1361.9L1228.1 1264.6L1229.1 1419.7L1230.1 1301.1L1231.1 1361.4L1232.1 1298.6L1233.1 1361.8L1234.1 1269.4L1235.1 1395.7L1236.1 1301.7L1237.1 1361.2L1238.1 1266.9L1239.1 1365.6L1240.1 1294.4L1241.1 1421.7L1242.1 1253.9L1243.1 1364.8L1244.1 1242.8L1245.1 1361.1L1246.2 1302L1247.2 1397.5L1248.2 1230.7L1249.2 1365.4L1250.2 1296.2L1251.2 1365.7L1252.2 1231L1253.2 1408.5L1254.2 1217.9L1255.2 1362.5L1256.2 1236.9L1257.2 1363.4L1258.2 1290.9L1259.2 1404.8L1260.2 1258.5L1261.2 1359.8L1262.2 1297.5L1263.2 1443.4L1264.2 1273.4L1265.2 1415L1266.2 1297L1267.2 1364L1268.2 1233.9L1269.2 1359.9L1270.2 1292L1271.2 1421.1L1272.2 1245.6L1273.2 1446.9L1274.2 1296.2L1275.2 1422.2L1276.2 1236.1L1277.2 1366L1278.2 1182L1279.2 1362.8L1280.2 1182L1281.2 1412.3L1282.2 1182L1283.2 1362.7L1284.2 1182L1285.2 1411.8L1286.2 1234.1L1287.2 1365.8L1288.2 1238.9L1289.2 1424L1290.2 1182L1291.2 1439.5L1292.2 1182L1293.2 1366.8L1294.2 1182L1295.2 1415.7L1296.2 1182L1297.2 1362L1298.2 1255.9L1299.2 1428L1300.2 1302L1301.2 1366.2L1302.2 1259.6L1303.2 1435.9L1304.2 1300.4L1305.3 1365L1306.3 1266.6L1307.3 1361.5L1308.3 1260.1L1309.3 1421.1L1310.3 1290.8L1311.3 1401.5L1312.3 1237.9L1313.3 1366.4L1314.3 1294.1L1315.3 1395L1316.3 1248.6L1317.3 1362.7L1318.3 1247.2L1319.3 1418.5L1320.3 1244.8L1321.3 1363.9L1322.3 1294.1L1323.3 1414L1324.3 1249L1325.3 1364.8L1326.3 1298L1327.3 1416.7L1328.3 1279.6L1329.3 1360.3L1330.3 1277L1331.3 1419.4L1332.3 1296.3L1333.3 1366.2L1334.3 1245.8L1335.3 1422L1336.3 1292.4L1337.3 1360L1338.3 1260.9L1339.3 1399.9L1340.3 1217.9L1341.3 1366.4L1342.3 1299.7L1343.3 1405L1344.3 1294.8L1345.3 1424.7L1346.3 1251.9L1347.3 1363.4L1348.3 1291.4L1349.3 1360.1L1350.3 1302.2L1351.3 1394.8L1352.3 1242.1L1353.3 1365.3L1354.3 1233.9L1355.3 1365.7L1356.3 1265.7L1357.3 1423.1L1358.3 1265.6L1359.3 1446.9L1360.3 1236.1L1361.3 1362.2L1362.3 1253.4L1363.3 1182L1364.3 1182L1365.4 1182" fill="none" stroke="#b2232c" stroke-width="3" stroke-linejoin="round" stroke-linecap="round"/>
<path d="M323.6 1461.4V1448.4M638.9 1461.4V1448.4M954.2 1461.4V1448.4M1269.5 1461.4V1448.4M292.5 1363.8H305.5M292.5 1168.5H305.5M292.5 973.2H305.5M1376.5 965.6H1363.5M1376.5 1095.4H1363.5M1376.5 1225.3H1363.5M1376.5 1355.1H1363.5" stroke="#111" stroke-width="3" fill="none"/>
<rect x="292.5" y="836.5" width="1084" height="624.9" fill="none" stroke="#111" stroke-width="3"/>
<text x="323.6" y="1526" text-anchor="middle">0</text>
<text x="638.9" y="1526" text-anchor="middle">5000</text>
<text x="954.2" y="1526" text-anchor="middle">10000</text>
<text x="1269.5" y="1526" text-anchor="middle">15000</text>
<text x="267.5" y="1383.3" text-anchor="end">2</text>
<text x="267.5" y="1188" text-anchor="end">3</text>
<text x="267.5" y="992.7" text-anchor="end">4</text>
<text x="1396" y="855.9">12</text>
<text x="1396" y="985">9</text>
<text x="1396" y="1114.1">6</text>
<text x="1396" y="1243.2">3</text>
<text x="1396" y="1372.3">0</text>
<text transform="translate(198.3 1148.5) rotate(-90)" text-anchor="middle">Voltage/V</text>
<text transform="translate(1517 1147.5) rotate(-90)" text-anchor="middle">Current/A</text>
<text x="833.4" y="1596" text-anchor="middle">Time/s</text>
<path d="M1073.9 879.3H1174.7" stroke="#2f2f33" stroke-width="3.3" stroke-linecap="round"/>
<path d="M1073.9 935.2H1174.7" stroke="#b2232c" stroke-width="3.3" stroke-linecap="round"/>
<text x="1186.5" y="896.5">Voltage</text>
<text x="1186.5" y="952.4">Current</text>
<text x="311.6" y="889.7">(c)</text>
</g>
<g id="panel-d">
<path d="M1772.5 972.7L1773.5 935L1774.5 976.3L1775.5 928.2L1776.5 979.2L1777.5 936.8L1778.5 989.8L1779.5 928.5L1780.5 979L1781.5 940.5L1782.5 971.2L1783.5 931.1L1784.5 959.2L1785.5 931.2L1786.5 970.2L1787.5 939.1L1788.5 1008.8L1789.5 941L1790.5 971.6L1791.5 934.9L1792.5 967.2L1793.5 932.9L1794.5 966.2L1795.5 941.7L1796.5 960L1797.5 940.9L1798.5 973.1L1799.5 931.9L1800.5 973.5L1801.5 943.4L1802.5 975.1L1803.5 937.9L1804.5 1013.5L1805.5 944L1806.5 980.9L1807.5 946.5L1808.5 986.5L1809.5 936.9L1810.5 989.5L1811.5 946.3L1812.5 998L1813.5 945.4L1814.5 988.6L1815.5 940.1L1816.5 985.8L1817.6 941.1L1818.6 975L1819.6 947.5L1820.6 970.4L1821.6 940.1L1822.6 980.2L1823.6 947.4L1824.6 1017.4L1825.6 949.4L1826.6 977.6L1827.6 938.5L1828.6 974.9L1829.6 951.1L1830.6 970.8L1831.6 949.2L1832.6 968.5L1833.6 944.4L1834.6 981.6L1835.6 951.2L1836.6 982.4L1837.6 945.4L1838.6 985L1839.6 954.2L1840.6 1021.9L1841.6 944.1L1842.6 988.7L1843.6 953.4L1844.6 995.7L1845.6 952.6L1846.6 996.9L1847.6 943.3L1848.6 1006.2L1849.6 954.2L1850.6 993.5L1851.6 955.5L1852.6 987.7L1853.6 947.8L1854.6 976.4L1855.6 955.6L1856.6 984.6L1857.6 954.5L1858.6 988.1L1859.6 946.2L1860.6 1025.5L1861.6 957L1862.6 984.8L1863.6 951.1L1864.6 983.6L1865.6 956.1L1866.6 976.1L1867.6 947.7L1868.6 989.1L1869.6 960.2L1870.6 987.9L1871.6 952.8L1872.6 991.3L1873.6 961.3L1874.6 1029.4L1875.6 952.7L1876.6 995.1L1877.6 951.3L1878.6 997.4L1879.6 959.2L1880.6 1002.1L1881.6 953.3L1882.6 1008L1883.6 961.6L1884.6 1013.7L1885.6 951.1L1886.6 999.8L1887.6 933.2L1888.6 988.9L1889.6 959.2L1890.6 997.7L1891.6 954.8L1892.6 988.7L1893.6 959.7L1894.6 989.5L1895.6 923.8L1896.6 983.7L1897.6 959.5L1898.6 995.1L1899.6 927.3L1900.6 1022.1L1901.6 957.7L1902.6 1022.4L1903.6 960L1904.6 1023.7L1905.6 960L1906.7 1025.4L1907.7 956.3L1908.7 995L1909.7 964.5L1910.7 990.4L1911.7 960.5L1912.7 997.1L1913.7 966.7L1914.7 992.3L1915.7 957.1L1916.7 995.4L1917.7 966.2L1918.7 1010.7L1919.7 967.8L1920.7 993.5L1921.7 962.6L1922.7 1000.5L1923.7 967.4L1924.7 995.3L1925.7 968.4L1926.7 998.3L1927.7 963.1L1928.7 1000.6L1929.7 963.3L1930.7 998.4L1931.7 960.4L1932.7 1001.5L1933.7 971.1L1934.7 1016.5L1935.7 969.9L1936.7 996.5L1937.7 963L1938.7 997.1L1939.7 970.2L1940.7 1003L1941.7 947.9L1942.7 1018.7L1943.7 975.4L1944.7 1035.1L1945.7 983.7L1946.7 1000.8L1947.7 985.2L1948.7 1002.5L1949.7 958.8L1950.7 1003.3L1951.7 986.9L1952.7 1003.4L1953.7 987.1L1954.7 1003.6L1955.7 987.2L1956.7 1003.7L1957.7 987.3L1958.7 1003.8L1959.7 987.4L1960.7 1014.5L1961.7 987.5L1962.7 1003.9L1963.7 987.6L1964.7 987.6L1965.7 987.6L1966.7 987.8L1967.7 988.1L1968.7 988.2L1969.7 1004.8L1970.7 1007.2L1971.7 981.9L1972.7 1006.4L1973.7 981.8L1974.7 1005.6L1975.7 981.7L1976.7 1015L1977.7 983.6L1978.7 1006.9L1979.7 981L1980.7 1014.3L1981.7 982.4L1982.7 1038.9L1983.7 980.9L1984.7 1014.5L1985.7 979.8L1986.7 1017L1987.7 984.2L1988.7 1008.8L1989.7 979.5L1990.7 1029.9L1991.7 985L1992.7 1014.6L1993.7 980.1L1994.7 1054.2L1995.8 983.8L1996.8 1016.6L1997.8 977.5L1998.8 1014.3L1999.8 980.1L2000.8 1036.9L2001.8 984.1L2002.8 1017.3L2003.8 985.7L2004.8 1016.5L2005.8 977.9L2006.8 1035.7L2007.8 984.1L2008.8 1009.8L2009.8 975.2L2010.8 1020.7L2011.8 985.1L2012.8 1011.6L2013.8 974.8L2014.8 1012.5L2015.8 983.7L2016.8 1024.4L2017.8 976.8L2018.8 1038.7L2019.8 972.1L2020.8 1015.2L2021.8 972.7L2022.8 1027L2023.8 975.3L2024.8 1038.7L2025.8 985.3L2026.8 1015.1L2027.8 971L2028.8 1024.9L2029.8 985.1L2030.8 1014.1L2031.8 971.1L2032.8 1015.2L2033.8 983.5L2034.8 1024.5L2035.8 982.8L2036.8 1044.6L2037.8 968.6L2038.8 1015.2L2039.8 983.8L2040.8 1023.6L2041.8 982.2L2042.8 1025.5L2043.8 966.2L2044.8 1016.7L2045.8 973.3L2046.8 1025.6L2047.8 984L2048.8 1047.2L2049.8 966.2L2050.8 1018.6L2051.8 982.9L2052.8 1026.6L2053.8 967.4L2054.8 1019.3L2055.8 971.6L2056.8 1025.5L2057.8 972.5L2058.8 1038.3L2059.8 984.4L2060.8 1018.4L2061.8 993.7L2062.8 1013.8L2063.8 994L2064.8 1014.1L2065.8 994.3L2066.8 1015.4L2067.8 995.6L2068.8 1015.7L2069.8 995.9L2070.8 1015.9L2071.8 996.1L2072.8 1016.1L2073.8 996.6L2074.8 1017.2L2075.8 998L2076.8 1018.6L2077.8 992.8L2078.8 1059.9L2079.8 1008.1L2080.8 1023.7L2081.8 1009.5L2082.8 1053.3L2083.8 1010L2084.9 1027.1L2085.9 1010.2L2086.9 1035.8L2087.9 1010.4L2088.9 1011.4L2089.9 1010.5L2090.9 1011.5L2091.9 1010.6L2092.9 1011.6L2093.9 1010.7L2094.9 1011.7L2095.9 1010.8L2096.9 1011.8L2097.9 1010.9L2098.9 1011.9L2099.9 1011L2100.9 1012L2101.9 1011.1L2102.9 1012.2L2103.9 1011.4L2104.9 1021.8L2105.9 1011.8L2106.9 1012.1L2107.9 1012.4L2108.9 1012.7L2109.9 1013.1L2110.9 1029.9L2111.9 1030.3L2112.9 1030.7L2113.9 1031.1L2114.9 1031.6L2115.9 1015.5L2116.9 1043L2117.9 1016.3L2118.9 1016.7L2119.9 1017.1L2120.9 1033.9L2121.9 1034.2L2122.9 1032.3L2123.9 1017.4L2124.9 1034.9L2125.9 1016.5L2126.9 1022L2127.9 1004.3L2128.9 1031.6L2129.9 1008.4L2130.9 1032.2L2131.9 1003.7L2132.9 1042.9L2133.9 992.6L2134.9 1067.3L2135.9 1005.9L2136.9 1067.6L2137.9 1005.6L2138.9 1047.6L2139.9 983.7L2140.9 1035.4L2141.9 1011.4L2142.9 1034.6L2143.9 1007.4L2144.9 1053.3L2145.9 1013L2146.9 1036.4L2147.9 1012L2148.9 1072.3L2149.9 1006.5L2150.9 1084.5L2151.9 1014.2L2152.9 1037.3L2153.9 1008.8L2154.9 1039.5L2155.9 1014.6L2156.9 1067.6L2157.9 1009.4L2158.9 1039.5L2159.9 1016.9L2160.9 1041.8L2161.9 1010.2L2162.9 1059.2L2163.9 1017.5L2164.9 1075.7L2165.9 1011.4L2166.9 1060.2L2167.9 1014.6L2168.9 1056.1L2169.9 1019.7L2170.9 1090.7L2171.9 1020L2172.9 1079.5L2174 1015.7L2175 1056.3L2176 1021.1L2177 1057.9L2178 1020.1L2179 1043.8L2180 1014.5L2181 1055.6L2182 1020.4L2183 1081L2184 1013.8L2185 1060.6L2186 1019L2187 1044.1L2188 1013.5L2189 1093.1L2190 1018.8L2191 1045L2192 1019.4L2193 1081.7L2194 1008.5L2195 1044.6L2196 1019.7L2197 1059.8L2198 1012.1L2199 1081L2200 1017.4L2201 1059L2202 1010.2L2203 1059.5L2204 1016.4L2205 1045.1L2206 1015.9L2207 1060.9L2208 1005.9L2209 1045L2210 1007.5L2211 1080.5L2212 1002.6L2213 1062L2214 1015.4L2215 1046.4L2216 1003.4L2217 1073.9L2218 1014.5L2219 1045.1L2220 1014L2221 1044.1L2222 1001.7L2223 1058.2L2224 1014.5L2225 1079.7L2226 1014.4L2227 1059.6L2228 998.2L2229 1048.4L2230 996.2L2231 1063.4L2232 1012L2233 1046.4L2234 1013.5L2235 1082.2L2236 1001.6L2237 1065.8L2238 1004L2239 1046.1L2240 985.2L2241 1044.6L2242 1003.2L2243 1060.8L2244 1014.1L2245 1079.8L2246 999.5L2247 1044.3L2248 1014L2249 1059.5L2250 1012.8L2251 1043.9L2252 1002.8L2253 1063.3L2254 1012.5L2255 1043.3L2256 1014.2L2257 1078.5L2258 984.7L2259 1042.7L2260 1005.4L2261 1044.1L2262 1013.4L2263.1 1058.2L2264.1 987.5L2265.1 1081.1L2266.1 1004.5L2267.1 1056.5L2268.1 1013.4L2269.1 1051.8L2270.1 1013.9L2271.1 1061.8L2272.1 1003.7L2273.1 1081L2274.1 983.5L2275.1 1081L2276.1 1014.4L2277.1 1081L2278.1 1003.8L2279.1 1056.5L2280.1 1016.9L2281.1 1081.8L2282.1 986.3L2283.1 1083.9L2284.1 1022.5L2285.1 1043.5L2286.1 1024.7L2287.1 1045.6L2288.1 1026.9L2289.1 1047.9L2290.1 1027.7L2291.1 1047.4L2292.1 1027.3L2293.1 1045.1L2294.1 1034.2L2295.1 1037.8L2296.1 1033.7L2297.1 1037.3L2298.1 1033.3L2299.1 1085.6L2300.1 1006.5L2301.1 1038.1L2302.1 1035L2303.1 1039.5L2304.1 1036.4L2305.1 1063.6L2306.1 1030.6L2307.1 1057.3L2308.1 1029.1L2309.1 1057.3L2310.1 1030.7L2311.1 1065.4L2312.1 1032.3L2313.1 1081.4L2314.1 1028.9L2315.1 1070.4L2316.1 1031.5L2317.1 1057.4L2318.1 1028.3L2319.1 1077.6L2320.1 1031.3L2321.1 1054.9L2322.1 1028.8L2323.1 1071.2L2324.1 1032.7L2325.1 1083.7L2326.1 1028.3L2327.1 1056.9L2328.1 1032.5L2329.1 1102.4L2330.1 1032.6L2331.1 1083.9L2332.1 1030.5L2333.1 1063.1L2334.1 1032.4L2335.1 1062.3L2336.1 1030.3L2337.1 1063L2338.1 1037.8L2339.1 1041L2340.1 1041.4L2341.1 1041.7L2342.1 1042.1L2343.1 1042.8L2344.1 1034.7L2345.1 1059.3L2346.1 1059.3L2347.1 1059.3L2348.1 1059.4L2349.1 1058.7L2350.1 1043L2351.1 1045L2352.2 1043.1L2353.2 1045.1L2354.2 1043.2L2355.2 1045.2L2356.2 1043.3L2357.2 1045.2L2358.2 1043.4L2359.2 1045L2360.2 1042.8L2361.2 1050.3L2362.2 1038.6L2363.2 1077.3L2364.2 1027.9L2365.2 1061.6L2366.2 1027L2367.2 1060.7L2368.2 1033.1L2369.2 1078L2370.2 1026.2L2371.2 1061.2L2372.2 1034.9L2373.2 1073L2374.2 1024L2375.2 1059.7L2376.2 1026.3L2377.2 1058.4L2378.2 1033.1L2379.2 1094.6L2380.2 1032.8L2381.2 1081.8L2382.2 1026.4L2383.2 1058.9L2384.2 1032.2L2385.2 1093.7L2386.2 1032.9L2387.2 1095L2388.2 1026.5L2389.2 1059L2390.2 1030.4L2391.2 1074.9L2392.2 1030.3L2393.2 1057.2L2394.2 1025.3L2395.2 1058.1L2396.2 1026L2397.2 1069.9L2398.2 1006.3L2399.2 1102.9L2400.2 1032.5L2401.2 1084.4L2402.2 1027.5L2403.2 1057.1L2404.2 1033.2L2405.2 1067.7L2406.2 1032.9L2407.2 1065.8L2408.2 1025.3L2409.2 1068.4L2410.2 1026.1L2411.2 1058.3L2412.2 1034.5L2413.2 1068.5L2414.2 1026.6L2415.2 1059L2416.2 1013.8L2417.2 1077.7L2418.2 1040.9L2419.2 1049L2420.2 1036.4L2421.2 1055L2422.2 1035.5L2423.2 1056.5L2424.2 1037L2425.2 1057L2426.2 1037.1L2427.2 1057.1L2428.2 1036.5L2429.2 1055.8L2430.2 1035.2L2431.2 1054.5L2432.2 1041.3L2433.2 1044.5L2434.2 1040L2435.2 1043.2L2436.2 1038.7L2437.2 1042.5L2438.2 1011.6L2439.2 1090.8L2440.2 1038.7L2441.2 1043.5L2442.3 1040.5L2443.3 1045.4L2444.3 1042.4L2445.3 1067.1L2446.3 1034.2L2447.3 1090.3L2448.3 1039.1L2449.3 1076.2L2450.3 1037.4L2451.3 1113L2452.3 1040.6L2453.3 1076.2L2454.3 1037.9L2455.3 1100.6L2456.3 1041.5L2457.3 1080.8L2458.3 1042L2459.3 1082.2L2460.3 1036.4L2461.3 1064.8L2462.3 1042.7L2463.3 1088.4L2464.3 1037.3L2465.3 1066.6L2466.3 1041.9L2467.3 1067.6L2468.3 1037.6L2469.3 1077.5L2470.3 1038L2471.3 1112.4L2472.3 1041.9L2473.3 1066.3L2474.3 1036.9L2475.3 1079.1L2476.3 1039.1L2477.3 1066.4L2478.3 1038.7L2479.3 1091.3L2480.3 1043.5L2481.3 1081.6L2482.3 1045L2483.3 1068.8L2484.3 1039.8L2485.3 1079.4L2486.3 1040.3L2487.3 1069.5L2488.3 1039.9L2489.3 1119.5L2490.3 1048.9L2491.3 1073.9L2492.3 1048.6L2493.3 1087.5L2494.3 1044.4L2495.3 1072.7L2496.3 1048.7L2497.3 1072.3L2498.3 1049.8L2499.3 1090.5L2500.3 1045.9L2501.3 1074.7L2502.3 1044.7L2503.3 1081.6L2504.3 1049L2505.3 1071.4L2506.3 1054.6L2507.3 1054.2L2508.3 1053.8L2509.3 1053.3L2510.3 1052.9L2511.3 1069.4L2512.3 1069.4L2513.3 1069.4L2514.3 1069.4L2515.3 1069.4L2516.3 1044.9L2517.3 1053L2518.3 1053L2519.3 1053L2520.3 1053L2521.3 1069.5L2522.3 1069.5L2523.3 1080.1L2524.3 1069.5L2525.3 1069.6L2526.3 1053.2L2527.3 1053.3L2528.3 1053.3L2529.3 1053.4L2530.3 1045.3L2531.4 1069.9L2532.4 1069.9L2533.4 1070L2534.4 1070L2535.4 1069.7L2536.4 1052L2537.4 1050.3L2538.4 1048.9L2539.4 1047.8L2540.4 1040.8L2541.4 1093.7L2542.4 1034.8L2543.4 1074.6L2544.4 1003.4L2545.4 1080L2546.4 1031.9L2547.4 1101.1L2548.4 1007.1L2549.4 1083.1L2550.4 1033.5L2551.4 1065.8L2552.4 1023.1L2553.4 1069.6L2554.4 1010.5L2555.4 1085.7L2556.4 1035.3L2557.4 1105.6L2558.4 1021.7L2559.4 1071.8L2560.4 1025.7L2561.4 1085.9L2562.4 1022.4L2563.4 1071.9L2564.4 1038.8L2565.4 1092.1L2566.4 1041.4L2567.4 1071.2L2568.4 1031.3L2569.4 1105L2570.4 1039.9L2571.4 1069.7L2572.4 1040.8L2573.4 1070.9L2574.4 1031.7L2575.4 1101.2L2576.4 1043L2577.4 1071.5L2578.4 1043.9L2579.4 1098.7L2580.4 1033.4L2581.4 1073.2L2582.4 1044.4L2583.4 1098.1L2584.4 1021.3L2585.4 1108.1L2586.4 1044.4L2587.4 1089.3L2588.4 1045.5L2589.4 1091.8L2590.4 1034.2L2591.4 1073.4L2592.4 1039.9L2593.4 1071.5L2594.4 1046.1L2595.4 1090.6L2596.4 1036.8L2597.4 1072.7L2598.4 1046L2599.4 1096.7L2600.4 1039.2L2601.4 1109.9L2602.4 1047.4L2603.4 1103.6L2604.4 1049L2605.4 1073.9L2606.4 1042.9L2607.4 1096.6L2608.4 1048.9L2609.4 1111.7L2610.4 1048.2L2611.4 1106L2612.4 1038.2L2613.4 1079L2614.4 1049.5L2615.4 1107.7L2616.4 1049.4L2617.4 1113.4L2618.4 1036.4L2619.4 1114.5L2620.5 1049.5L2621.5 1076.3L2622.5 1042L2623.5 1074.4L2624.5 1023.4L2625.5 1108.7L2626.5 1043.4L2627.5 1089L2628.5 1048.3L2629.5 1087.5L2630.5 1046.9L2631.5 1071.2L2632.5 1040.8L2633.5 1107.2L2634.5 1041.9L2635.5 1073.2L2636.5 1047L2637.5 1098.2L2638.5 1041.7L2639.5 1072.4L2640.5 1040.8L2641.5 1087.9L2642.5 1050.8L2643.5 1076.1L2644.5 1050L2645.5 1070.5L2646.5 1051.1L2647.5 1071.5L2648.5 1052.2L2649.5 1072.6L2650.5 1053.2L2651.5 1073.4L2652.5 1053.7L2653.5 1076.6L2654.5 1045.4L2655.5 1088.8L2656.5 1045.3L2657.5 1105.6L2658.5 1028.1L2659.5 1092.3L2660.5 1029.6L2661.5 1079.2L2662.5 1033.5L2663.5 1097.2L2664.5 1036.1L2665.5 1092.5L2666.5 1044L2667.5 1110.5L2668.5 1032.1L2669.5 1096.4L2670.5 1042.9L2671.5 1076.1L2672.5 1043.3L2673.5 1110.1L2674.5 1014.6L2675.5 1088.4L2676.5 1042L2677.5 1074.5L2678.5 1031.4L2679.5 1090.7L2680.5 1042L2681.5 1076.5L2682.5 1043.7L2683.5 1097.7L2684.5 1028.9L2685.5 1110.8L2686.5 1042.5L2687.5 1090.7L2688.5 1049.4L2689.5 1079.2L2690.5 1049.7L2691.5 1090.3L2692.5 1058.3L2693.5 1085.5L2694.5 1062.3L2695.5 1116L2696.5 1059L2697.5 1098.1L2698.5 1057.4L2699.5 1105.5L2700.5 1063.1L2701.5 1087.6L2702.5 1056.6L2703.5 1088.9L2704.5 1062.8L2705.5 1128.1L2706.5 1059.3L2707.5 1110.3L2708.5 1064.6L2709.6 1109.5L2710.6 1057.7L2711.6 1109.1L2712.6 1065.7L2713.6 1090.6L2714.6 1060.6L2715.6 1106.9L2716.6 1065.5L2717.6 1093.4L2718.6 1061.7L2719.6 1105.3L2720.6 1064.7L2721.6 1129.8L2722.6 1060.5L2723.6 1109.4L2724.6 1065.3L2725.6 1092.3L2726.6 1057.8L2727.6 1119L2728.6 1065.1L2729.6 1093.1L2730.6 1066.2L2731.6 1115.4L2732.6 1055.2L2733.6 1137.3L2734.6 1056.5L2735.6 1118.5L2736.6 1066.4L2737.6 1100L2738.6 1036.8L2739.6 1103.5L2740.6 1047.6L2741.6 1135.9L2742.6 1064.5L2743.6 1160.9L2744.6 1048.9L2745.6 1161.7L2746.6 1046.7L2747.6 1162.4L2748.6 1066.4L2749.6 1130.1L2750.6 1053.9L2751.6 1106.3L2752.6 1055.7L2753.6 1130.9L2754.6 1067.6L2755.6 1105.2L2756.6 1042.7L2757.6 1122.1L2758.6 1067.4L2759.6 1166.6L2760.6 1068.5L2761.6 1108.5L2762.6 1058.7L2763.6 1123.1L2764.6 1045.5L2765.6 1102.6L2766.6 1053.8L2767.6 1103.7L2768.6 1081.1L2769.6 1080.9L2770.6 1080.7L2771.6 1081.3L2772.6 1083L2773.6 1084.2L2774.6 1106.4L2775.6 1106.9L2776.6 1107.5L2777.6 1108.1L2778.6 1108.6L2779.6 1087.1L2780.6 1087.5L2781.6 1088L2782.6 1088.5L2783.6 1125.9L2784.6 1112L2785.6 1112.5L2786.6 1113.1L2787.6 1113.7L2788.6 1114.2L2789.6 1091.8L2790.6 1092.3L2791.6 1092.8L2792.6 1093.2L2793.6 1093.7L2794.6 1094.2L2795.6 1094.7L2796.6 1095.2L2797.6 1174.6L2798.7 1076.6L2799.7 1120.6L2800.7 1057.8L2801.7 1122L2802.7 1123.2L2803.7 1100.5L2804.7 1102L2805.7 1114.2L2806.7 1097.7L2807.7 1125.3L2808.7 1097L2809.7 1128.4L2810.7 1099.7L2811.7 1130.8L2812.7 1101.3L2813.7 1132.4L2814.7 1102.3L2815.7 1132.7L2816.7 1101.9L2817.7 1132.6L2818.7 1107.2L2819.7 1122.2L2820.7 1113.2L2821.7 1243.8L2822.7 1070.5L2823.7 1123.9L2824.7 1117.3L2825.7 1129.4L2826.7 1123.4L2827.7 1145.3L2828.7 1118.7L2829.7 1155.7L2830.7 1128.5L2831.7 1168.9L2832.7 1142.4L2833.7 1183.9L2834.7 1157.8L2835.7 1200.1L2836.7 1177.2L2837.7 1283.9L2838.7 1271.5" fill="none" stroke="#2f2f33" stroke-width="3" stroke-linejoin="round" stroke-linecap="round"/>
<path d="M1772.5 1353.4L1773.5 1268.3L1774.5 1360.9L1775.5 1252.2L1776.5 1366.7L1777.5 1270.7L1778.5 1389.4L1779.5 1250.8L1780.5 1364L1781.5 1276.7L1782.5 1345.4L1783.5 1254.6L1784.5 1317.3L1785.5 1253.6L1786.5 1340.8L1787.5 1270.5L1788.5 1426.8L1789.5 1273.6L1790.5 1342L1791.5 1258.8L1792.5 1330.9L1793.5 1253.1L1794.5 1327.6L1795.5 1272L1796.5 1312.5L1797.5 1269L1798.5 1340.9L1799.5 1247.7L1800.5 1340.8L1801.5 1272.5L1802.5 1343.3L1803.5 1258.9L1804.5 1428.6L1805.5 1271.6L1806.5 1354.3L1807.5 1276.1L1808.5 1365.7L1809.5 1253.4L1810.5 1371.3L1811.5 1273.5L1812.5 1389.4L1813.5 1270.5L1814.5 1367.2L1815.5 1257.5L1816.5 1359.7L1817.6 1258.7L1818.6 1334.4L1819.6 1271.9L1820.6 1323L1821.6 1254.1L1822.6 1343.9L1823.6 1269.6L1824.6 1426.8L1825.6 1273.1L1826.6 1336L1827.6 1247.4L1828.6 1328.9L1829.6 1274.8L1830.6 1318.6L1831.6 1269.5L1832.6 1312.5L1833.6 1257.7L1834.6 1340.9L1835.6 1272.1L1836.6 1341.8L1837.6 1257.8L1838.6 1346.6L1839.6 1276.7L1840.6 1428.6L1841.6 1252.9L1842.6 1353L1843.6 1273L1844.6 1367.6L1845.6 1270.1L1846.6 1369.5L1847.6 1248.1L1848.6 1389.4L1849.6 1271.7L1850.6 1359.7L1851.6 1273.6L1852.6 1345.7L1853.6 1255.3L1854.6 1319.1L1855.6 1271.9L1856.6 1336.6L1857.6 1268.5L1858.6 1343.5L1859.6 1248.7L1860.6 1426.8L1861.6 1271.9L1862.6 1334.1L1863.6 1257.8L1864.6 1330.3L1865.6 1268.1L1866.6 1312.5L1867.6 1248.1L1868.6 1340.8L1869.6 1275.1L1870.6 1337.1L1871.6 1257.5L1872.6 1343.7L1873.6 1275.6L1874.6 1428.6L1875.6 1255.3L1876.6 1350.2L1877.6 1251.3L1878.6 1354.4L1879.6 1268.1L1880.6 1363.9L1881.6 1253.6L1882.6 1376.3L1883.6 1272L1884.6 1389.4L1885.6 1248.6L1886.6 1358.5L1887.6 1208.7L1888.6 1334.3L1889.6 1267.5L1890.6 1354.5L1891.6 1258.1L1892.6 1334.1L1893.6 1268.6L1894.6 1335.4L1895.6 1187L1896.6 1321.5L1897.6 1266.7L1898.6 1346.5L1899.6 1193.5L1900.6 1406.6L1901.6 1261.3L1902.6 1406.6L1903.6 1264.9L1904.6 1406.6L1905.6 1261.3L1906.7 1406.6L1907.7 1248.9L1908.7 1334L1909.7 1262.9L1910.7 1318.9L1911.7 1249.4L1912.7 1330.1L1913.7 1260.8L1914.7 1317.5L1915.7 1237.5L1916.7 1323.1L1917.7 1256.7L1918.7 1356.1L1919.7 1259.1L1920.7 1316.4L1921.7 1246.3L1922.7 1330.8L1923.7 1255.9L1924.7 1318L1925.7 1256.9L1926.7 1323.7L1927.7 1243.8L1928.7 1327.8L1929.7 1243.4L1930.7 1322.1L1931.7 1236.2L1932.7 1328.6L1933.7 1260.1L1934.7 1362.2L1935.7 1257.4L1936.7 1317.1L1937.7 1241.8L1938.7 1318.6L1939.7 1258.4L1940.7 1332.2L1941.7 1206.5L1942.7 1364.2L1943.7 1265L1944.7 1397.9L1945.7 1280.5L1946.7 1317.4L1947.7 1280.5L1948.7 1317.4L1949.7 1217.4L1950.7 1317.4L1951.7 1280.5L1952.7 1317.4L1953.7 1280.5L1954.7 1317.4L1955.7 1280.5L1956.7 1317.4L1957.7 1280.5L1958.7 1317.4L1959.7 1280.5L1960.7 1341.3L1961.7 1280.5L1962.7 1317.4L1963.7 1280.5L1964.7 1280.5L1965.7 1280.5L1966.7 1280.5L1967.7 1280.5L1968.7 1280.5L1969.7 1317.4L1970.7 1322.5L1971.7 1265L1972.7 1319.9L1973.7 1263.9L1974.7 1317.2L1975.7 1263.1L1976.7 1338.1L1977.7 1267.3L1978.7 1319.7L1979.7 1261.1L1980.7 1335.9L1981.7 1264L1982.7 1391L1983.7 1260.2L1984.7 1335.9L1985.7 1257.6L1986.7 1341.1L1987.7 1267.2L1988.7 1322.4L1989.7 1256.3L1990.7 1369.8L1991.7 1268.6L1992.7 1335L1993.7 1257.3L1994.7 1424L1995.8 1265.3L1996.8 1339.1L1997.8 1250.8L1998.8 1333.5L1999.8 1256.2L2000.8 1383.8L2001.8 1264.5L2002.8 1338.9L2003.8 1267.2L2004.8 1336L2005.8 1248.4L2006.8 1378L2007.8 1261.1L2008.8 1318.5L2009.8 1239.9L2010.8 1341.8L2011.8 1260.9L2012.8 1320L2013.8 1236.4L2014.8 1320.9L2015.8 1255.4L2016.8 1346.4L2017.8 1238.7L2018.8 1377.5L2019.8 1227.2L2020.8 1323.6L2021.8 1227.6L2022.8 1349.4L2023.8 1232.5L2024.8 1374.9L2025.8 1254.2L2026.8 1320.9L2027.8 1221.1L2028.8 1342L2029.8 1252L2030.8 1316.8L2031.8 1219.6L2032.8 1318.6L2033.8 1247L2034.8 1339.2L2035.8 1245L2036.8 1384.1L2037.8 1212.9L2038.8 1318L2039.8 1247.4L2040.8 1337.1L2041.8 1244L2042.8 1341.3L2043.8 1207.7L2044.8 1321.2L2045.8 1223.1L2046.8 1340.3L2047.8 1246.2L2048.8 1387.9L2049.8 1205L2050.8 1322.3L2051.8 1241.3L2052.8 1339.1L2053.8 1205.1L2054.8 1321.7L2055.8 1213.9L2056.8 1334.9L2057.8 1217.5L2058.8 1365.4L2059.8 1243.6L2060.8 1319.8L2061.8 1263.9L2062.8 1308.7L2063.8 1263.9L2064.8 1308.7L2065.8 1263.9L2066.8 1308.7L2067.8 1263.9L2068.8 1308.7L2069.8 1263.9L2070.8 1308.7L2071.8 1263.9L2072.8 1308.7L2073.8 1263.9L2074.8 1308.7L2075.8 1263.9L2076.8 1308.7L2077.8 1249.2L2078.8 1398.8L2079.8 1280.5L2080.8 1314L2081.8 1280.5L2082.8 1378.1L2083.8 1280.5L2084.9 1318.8L2085.9 1280.5L2086.9 1338L2087.9 1280.5L2088.9 1282.6L2089.9 1280.5L2090.9 1282.6L2091.9 1280.5L2092.9 1282.6L2093.9 1280.5L2094.9 1282.6L2095.9 1280.5L2096.9 1282.6L2097.9 1280.5L2098.9 1282.6L2099.9 1280.5L2100.9 1282.6L2101.9 1280.5L2102.9 1282.6L2103.9 1280.5L2104.9 1303.4L2105.9 1280.5L2106.9 1280.5L2107.9 1280.5L2108.9 1280.5L2109.9 1280.5L2110.9 1317.4L2111.9 1317.4L2112.9 1317.4L2113.9 1317.4L2114.9 1317.4L2115.9 1280.5L2116.9 1341.3L2117.9 1280.5L2118.9 1280.5L2119.9 1280.5L2120.9 1317.4L2121.9 1317.4L2122.9 1313.7L2123.9 1280.5L2124.9 1320.9L2125.9 1280.5L2126.9 1293.8L2127.9 1254.9L2128.9 1317.4L2129.9 1266.1L2130.9 1320.7L2131.9 1256.1L2132.9 1344.5L2133.9 1230.5L2134.9 1397.9L2135.9 1259.1L2136.9 1397.2L2137.9 1257.2L2138.9 1351L2139.9 1206.5L2140.9 1322.2L2141.9 1267.4L2142.9 1319.1L2143.9 1257L2144.9 1359.8L2145.9 1268.3L2146.9 1320.5L2147.9 1264.9L2148.9 1400.1L2149.9 1251.1L2150.9 1426.2L2151.9 1267.1L2152.9 1318.5L2153.9 1253.6L2154.9 1322L2155.9 1265.2L2156.9 1383.9L2157.9 1252.2L2158.9 1319.2L2159.9 1267.7L2160.9 1323L2161.9 1251.1L2162.9 1360.7L2163.9 1266.1L2164.9 1396.5L2165.9 1251.1L2166.9 1360.2L2167.9 1256.9L2168.9 1349.5L2169.9 1267L2170.9 1426.2L2171.9 1266.3L2172.9 1399.8L2174 1255.5L2175 1346.4L2176 1266.9L2177 1349.4L2178 1263.9L2179 1317.1L2180 1250.8L2181 1343.3L2182 1263.9L2183 1400.1L2184 1248.5L2185 1353.8L2186 1259.9L2187 1316.2L2188 1247.1L2189 1426.2L2190 1258.8L2191 1317.6L2192 1259.9L2193 1400.1L2194 1235.1L2195 1316.3L2196 1260.3L2197 1350.8L2198 1243.6L2199 1398.7L2200 1255.8L2201 1349.7L2202 1240.1L2203 1351.4L2204 1254.5L2205 1319.4L2206 1254.1L2207 1355.5L2208 1231.8L2209 1320.1L2210 1235.7L2211 1400.1L2212 1224.6L2213 1358.4L2214 1253.4L2215 1323.1L2216 1226.1L2217 1384.6L2218 1250.5L2219 1319.1L2220 1248.9L2221 1316.1L2222 1220.4L2223 1347.2L2224 1248.2L2225 1394.6L2226 1247.2L2227 1348.6L2228 1210.1L2229 1322.9L2230 1205.2L2231 1356.6L2232 1240.9L2233 1318.7L2234 1244.9L2235 1400.1L2236 1219.2L2237 1364.3L2238 1225.9L2239 1321.2L2240 1184.8L2241 1319.1L2242 1226.5L2243 1356.6L2244 1251.9L2245 1400.1L2246 1219.5L2247 1320.7L2248 1252.7L2249 1355.1L2250 1250L2251 1319.9L2252 1227.5L2253 1363.7L2254 1249.5L2255 1318.9L2256 1253.5L2257 1398.1L2258 1187L2259 1317.6L2260 1233.7L2261 1320.8L2262 1251.7L2263.1 1352.7L2264.1 1193.5L2265.1 1404.4L2266.1 1232L2267.1 1348.9L2268.1 1251.9L2269.1 1338.5L2270.1 1253.1L2271.1 1361L2272.1 1230.2L2273.1 1404.4L2274.1 1184.8L2275.1 1404.4L2276.1 1254.4L2277.1 1404.4L2278.1 1230.6L2279.1 1349.3L2280.1 1260.6L2281.1 1404.4L2282.1 1187L2283.1 1404.4L2284.1 1263.9L2285.1 1308.7L2286.1 1263.9L2287.1 1308.7L2288.1 1263.9L2289.1 1308.7L2290.1 1263.9L2291.1 1308.7L2292.1 1263.9L2293.1 1304.6L2294.1 1280.5L2295.1 1289.2L2296.1 1280.5L2297.1 1289.2L2298.1 1280.5L2299.1 1397.9L2300.1 1219.6L2301.1 1289.2L2302.1 1280.5L2303.1 1289.2L2304.1 1280.5L2305.1 1340.4L2306.1 1264.6L2307.1 1323.2L2308.1 1258.5L2309.1 1320.7L2310.1 1261L2311.1 1339.4L2312.1 1265.3L2313.1 1376L2314.1 1258.1L2315.1 1351.9L2316.1 1264.6L2317.1 1323.3L2318.1 1258L2319.1 1369.2L2320.1 1265.3L2321.1 1318.5L2322.1 1259.7L2323.1 1355.1L2324.1 1268.5L2325.1 1383.1L2326.1 1258.3L2327.1 1322.4L2328.1 1267L2329.1 1424L2330.1 1266.6L2331.1 1381.7L2332.1 1261.2L2333.1 1334.4L2334.1 1265.5L2335.1 1332L2336.1 1259L2337.1 1331.8L2338.1 1274.1L2339.1 1280.5L2340.1 1280.5L2341.1 1280.5L2342.1 1280.5L2343.1 1280.5L2344.1 1262.2L2345.1 1317.4L2346.1 1317.4L2347.1 1317.4L2348.1 1317.4L2349.1 1315.8L2350.1 1280.5L2351.1 1284.8L2352.2 1280.5L2353.2 1284.8L2354.2 1280.5L2355.2 1284.8L2356.2 1280.5L2357.2 1284.8L2358.2 1280.5L2359.2 1284.8L2360.2 1280.5L2361.2 1297.9L2362.2 1271.9L2363.2 1359.1L2364.2 1248.1L2365.2 1324L2366.2 1246.2L2367.2 1322.4L2368.2 1259.7L2369.2 1360.4L2370.2 1243.6L2371.2 1322.4L2372.2 1263.3L2373.2 1349.5L2374.2 1239.4L2375.2 1320.3L2376.2 1245.3L2377.2 1318L2378.2 1261.3L2379.2 1400.1L2380.2 1261.3L2381.2 1372L2382.2 1247.7L2383.2 1321.1L2384.2 1261.4L2385.2 1400.1L2386.2 1263.5L2387.2 1403.7L2388.2 1249.9L2389.2 1323.2L2390.2 1259.2L2391.2 1359.6L2392.2 1259.5L2393.2 1320.2L2394.2 1248.6L2395.2 1322.8L2396.2 1250.6L2397.2 1349.6L2398.2 1206.5L2399.2 1424L2400.2 1265.4L2401.2 1382L2402.2 1253.9L2403.2 1320.2L2404.2 1266L2405.2 1343.3L2406.2 1264.5L2407.2 1338L2408.2 1246.5L2409.2 1343L2410.2 1247.3L2411.2 1319.5L2412.2 1265.7L2413.2 1341.8L2414.2 1248.9L2415.2 1322.1L2416.2 1219.6L2417.2 1362.7L2418.2 1279.1L2419.2 1296.7L2420.2 1267.6L2421.2 1308.7L2422.2 1263.9L2423.2 1308.7L2424.2 1263.9L2425.2 1308.7L2426.2 1263.9L2427.2 1308.7L2428.2 1263.9L2429.2 1308.7L2430.2 1263.9L2431.2 1308.7L2432.2 1280.5L2433.2 1289.2L2434.2 1280.5L2435.2 1289.2L2436.2 1280.5L2437.2 1289.2L2438.2 1219.6L2439.2 1397.9L2440.2 1280.5L2441.2 1289.2L2442.3 1280.5L2443.3 1289.2L2444.3 1280.5L2445.3 1333.7L2446.3 1257.5L2447.3 1381.7L2448.3 1264.4L2449.3 1345.6L2450.3 1258.3L2451.3 1428.3L2452.3 1265.3L2453.3 1345.2L2454.3 1259L2455.3 1400.1L2456.3 1266.8L2457.3 1355.2L2458.3 1267.7L2459.3 1358L2460.3 1254.6L2461.3 1318.4L2462.3 1268.5L2463.3 1371.4L2464.3 1256.1L2465.3 1321.9L2466.3 1266L2467.3 1323.8L2468.3 1256L2469.3 1345.7L2470.3 1256.5L2471.3 1424L2472.3 1265.1L2473.3 1319.8L2474.3 1253.5L2475.3 1348.2L2476.3 1258L2477.3 1319.1L2478.3 1256.2L2479.3 1374.2L2480.3 1265.9L2481.3 1350.8L2482.3 1267.6L2483.3 1320.2L2484.3 1253.9L2485.3 1342L2486.3 1252.9L2487.3 1317.8L2488.3 1249.9L2489.3 1428.3L2490.3 1268.4L2491.3 1323.9L2492.3 1266.3L2493.3 1353.3L2494.3 1255.5L2495.3 1318.8L2496.3 1264.2L2497.3 1317.1L2498.3 1266L2499.3 1357.3L2500.3 1256.6L2501.3 1321.3L2502.3 1254.6L2503.3 1338.6L2504.3 1265.9L2505.3 1317.4L2506.3 1280.5L2507.3 1280.5L2508.3 1280.5L2509.3 1280.5L2510.3 1280.5L2511.3 1317.4L2512.3 1317.4L2513.3 1317.4L2514.3 1317.4L2515.3 1317.4L2516.3 1262.2L2517.3 1280.5L2518.3 1280.5L2519.3 1280.5L2520.3 1280.5L2521.3 1317.4L2522.3 1317.4L2523.3 1341.3L2524.3 1317.4L2525.3 1317.4L2526.3 1280.5L2527.3 1280.5L2528.3 1280.5L2529.3 1280.5L2530.3 1262.2L2531.4 1317.4L2532.4 1317.4L2533.4 1317.4L2534.4 1317.4L2535.4 1317.4L2536.4 1280.5L2537.4 1280.5L2538.4 1280.5L2539.4 1280.5L2540.4 1266.2L2541.4 1387L2542.4 1255.8L2543.4 1346.8L2544.4 1187L2545.4 1357.6L2546.4 1246.4L2547.4 1400.1L2548.4 1187L2549.4 1357.3L2550.4 1244.7L2551.4 1316.6L2552.4 1219.4L2553.4 1323.2L2554.4 1189.1L2555.4 1357.3L2556.4 1242.8L2557.4 1400.1L2558.4 1210L2559.4 1321.7L2560.4 1217.2L2561.4 1352.5L2562.4 1210L2563.4 1322L2564.4 1248L2565.4 1368.5L2566.4 1255L2567.4 1322.7L2568.4 1233.6L2569.4 1400.1L2570.4 1253.2L2571.4 1319.8L2572.4 1253.9L2573.4 1321.1L2574.4 1232.1L2575.4 1387.9L2576.4 1256.2L2577.4 1319.7L2578.4 1256.8L2579.4 1379.6L2580.4 1232.1L2581.4 1321.4L2582.4 1256.3L2583.4 1377.3L2584.4 1204.4L2585.4 1400.1L2586.4 1256.7L2587.4 1358.1L2588.4 1259.5L2589.4 1364L2590.4 1234.2L2591.4 1322.1L2592.4 1246.5L2593.4 1317.2L2594.4 1259.5L2595.4 1359.2L2596.4 1237.6L2597.4 1317.9L2598.4 1257.4L2599.4 1371.2L2600.4 1241.3L2601.4 1400.1L2602.4 1258.7L2603.4 1384.8L2604.4 1261.4L2605.4 1317.1L2606.4 1246.9L2607.4 1367.3L2608.4 1259.3L2609.4 1400.1L2610.4 1256.5L2611.4 1385.8L2612.4 1232.5L2613.4 1323.6L2614.4 1256.5L2615.4 1387.1L2616.4 1255.7L2617.4 1400.1L2618.4 1227.1L2619.4 1403.6L2620.5 1258.5L2621.5 1320.4L2622.5 1244.9L2623.5 1319.6L2624.5 1206.5L2625.5 1400.1L2626.5 1254.2L2627.5 1357.8L2628.5 1267L2629.5 1355.7L2630.5 1264.5L2631.5 1319.4L2632.5 1250.6L2633.5 1400.1L2634.5 1252.9L2635.5 1323.1L2636.5 1264L2637.5 1378.8L2638.5 1251.6L2639.5 1320.4L2640.5 1248.3L2641.5 1353L2642.5 1268.2L2643.5 1323.8L2644.5 1263.9L2645.5 1308.7L2646.5 1263.9L2647.5 1308.7L2648.5 1263.9L2649.5 1308.7L2650.5 1263.9L2651.5 1308.7L2652.5 1263.9L2653.5 1314.9L2654.5 1244.3L2655.5 1341.5L2656.5 1243.2L2657.5 1378.6L2658.5 1204.4L2659.5 1350.6L2660.5 1210.1L2661.5 1322.9L2662.5 1221.3L2663.5 1365.7L2664.5 1229.3L2665.5 1357.4L2666.5 1249.3L2667.5 1400.1L2668.5 1224.2L2669.5 1369.3L2670.5 1248.9L2671.5 1323.8L2672.5 1249.8L2673.5 1400.1L2674.5 1184.8L2675.5 1350.6L2676.5 1246L2677.5 1318.2L2678.5 1222L2679.5 1353.6L2680.5 1245.5L2681.5 1322L2682.5 1250L2683.5 1369.2L2684.5 1219.6L2685.5 1400.1L2686.5 1249.8L2687.5 1352.2L2688.5 1259.8L2689.5 1321.6L2690.5 1255.1L2691.5 1339.4L2692.5 1267.5L2693.5 1321.6L2694.5 1268.4L2695.5 1380.9L2696.5 1259.6L2697.5 1341.9L2698.5 1255.7L2699.5 1356.4L2700.5 1267.1L2701.5 1317.9L2702.5 1253L2703.5 1319.7L2704.5 1265.1L2705.5 1400.1L2706.5 1257.3L2707.5 1362L2708.5 1267.7L2709.6 1359.4L2710.6 1253.1L2711.6 1357.4L2712.6 1268.7L2713.6 1318.8L2714.6 1257.9L2715.6 1350.9L2716.6 1267.2L2717.6 1322.8L2718.6 1258.9L2719.6 1345.7L2720.6 1264.8L2721.6 1394L2722.6 1256.7L2723.6 1353.4L2724.6 1266.9L2725.6 1320.3L2726.6 1253.1L2727.6 1373.4L2728.6 1267.7L2729.6 1321.4L2730.6 1267.9L2731.6 1361.8L2732.6 1243.7L2733.6 1400.1L2734.6 1242.4L2735.6 1358.9L2736.6 1256.9L2737.6 1319.3L2738.6 1197.8L2739.6 1323.6L2740.6 1216.7L2741.6 1382.9L2742.6 1247.5L2743.6 1428.3L2744.6 1217.5L2745.6 1428.3L2746.6 1213.1L2747.6 1428.3L2748.6 1249.4L2749.6 1367.2L2750.6 1225.8L2751.6 1322.3L2752.6 1228.8L2753.6 1366.7L2754.6 1250.3L2755.6 1318.7L2756.6 1204.4L2757.6 1348.6L2758.6 1249.1L2759.6 1428.3L2760.6 1250.5L2761.6 1322.2L2762.6 1233.6L2763.6 1351.7L2764.6 1215.2L2765.6 1317.2L2766.6 1231.4L2767.6 1319.8L2768.6 1280.5L2769.6 1280.5L2770.6 1280.5L2771.6 1280.5L2772.6 1280.5L2773.6 1280.5L2774.6 1317.4L2775.6 1317.4L2776.6 1317.4L2777.6 1317.4L2778.6 1317.4L2779.6 1280.5L2780.6 1280.5L2781.6 1280.5L2782.6 1280.5L2783.6 1341.3L2784.6 1317.4L2785.6 1317.4L2786.6 1317.4L2787.6 1317.4L2788.6 1317.4L2789.6 1280.5L2790.6 1280.5L2791.6 1280.5L2792.6 1280.5L2793.6 1280.5L2794.6 1280.5L2795.6 1280.5L2796.6 1280.5L2797.6 1397.9L2798.7 1250L2799.7 1317.4L2800.7 1219.6L2801.7 1317.4L2802.7 1317.4L2803.7 1280.5L2804.7 1280.5L2805.7 1296.6L2806.7 1269.5L2807.7 1308.7L2808.7 1263.9L2809.7 1308.7L2810.7 1263.9L2811.7 1308.7L2812.7 1263.9L2813.7 1308.7L2814.7 1263.9L2815.7 1308.7L2816.7 1263.9L2817.7 1308.7L2818.7 1271.8L2819.7 1293.5L2820.7 1280.5L2821.7 1397.9L2822.7 1219.6L2823.7 1293.5L2824.7 1280.5L2825.7 1293.5L2826.7 1280.5L2827.7 1306.2L2828.7 1263.9L2829.7 1308.7L2830.7 1263.9L2831.7 1308.7L2832.7 1263.9L2833.7 1308.7L2834.7 1263.9L2835.7 1308.5L2836.7 1269.6L2837.7 1395.7L2838.7 1280.5" fill="none" stroke="#b2232c" stroke-width="3" stroke-linejoin="round" stroke-linecap="round"/>
<path d="M1772.5 1465.3V1452.3M2077.4 1465.3V1452.3M2382.3 1465.3V1452.3M2687.2 1465.3V1452.3M1741.4 1366.4H1754.4M1741.4 1168.7H1754.4M1741.4 970.9H1754.4M2854.6 944.3H2841.6M2854.6 1056.5H2841.6M2854.6 1168.7H2841.6M2854.6 1280.9H2841.6M2854.6 1393.1H2841.6" stroke="#111" stroke-width="3" fill="none"/>
<rect x="1741.4" y="832.5" width="1113.2" height="632.8" fill="none" stroke="#111" stroke-width="3"/>
<text x="1772.7" y="1524.3" text-anchor="middle">0</text>
<text x="2077.6" y="1524.3" text-anchor="middle">5000</text>
<text x="2382.5" y="1524.3" text-anchor="middle">10000</text>
<text x="2687.4" y="1524.3" text-anchor="middle">15000</text>
<text x="1721" y="1379.4" text-anchor="end">2</text>
<text x="1721" y="1181.7" text-anchor="end">3</text>
<text x="1721" y="983.9" text-anchor="end">4</text>
<text x="2879" y="851.6">12</text>
<text x="2879" y="963.8">9</text>
<text x="2879" y="1076">6</text>
<text x="2879" y="1188.2">3</text>
<text x="2879" y="1300.4">0</text>
<text x="2879" y="1412.6">−3</text>
<text transform="translate(1656.1 1147.9) rotate(-90)" text-anchor="middle">Voltage/V</text>
<text transform="translate(2981.2 1150.9) rotate(-90)" text-anchor="middle">Current/A</text>
<text x="2297.6" y="1590.9" text-anchor="middle">Time/s</text>
<path d="M2548.8 880.2H2652.5" stroke="#2f2f33" stroke-width="3.3" stroke-linecap="round"/>
<path d="M2548.8 936.6H2652.5" stroke="#b2232c" stroke-width="3.3" stroke-linecap="round"/>
<text x="2664.3" y="894.9">Voltage</text>
<text x="2664.3" y="951.6">Current</text>
<text x="1771.4" y="896.7">(d)</text>
</g>
</svg></body></html>
